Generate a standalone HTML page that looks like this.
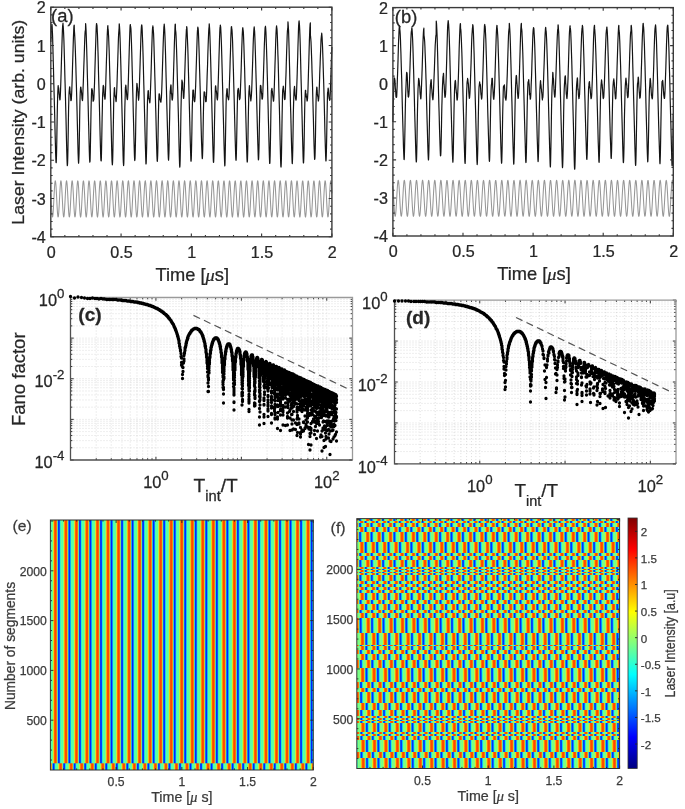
<!DOCTYPE html>
<html><head><meta charset="utf-8"><title>Figure</title>
<style>
html,body{margin:0;padding:0;background:#fff;width:685px;height:809px;overflow:hidden}
svg{display:block}
text{font-family:'Liberation Sans', Arial, sans-serif;fill:#262626;stroke:#262626;stroke-width:0.25px}
.tl{font-size:15.6px}
.al{font-size:17.5px}
.pl{font-size:17.5px}
.fl{font-size:17.3px}
.ts{font-size:12.2px;fill:#3a3a3a;stroke:#3a3a3a}
.as{font-size:13.8px;fill:#3a3a3a;stroke:#3a3a3a}
</style></head><body>
<svg width="685" height="809" viewBox="0 0 685 809"><defs><linearGradient id="gE" gradientUnits="userSpaceOnUse" x1="55.50" y1="0" x2="66.03" y2="0" spreadMethod="repeat"><stop offset="0.0000" stop-color="#ff4500"/><stop offset="0.0167" stop-color="#ff4700"/><stop offset="0.0333" stop-color="#ff4b00"/><stop offset="0.0500" stop-color="#ff5100"/><stop offset="0.0667" stop-color="#ff5b00"/><stop offset="0.0833" stop-color="#fe6a01"/><stop offset="0.1000" stop-color="#fb7f04"/><stop offset="0.1167" stop-color="#f2990d"/><stop offset="0.1333" stop-color="#e1b51e"/><stop offset="0.1500" stop-color="#c3ce3c"/><stop offset="0.1667" stop-color="#9add65"/><stop offset="0.1833" stop-color="#6cde93"/><stop offset="0.2000" stop-color="#41cebe"/><stop offset="0.2167" stop-color="#22b2dd"/><stop offset="0.2333" stop-color="#0f8ef0"/><stop offset="0.2500" stop-color="#0569fa"/><stop offset="0.2667" stop-color="#0249fd"/><stop offset="0.2833" stop-color="#0032ff"/><stop offset="0.3000" stop-color="#0024ff"/><stop offset="0.3167" stop-color="#001fff"/><stop offset="0.3333" stop-color="#0023ff"/><stop offset="0.3500" stop-color="#002eff"/><stop offset="0.3667" stop-color="#0041ff"/><stop offset="0.3833" stop-color="#015bfe"/><stop offset="0.4000" stop-color="#027bfd"/><stop offset="0.4167" stop-color="#059dfa"/><stop offset="0.4333" stop-color="#0cbef3"/><stop offset="0.4500" stop-color="#18d9e7"/><stop offset="0.4667" stop-color="#28ecd7"/><stop offset="0.4833" stop-color="#3af7c5"/><stop offset="0.5000" stop-color="#4bfcb4"/><stop offset="0.5167" stop-color="#58fea7"/><stop offset="0.5333" stop-color="#61ff9e"/><stop offset="0.5500" stop-color="#65ff9a"/><stop offset="0.5667" stop-color="#65ff9a"/><stop offset="0.5833" stop-color="#62ff9d"/><stop offset="0.6000" stop-color="#5dffa2"/><stop offset="0.6167" stop-color="#59ffa6"/><stop offset="0.6333" stop-color="#55ffaa"/><stop offset="0.6500" stop-color="#53ffac"/><stop offset="0.6667" stop-color="#53ffac"/><stop offset="0.6833" stop-color="#57ffa8"/><stop offset="0.7000" stop-color="#5effa1"/><stop offset="0.7167" stop-color="#69ff96"/><stop offset="0.7333" stop-color="#79ff86"/><stop offset="0.7500" stop-color="#8dfe72"/><stop offset="0.7667" stop-color="#a4fb5b"/><stop offset="0.7833" stop-color="#bef541"/><stop offset="0.8000" stop-color="#d5e92a"/><stop offset="0.8167" stop-color="#e7d618"/><stop offset="0.8333" stop-color="#f4be0b"/><stop offset="0.8500" stop-color="#fba404"/><stop offset="0.8667" stop-color="#fe8b01"/><stop offset="0.8833" stop-color="#ff7600"/><stop offset="0.9000" stop-color="#ff6600"/><stop offset="0.9167" stop-color="#ff5a00"/><stop offset="0.9333" stop-color="#ff5100"/><stop offset="0.9500" stop-color="#ff4b00"/><stop offset="0.9667" stop-color="#ff4700"/><stop offset="0.9833" stop-color="#ff4500"/><stop offset="1.0000" stop-color="#ff4500"/></linearGradient><linearGradient id="gE2" gradientUnits="userSpaceOnUse" x1="50.24" y1="0" x2="60.77" y2="0" spreadMethod="repeat"><stop offset="0.0000" stop-color="#ff4500"/><stop offset="0.0167" stop-color="#ff4700"/><stop offset="0.0333" stop-color="#ff4b00"/><stop offset="0.0500" stop-color="#ff5100"/><stop offset="0.0667" stop-color="#ff5b00"/><stop offset="0.0833" stop-color="#fe6a01"/><stop offset="0.1000" stop-color="#fb7f04"/><stop offset="0.1167" stop-color="#f2990d"/><stop offset="0.1333" stop-color="#e1b51e"/><stop offset="0.1500" stop-color="#c3ce3c"/><stop offset="0.1667" stop-color="#9add65"/><stop offset="0.1833" stop-color="#6cde93"/><stop offset="0.2000" stop-color="#41cebe"/><stop offset="0.2167" stop-color="#22b2dd"/><stop offset="0.2333" stop-color="#0f8ef0"/><stop offset="0.2500" stop-color="#0569fa"/><stop offset="0.2667" stop-color="#0249fd"/><stop offset="0.2833" stop-color="#0032ff"/><stop offset="0.3000" stop-color="#0024ff"/><stop offset="0.3167" stop-color="#001fff"/><stop offset="0.3333" stop-color="#0023ff"/><stop offset="0.3500" stop-color="#002eff"/><stop offset="0.3667" stop-color="#0041ff"/><stop offset="0.3833" stop-color="#015bfe"/><stop offset="0.4000" stop-color="#027bfd"/><stop offset="0.4167" stop-color="#059dfa"/><stop offset="0.4333" stop-color="#0cbef3"/><stop offset="0.4500" stop-color="#18d9e7"/><stop offset="0.4667" stop-color="#28ecd7"/><stop offset="0.4833" stop-color="#3af7c5"/><stop offset="0.5000" stop-color="#4bfcb4"/><stop offset="0.5167" stop-color="#58fea7"/><stop offset="0.5333" stop-color="#61ff9e"/><stop offset="0.5500" stop-color="#65ff9a"/><stop offset="0.5667" stop-color="#65ff9a"/><stop offset="0.5833" stop-color="#62ff9d"/><stop offset="0.6000" stop-color="#5dffa2"/><stop offset="0.6167" stop-color="#59ffa6"/><stop offset="0.6333" stop-color="#55ffaa"/><stop offset="0.6500" stop-color="#53ffac"/><stop offset="0.6667" stop-color="#53ffac"/><stop offset="0.6833" stop-color="#57ffa8"/><stop offset="0.7000" stop-color="#5effa1"/><stop offset="0.7167" stop-color="#69ff96"/><stop offset="0.7333" stop-color="#79ff86"/><stop offset="0.7500" stop-color="#8dfe72"/><stop offset="0.7667" stop-color="#a4fb5b"/><stop offset="0.7833" stop-color="#bef541"/><stop offset="0.8000" stop-color="#d5e92a"/><stop offset="0.8167" stop-color="#e7d618"/><stop offset="0.8333" stop-color="#f4be0b"/><stop offset="0.8500" stop-color="#fba404"/><stop offset="0.8667" stop-color="#fe8b01"/><stop offset="0.8833" stop-color="#ff7600"/><stop offset="0.9000" stop-color="#ff6600"/><stop offset="0.9167" stop-color="#ff5a00"/><stop offset="0.9333" stop-color="#ff5100"/><stop offset="0.9500" stop-color="#ff4b00"/><stop offset="0.9667" stop-color="#ff4700"/><stop offset="0.9833" stop-color="#ff4500"/><stop offset="1.0000" stop-color="#ff4500"/></linearGradient><linearGradient id="gX" gradientUnits="userSpaceOnUse" x1="364.55" y1="0" x2="375.97" y2="0" spreadMethod="repeat" gradientTransform="skewX(0.3552)"><stop offset="0.0000" stop-color="#ff4600"/><stop offset="0.0167" stop-color="#ff4900"/><stop offset="0.0333" stop-color="#ff4d00"/><stop offset="0.0500" stop-color="#ff5400"/><stop offset="0.0667" stop-color="#ff5e00"/><stop offset="0.0833" stop-color="#fe6d01"/><stop offset="0.1000" stop-color="#fc8203"/><stop offset="0.1167" stop-color="#f59d0a"/><stop offset="0.1333" stop-color="#e4bb1b"/><stop offset="0.1500" stop-color="#c6d539"/><stop offset="0.1667" stop-color="#9be564"/><stop offset="0.1833" stop-color="#6ae595"/><stop offset="0.2000" stop-color="#3ed7c1"/><stop offset="0.2167" stop-color="#1ebae1"/><stop offset="0.2333" stop-color="#0c97f3"/><stop offset="0.2500" stop-color="#0473fb"/><stop offset="0.2667" stop-color="#0154fe"/><stop offset="0.2833" stop-color="#003eff"/><stop offset="0.3000" stop-color="#0031ff"/><stop offset="0.3167" stop-color="#002dff"/><stop offset="0.3333" stop-color="#0031ff"/><stop offset="0.3500" stop-color="#003cff"/><stop offset="0.3667" stop-color="#004eff"/><stop offset="0.3833" stop-color="#0066ff"/><stop offset="0.4000" stop-color="#0184fe"/><stop offset="0.4167" stop-color="#04a5fb"/><stop offset="0.4333" stop-color="#0bc4f4"/><stop offset="0.4500" stop-color="#18dee7"/><stop offset="0.4667" stop-color="#2aefd5"/><stop offset="0.4833" stop-color="#40f9bf"/><stop offset="0.5000" stop-color="#56fda9"/><stop offset="0.5167" stop-color="#68ff97"/><stop offset="0.5333" stop-color="#76ff89"/><stop offset="0.5500" stop-color="#7fff80"/><stop offset="0.5667" stop-color="#83ff7c"/><stop offset="0.5833" stop-color="#83ff7c"/><stop offset="0.6000" stop-color="#81ff7e"/><stop offset="0.6167" stop-color="#7dff82"/><stop offset="0.6333" stop-color="#78ff87"/><stop offset="0.6500" stop-color="#74ff8b"/><stop offset="0.6667" stop-color="#71ff8e"/><stop offset="0.6833" stop-color="#71ff8e"/><stop offset="0.7000" stop-color="#75ff8a"/><stop offset="0.7167" stop-color="#7dff82"/><stop offset="0.7333" stop-color="#8aff75"/><stop offset="0.7500" stop-color="#9bfe64"/><stop offset="0.7667" stop-color="#b1fc4e"/><stop offset="0.7833" stop-color="#c8f637"/><stop offset="0.8000" stop-color="#deea21"/><stop offset="0.8167" stop-color="#eed611"/><stop offset="0.8333" stop-color="#f8bd07"/><stop offset="0.8500" stop-color="#fca203"/><stop offset="0.8667" stop-color="#fe8901"/><stop offset="0.8833" stop-color="#ff7500"/><stop offset="0.9000" stop-color="#ff6500"/><stop offset="0.9167" stop-color="#ff5900"/><stop offset="0.9333" stop-color="#ff5100"/><stop offset="0.9500" stop-color="#ff4b00"/><stop offset="0.9667" stop-color="#ff4800"/><stop offset="0.9833" stop-color="#ff4600"/><stop offset="1.0000" stop-color="#ff4600"/></linearGradient><linearGradient id="gY" gradientUnits="userSpaceOnUse" x1="358.65" y1="0" x2="370.07" y2="0" spreadMethod="repeat" gradientTransform="skewX(0.3552)"><stop offset="0.0000" stop-color="#ff4600"/><stop offset="0.0167" stop-color="#ff4900"/><stop offset="0.0333" stop-color="#ff4d00"/><stop offset="0.0500" stop-color="#ff5400"/><stop offset="0.0667" stop-color="#ff5e00"/><stop offset="0.0833" stop-color="#fe6d01"/><stop offset="0.1000" stop-color="#fc8203"/><stop offset="0.1167" stop-color="#f59d0a"/><stop offset="0.1333" stop-color="#e4bb1b"/><stop offset="0.1500" stop-color="#c6d539"/><stop offset="0.1667" stop-color="#9be564"/><stop offset="0.1833" stop-color="#6ae595"/><stop offset="0.2000" stop-color="#3ed7c1"/><stop offset="0.2167" stop-color="#1ebae1"/><stop offset="0.2333" stop-color="#0c97f3"/><stop offset="0.2500" stop-color="#0473fb"/><stop offset="0.2667" stop-color="#0154fe"/><stop offset="0.2833" stop-color="#003eff"/><stop offset="0.3000" stop-color="#0031ff"/><stop offset="0.3167" stop-color="#002dff"/><stop offset="0.3333" stop-color="#0031ff"/><stop offset="0.3500" stop-color="#003cff"/><stop offset="0.3667" stop-color="#004eff"/><stop offset="0.3833" stop-color="#0066ff"/><stop offset="0.4000" stop-color="#0184fe"/><stop offset="0.4167" stop-color="#04a5fb"/><stop offset="0.4333" stop-color="#0bc4f4"/><stop offset="0.4500" stop-color="#18dee7"/><stop offset="0.4667" stop-color="#2aefd5"/><stop offset="0.4833" stop-color="#40f9bf"/><stop offset="0.5000" stop-color="#56fda9"/><stop offset="0.5167" stop-color="#68ff97"/><stop offset="0.5333" stop-color="#76ff89"/><stop offset="0.5500" stop-color="#7fff80"/><stop offset="0.5667" stop-color="#83ff7c"/><stop offset="0.5833" stop-color="#83ff7c"/><stop offset="0.6000" stop-color="#81ff7e"/><stop offset="0.6167" stop-color="#7dff82"/><stop offset="0.6333" stop-color="#78ff87"/><stop offset="0.6500" stop-color="#74ff8b"/><stop offset="0.6667" stop-color="#71ff8e"/><stop offset="0.6833" stop-color="#71ff8e"/><stop offset="0.7000" stop-color="#75ff8a"/><stop offset="0.7167" stop-color="#7dff82"/><stop offset="0.7333" stop-color="#8aff75"/><stop offset="0.7500" stop-color="#9bfe64"/><stop offset="0.7667" stop-color="#b1fc4e"/><stop offset="0.7833" stop-color="#c8f637"/><stop offset="0.8000" stop-color="#deea21"/><stop offset="0.8167" stop-color="#eed611"/><stop offset="0.8333" stop-color="#f8bd07"/><stop offset="0.8500" stop-color="#fca203"/><stop offset="0.8667" stop-color="#fe8901"/><stop offset="0.8833" stop-color="#ff7500"/><stop offset="0.9000" stop-color="#ff6500"/><stop offset="0.9167" stop-color="#ff5900"/><stop offset="0.9333" stop-color="#ff5100"/><stop offset="0.9500" stop-color="#ff4b00"/><stop offset="0.9667" stop-color="#ff4800"/><stop offset="0.9833" stop-color="#ff4600"/><stop offset="1.0000" stop-color="#ff4600"/></linearGradient><linearGradient id="gC" x1="0" y1="1" x2="0" y2="0"><stop offset="0.0000" stop-color="#000080"/><stop offset="0.0156" stop-color="#00008f"/><stop offset="0.0312" stop-color="#00009f"/><stop offset="0.0469" stop-color="#0000af"/><stop offset="0.0625" stop-color="#0000bf"/><stop offset="0.0781" stop-color="#0000cf"/><stop offset="0.0938" stop-color="#0000df"/><stop offset="0.1094" stop-color="#0000ef"/><stop offset="0.1250" stop-color="#0000ff"/><stop offset="0.1406" stop-color="#0010ff"/><stop offset="0.1562" stop-color="#0020ff"/><stop offset="0.1719" stop-color="#0030ff"/><stop offset="0.1875" stop-color="#0040ff"/><stop offset="0.2031" stop-color="#0050ff"/><stop offset="0.2188" stop-color="#0060ff"/><stop offset="0.2344" stop-color="#0070ff"/><stop offset="0.2500" stop-color="#0080ff"/><stop offset="0.2656" stop-color="#008fff"/><stop offset="0.2812" stop-color="#009fff"/><stop offset="0.2969" stop-color="#00afff"/><stop offset="0.3125" stop-color="#00bfff"/><stop offset="0.3281" stop-color="#00cfff"/><stop offset="0.3438" stop-color="#00dfff"/><stop offset="0.3594" stop-color="#00efff"/><stop offset="0.3750" stop-color="#00ffff"/><stop offset="0.3906" stop-color="#10ffef"/><stop offset="0.4062" stop-color="#20ffdf"/><stop offset="0.4219" stop-color="#30ffcf"/><stop offset="0.4375" stop-color="#40ffbf"/><stop offset="0.4531" stop-color="#50ffaf"/><stop offset="0.4688" stop-color="#60ff9f"/><stop offset="0.4844" stop-color="#70ff8f"/><stop offset="0.5000" stop-color="#80ff80"/><stop offset="0.5156" stop-color="#8fff70"/><stop offset="0.5312" stop-color="#9fff60"/><stop offset="0.5469" stop-color="#afff50"/><stop offset="0.5625" stop-color="#bfff40"/><stop offset="0.5781" stop-color="#cfff30"/><stop offset="0.5938" stop-color="#dfff20"/><stop offset="0.6094" stop-color="#efff10"/><stop offset="0.6250" stop-color="#ffff00"/><stop offset="0.6406" stop-color="#ffef00"/><stop offset="0.6562" stop-color="#ffdf00"/><stop offset="0.6719" stop-color="#ffcf00"/><stop offset="0.6875" stop-color="#ffbf00"/><stop offset="0.7031" stop-color="#ffaf00"/><stop offset="0.7188" stop-color="#ff9f00"/><stop offset="0.7344" stop-color="#ff8f00"/><stop offset="0.7500" stop-color="#ff8000"/><stop offset="0.7656" stop-color="#ff7000"/><stop offset="0.7812" stop-color="#ff6000"/><stop offset="0.7969" stop-color="#ff5000"/><stop offset="0.8125" stop-color="#ff4000"/><stop offset="0.8281" stop-color="#ff3000"/><stop offset="0.8438" stop-color="#ff2000"/><stop offset="0.8594" stop-color="#ff1000"/><stop offset="0.8750" stop-color="#ff0000"/><stop offset="0.8906" stop-color="#ef0000"/><stop offset="0.9062" stop-color="#df0000"/><stop offset="0.9219" stop-color="#cf0000"/><stop offset="0.9375" stop-color="#bf0000"/><stop offset="0.9531" stop-color="#af0000"/><stop offset="0.9688" stop-color="#9f0000"/><stop offset="0.9844" stop-color="#8f0000"/><stop offset="1.0000" stop-color="#800000"/></linearGradient></defs><path d="M50.80 193.36 50.92 195.64 51.03 197.98 51.15 200.33 51.27 202.66 51.39 204.92 51.50 207.09 51.62 209.11 51.74 210.96 51.85 212.60 51.97 214.01 52.09 215.15 52.21 216.02 52.32 216.60 52.44 216.88 52.56 216.84 52.67 216.51 52.79 215.86 52.91 214.93 53.03 213.73 53.14 212.27 53.26 210.58 53.38 208.69 53.49 206.64 53.61 204.45 53.73 202.17 53.85 199.83 53.96 197.48 54.08 195.15 54.20 192.89 54.32 190.72 54.43 188.70 54.55 186.86 54.67 185.22 54.78 183.81 54.90 182.67 55.02 181.80 55.14 181.23 55.25 180.95 55.37 180.99 55.49 181.33 55.60 181.98 55.72 182.91 55.84 184.12 55.96 185.58 56.07 187.27 56.19 189.16 56.31 191.21 56.42 193.40 56.54 195.69 56.66 198.02 56.78 200.38 56.89 202.71 57.01 204.97 57.13 207.13 57.24 209.15 57.36 210.99 57.48 212.63 57.60 214.03 57.71 215.17 57.83 216.04 57.95 216.61 58.06 216.88 58.18 216.84 58.30 216.50 58.42 215.85 58.53 214.91 58.65 213.70 58.77 212.24 58.88 210.54 59.00 208.65 59.12 206.60 59.24 204.41 59.35 202.12 59.47 199.78 59.59 197.43 59.71 195.10 59.82 192.84 59.94 190.68 60.06 188.67 60.17 186.82 60.29 185.19 60.41 183.79 60.53 182.65 60.64 181.79 60.76 181.22 60.88 180.95 60.99 180.99 61.11 181.34 61.23 181.99 61.35 182.93 61.46 184.14 61.58 185.61 61.70 187.31 61.81 189.20 61.93 191.26 62.05 193.45 62.17 195.73 62.28 198.07 62.40 200.42 62.52 202.75 62.63 205.01 62.75 207.17 62.87 209.19 62.99 211.03 63.10 212.66 63.22 214.06 63.34 215.19 63.45 216.05 63.57 216.62 63.69 216.88 63.81 216.84 63.92 216.49 64.04 215.83 64.16 214.89 64.27 213.67 64.39 212.21 64.51 210.51 64.63 208.61 64.74 206.55 64.86 204.36 64.98 202.08 65.10 199.74 65.21 197.38 65.33 195.06 65.45 192.80 65.56 190.64 65.68 188.63 65.80 186.79 65.92 185.16 66.03 183.76 66.15 182.63 66.27 181.77 66.38 181.21 66.50 180.95 66.62 181.00 66.74 181.35 66.85 182.01 66.97 182.95 67.09 184.17 67.20 185.64 67.32 187.34 67.44 189.24 67.56 191.30 67.67 193.49 67.79 195.78 67.91 198.12 68.02 200.47 68.14 202.80 68.26 205.06 68.38 207.21 68.49 209.22 68.61 211.06 68.73 212.69 68.84 214.08 68.96 215.21 69.08 216.07 69.20 216.63 69.31 216.88 69.43 216.83 69.55 216.47 69.66 215.82 69.78 214.87 69.90 213.65 70.02 212.17 70.13 210.47 70.25 208.57 70.37 206.51 70.49 204.32 70.60 202.03 70.72 199.69 70.84 197.34 70.95 195.01 71.07 192.75 71.19 190.60 71.31 188.59 71.42 186.75 71.54 185.13 71.66 183.74 71.77 182.61 71.89 181.76 72.01 181.20 72.13 180.95 72.24 181.00 72.36 181.36 72.48 182.02 72.59 182.97 72.71 184.20 72.83 185.67 72.95 187.38 73.06 189.28 73.18 191.34 73.30 193.54 73.41 195.82 73.53 198.16 73.65 200.52 73.77 202.84 73.88 205.10 74.00 207.25 74.12 209.26 74.23 211.10 74.35 212.72 74.47 214.11 74.59 215.23 74.70 216.08 74.82 216.64 74.94 216.89 75.05 216.83 75.17 216.46 75.29 215.80 75.41 214.85 75.52 213.62 75.64 212.14 75.76 210.44 75.88 208.53 75.99 206.47 76.11 204.27 76.23 201.98 76.34 199.64 76.46 197.29 76.58 194.97 76.70 192.71 76.81 190.56 76.93 188.55 77.05 186.72 77.16 185.10 77.28 183.71 77.40 182.59 77.52 181.74 77.63 181.19 77.75 180.94 77.87 181.01 77.98 181.37 78.10 182.04 78.22 183.00 78.34 184.23 78.45 185.71 78.57 187.41 78.69 189.32 78.80 191.39 78.92 193.58 79.04 195.87 79.16 198.21 79.27 200.56 79.39 202.89 79.51 205.15 79.62 207.30 79.74 209.30 79.86 211.13 79.98 212.75 80.09 214.13 80.21 215.25 80.33 216.10 80.44 216.64 80.56 216.89 80.68 216.82 80.80 216.45 80.91 215.78 81.03 214.82 81.15 213.59 81.27 212.11 81.38 210.40 81.50 208.49 81.62 206.43 81.73 204.23 81.85 201.94 81.97 199.60 82.09 197.24 82.20 194.92 82.32 192.66 82.44 190.52 82.55 188.51 82.67 186.68 82.79 185.07 82.91 183.69 83.02 182.57 83.14 181.73 83.26 181.18 83.37 180.94 83.49 181.01 83.61 181.38 83.73 182.06 83.84 183.02 83.96 184.25 84.08 185.74 84.19 187.45 84.31 189.36 84.43 191.43 84.55 193.63 84.66 195.92 84.78 198.26 84.90 200.61 85.01 202.94 85.13 205.19 85.25 207.34 85.37 209.34 85.48 211.16 85.60 212.78 85.72 214.16 85.83 215.27 85.95 216.11 86.07 216.65 86.19 216.89 86.30 216.82 86.42 216.44 86.54 215.77 86.66 214.80 86.77 213.57 86.89 212.08 87.01 210.36 87.12 208.45 87.24 206.38 87.36 204.18 87.48 201.89 87.59 199.55 87.71 197.20 87.83 194.87 87.94 192.62 88.06 190.47 88.18 188.47 88.30 186.65 88.41 185.04 88.53 183.66 88.65 182.55 88.76 181.72 88.88 181.18 89.00 180.94 89.12 181.01 89.23 181.39 89.35 182.07 89.47 183.04 89.58 184.28 89.70 185.77 89.82 187.49 89.94 189.40 90.05 191.47 90.17 193.67 90.29 195.96 90.40 198.31 90.52 200.66 90.64 202.98 90.76 205.23 90.87 207.38 90.99 209.38 91.11 211.20 91.22 212.81 91.34 214.18 91.46 215.29 91.58 216.12 91.69 216.66 91.81 216.89 91.93 216.82 92.05 216.43 92.16 215.75 92.28 214.78 92.40 213.54 92.51 212.05 92.63 210.33 92.75 208.42 92.87 206.34 92.98 204.14 93.10 201.84 93.22 199.50 93.33 197.15 93.45 194.83 93.57 192.58 93.69 190.43 93.80 188.43 93.92 186.62 94.04 185.01 94.15 183.64 94.27 182.53 94.39 181.70 94.51 181.17 94.62 180.94 94.74 181.02 94.86 181.40 94.97 182.09 95.09 183.06 95.21 184.31 95.33 185.80 95.44 187.52 95.56 189.44 95.68 191.51 95.79 193.72 95.91 196.01 96.03 198.35 96.15 200.71 96.26 203.03 96.38 205.28 96.50 207.42 96.61 209.42 96.73 211.23 96.85 212.84 96.97 214.21 97.08 215.31 97.20 216.14 97.32 216.67 97.44 216.89 97.55 216.81 97.67 216.42 97.79 215.73 97.90 214.76 98.02 213.51 98.14 212.01 98.26 210.29 98.37 208.37 98.49 206.30 98.61 204.09 98.72 201.80 98.84 199.46 98.96 197.10 99.08 194.78 99.19 192.53 99.31 190.39 99.43 188.40 99.54 186.58 99.66 184.98 99.78 183.61 99.90 182.51 100.01 181.69 100.13 181.16 100.25 180.94 100.36 181.02 100.48 181.41 100.60 182.11 100.72 183.09 100.83 184.34 100.95 185.83 101.07 187.56 101.18 189.48 101.30 191.56 101.42 193.76 101.54 196.06 101.65 198.40 101.77 200.75 101.89 203.07 102.00 205.32 102.12 207.46 102.24 209.46 102.36 211.27 102.47 212.87 102.59 214.23 102.71 215.33 102.83 216.15 102.94 216.67 103.06 216.89 103.18 216.81 103.29 216.41 103.41 215.72 103.53 214.74 103.65 213.48 103.76 211.98 103.88 210.25 104.00 208.33 104.11 206.25 104.23 204.05 104.35 201.75 104.47 199.41 104.58 197.06 104.70 194.74 104.82 192.49 104.93 190.35 105.05 188.36 105.17 186.55 105.29 184.95 105.40 183.59 105.52 182.49 105.64 181.67 105.75 181.15 105.87 180.94 105.99 181.03 106.11 181.43 106.22 182.12 106.34 183.11 106.46 184.36 106.57 185.87 106.69 187.60 106.81 189.52 106.93 191.60 107.04 193.81 107.16 196.10 107.28 198.45 107.39 200.80 107.51 203.12 107.63 205.37 107.75 207.50 107.86 209.49 107.98 211.30 108.10 212.90 108.22 214.26 108.33 215.35 108.45 216.16 108.57 216.68 108.68 216.90 108.80 216.80 108.92 216.40 109.04 215.70 109.15 214.71 109.27 213.46 109.39 211.95 109.50 210.22 109.62 208.29 109.74 206.21 109.86 204.00 109.97 201.71 110.09 199.36 110.21 197.01 110.32 194.69 110.44 192.44 110.56 190.31 110.68 188.32 110.79 186.51 110.91 184.92 111.03 183.56 111.14 182.47 111.26 181.66 111.38 181.15 111.50 180.94 111.61 181.03 111.73 181.44 111.85 182.14 111.96 183.13 112.08 184.39 112.20 185.90 112.32 187.63 112.43 189.56 112.55 191.64 112.67 193.85 112.78 196.15 112.90 198.49 113.02 200.85 113.14 203.16 113.25 205.41 113.37 207.54 113.49 209.53 113.61 211.34 113.72 212.93 113.84 214.28 113.96 215.37 114.07 216.18 114.19 216.69 114.31 216.90 114.43 216.80 114.54 216.39 114.66 215.68 114.78 214.69 114.89 213.43 115.01 211.92 115.13 210.18 115.25 208.25 115.36 206.17 115.48 203.96 115.60 201.66 115.71 199.31 115.83 196.96 115.95 194.64 116.07 192.40 116.18 190.27 116.30 188.28 116.42 186.48 116.53 184.89 116.65 183.54 116.77 182.45 116.89 181.65 117.00 181.14 117.12 180.93 117.24 181.04 117.35 181.45 117.47 182.16 117.59 183.15 117.71 184.42 117.82 185.93 117.94 187.67 118.06 189.60 118.17 191.69 118.29 193.90 118.41 196.20 118.53 198.54 118.64 200.89 118.76 203.21 118.88 205.45 119.00 207.59 119.11 209.57 119.23 211.37 119.35 212.96 119.46 214.31 119.58 215.39 119.70 216.19 119.82 216.70 119.93 216.90 120.05 216.79 120.17 216.38 120.28 215.67 120.40 214.67 120.52 213.40 120.64 211.88 120.75 210.14 120.87 208.21 120.99 206.12 121.10 203.91 121.22 201.61 121.34 199.27 121.46 196.92 121.57 194.60 121.69 192.36 121.81 190.23 121.92 188.24 122.04 186.44 122.16 184.86 122.28 183.51 122.39 182.43 122.51 181.63 122.63 181.13 122.74 180.93 122.86 181.04 122.98 181.46 123.10 182.17 123.21 183.18 123.33 184.45 123.45 185.96 123.56 187.71 123.68 189.64 123.80 191.73 123.92 193.94 124.03 196.24 124.15 198.59 124.27 200.94 124.39 203.26 124.50 205.50 124.62 207.63 124.74 209.61 124.85 211.40 124.97 212.99 125.09 214.33 125.21 215.41 125.32 216.20 125.44 216.70 125.56 216.90 125.67 216.79 125.79 216.37 125.91 215.65 126.03 214.65 126.14 213.37 126.26 211.85 126.38 210.11 126.49 208.17 126.61 206.08 126.73 203.87 126.85 201.57 126.96 199.22 127.08 196.87 127.20 194.55 127.31 192.31 127.43 190.18 127.55 188.21 127.67 186.41 127.78 184.83 127.90 183.49 128.02 182.41 128.13 181.62 128.25 181.13 128.37 180.93 128.49 181.05 128.60 181.47 128.72 182.19 128.84 183.20 128.95 184.47 129.07 186.00 129.19 187.74 129.31 189.68 129.42 191.77 129.54 193.99 129.66 196.29 129.78 198.64 129.89 200.99 130.01 203.30 130.13 205.54 130.24 207.67 130.36 209.65 130.48 211.44 130.60 213.02 130.71 214.35 130.83 215.43 130.95 216.22 131.06 216.71 131.18 216.90 131.30 216.78 131.42 216.36 131.53 215.63 131.65 214.62 131.77 213.34 131.88 211.82 132.00 210.07 132.12 208.13 132.24 206.04 132.35 203.82 132.47 201.52 132.59 199.17 132.70 196.82 132.82 194.51 132.94 192.27 133.06 190.14 133.17 188.17 133.29 186.38 133.41 184.80 133.52 183.47 133.64 182.40 133.76 181.61 133.88 181.12 133.99 180.93 134.11 181.05 134.23 181.48 134.34 182.21 134.46 183.22 134.58 184.50 134.70 186.03 134.81 187.78 134.93 189.72 135.05 191.82 135.17 194.03 135.28 196.34 135.40 198.68 135.52 201.03 135.63 203.35 135.75 205.59 135.87 207.71 135.99 209.68 136.10 211.47 136.22 213.05 136.34 214.38 136.45 215.45 136.57 216.23 136.69 216.72 136.81 216.90 136.92 216.77 137.04 216.34 137.16 215.61 137.27 214.60 137.39 213.32 137.51 211.79 137.63 210.03 137.74 208.09 137.86 205.99 137.98 203.77 138.09 201.47 138.21 199.13 138.33 196.78 138.45 194.46 138.56 192.22 138.68 190.10 138.80 188.13 138.91 186.34 139.03 184.77 139.15 183.44 139.27 182.38 139.38 181.60 139.50 181.11 139.62 180.93 139.73 181.06 139.85 181.49 139.97 182.23 140.09 183.24 140.20 184.53 140.32 186.06 140.44 187.82 140.56 189.76 140.67 191.86 140.79 194.08 140.91 196.38 141.02 198.73 141.14 201.08 141.26 203.39 141.38 205.63 141.49 207.75 141.61 209.72 141.73 211.51 141.84 213.07 141.96 214.40 142.08 215.46 142.20 216.24 142.31 216.72 142.43 216.90 142.55 216.77 142.66 216.33 142.78 215.60 142.90 214.58 143.02 213.29 143.13 211.75 143.25 210.00 143.37 208.05 143.48 205.95 143.60 203.73 143.72 201.43 143.84 199.08 143.95 196.73 144.07 194.42 144.19 192.18 144.30 190.06 144.42 188.09 144.54 186.31 144.66 184.74 144.77 183.42 144.89 182.36 145.01 181.58 145.12 181.10 145.24 180.93 145.36 181.07 145.48 181.51 145.59 182.24 145.71 183.27 145.83 184.56 145.95 186.10 146.06 187.85 146.18 189.80 146.30 191.90 146.41 194.13 146.53 196.43 146.65 198.78 146.77 201.13 146.88 203.44 147.00 205.67 147.12 207.79 147.23 209.76 147.35 211.54 147.47 213.10 147.59 214.43 147.70 215.48 147.82 216.25 147.94 216.73 148.05 216.90 148.17 216.76 148.29 216.32 148.41 215.58 148.52 214.55 148.64 213.26 148.76 211.72 148.87 209.96 148.99 208.01 149.11 205.91 149.23 203.68 149.34 201.38 149.46 199.03 149.58 196.68 149.69 194.37 149.81 192.14 149.93 190.02 150.05 188.06 150.16 186.28 150.28 184.71 150.40 183.39 150.51 182.34 150.63 181.57 150.75 181.10 150.87 180.93 150.98 181.07 151.10 181.52 151.22 182.26 151.34 183.29 151.45 184.59 151.57 186.13 151.69 187.89 151.80 189.84 151.92 191.95 152.04 194.17 152.16 196.48 152.27 198.82 152.39 201.17 152.51 203.48 152.62 205.72 152.74 207.83 152.86 209.80 152.98 211.57 153.09 213.13 153.21 214.45 153.33 215.50 153.44 216.27 153.56 216.74 153.68 216.90 153.80 216.76 153.91 216.31 154.03 215.56 154.15 214.53 154.26 213.23 154.38 211.69 154.50 209.92 154.62 207.97 154.73 205.86 154.85 203.64 154.97 201.33 155.08 198.98 155.20 196.64 155.32 194.33 155.44 192.09 155.55 189.98 155.67 188.02 155.79 186.24 155.90 184.68 156.02 183.37 156.14 182.32 156.26 181.56 156.37 181.09 156.49 180.93 156.61 181.08 156.73 181.53 156.84 182.28 156.96 183.31 157.08 184.62 157.19 186.16 157.31 187.93 157.43 189.88 157.55 191.99 157.66 194.22 157.78 196.52 157.90 198.87 158.01 201.22 158.13 203.53 158.25 205.76 158.37 207.87 158.48 209.83 158.60 211.61 158.72 213.16 158.83 214.47 158.95 215.52 159.07 216.28 159.19 216.74 159.30 216.90 159.42 216.75 159.54 216.30 159.65 215.54 159.77 214.51 159.89 213.20 160.01 211.65 160.12 209.89 160.24 207.93 160.36 205.82 160.47 203.59 160.59 201.29 160.71 198.94 160.83 196.59 160.94 194.28 161.06 192.05 161.18 189.94 161.29 187.98 161.41 186.21 161.53 184.66 161.65 183.35 161.76 182.30 161.88 181.55 162.00 181.09 162.12 180.93 162.23 181.08 162.35 181.54 162.47 182.30 162.58 183.34 162.70 184.64 162.82 186.20 162.94 187.97 163.05 189.92 163.17 192.03 163.29 194.26 163.40 196.57 163.52 198.92 163.64 201.27 163.76 203.58 163.87 205.80 163.99 207.91 164.11 209.87 164.22 211.64 164.34 213.19 164.46 214.50 164.58 215.54 164.69 216.29 164.81 216.75 164.93 216.90 165.04 216.75 165.16 216.28 165.28 215.53 165.40 214.48 165.51 213.17 165.63 211.62 165.75 209.85 165.86 207.89 165.98 205.78 166.10 203.55 166.22 201.24 166.33 198.89 166.45 196.54 166.57 194.23 166.68 192.01 166.80 189.90 166.92 187.94 167.04 186.18 167.15 184.63 167.27 183.32 167.39 182.29 167.51 181.53 167.62 181.08 167.74 180.93 167.86 181.09 167.97 181.55 168.09 182.32 168.21 183.36 168.33 184.67 168.44 186.23 168.56 188.00 168.68 189.96 168.79 192.08 168.91 194.31 169.03 196.62 169.15 198.97 169.26 201.31 169.38 203.62 169.50 205.85 169.61 207.95 169.73 209.91 169.85 211.67 169.97 213.22 170.08 214.52 170.20 215.55 170.32 216.30 170.43 216.76 170.55 216.90 170.67 216.74 170.79 216.27 170.90 215.51 171.02 214.46 171.14 213.14 171.25 211.59 171.37 209.81 171.49 207.85 171.61 205.73 171.72 203.50 171.84 201.19 171.96 198.84 172.07 196.50 172.19 194.19 172.31 191.96 172.43 189.86 172.54 187.91 172.66 186.14 172.78 184.60 172.90 183.30 173.01 182.27 173.13 181.52 173.25 181.07 173.36 180.93 173.48 181.10 173.60 181.57 173.72 182.33 173.83 183.38 173.95 184.70 174.07 186.26 174.18 188.04 174.30 190.00 174.42 192.12 174.54 194.35 174.65 196.66 174.77 199.01 174.89 201.36 175.00 203.67 175.12 205.89 175.24 208.00 175.36 209.95 175.47 211.71 175.59 213.25 175.71 214.54 175.82 215.57 175.94 216.32 176.06 216.76 176.18 216.90 176.29 216.73 176.41 216.26 176.53 215.49 176.64 214.44 176.76 213.12 176.88 211.55 177.00 209.77 177.11 207.81 177.23 205.69 177.35 203.46 177.46 201.15 177.58 198.80 177.70 196.45 177.82 194.14 177.93 191.92 178.05 189.82 178.17 187.87 178.29 186.11 178.40 184.57 178.52 183.28 178.64 182.25 178.75 181.51 178.87 181.07 178.99 180.93 179.11 181.10 179.22 181.58 179.34 182.35 179.46 183.41 179.57 184.73 179.69 186.30 179.81 188.08 179.93 190.04 180.04 192.16 180.16 194.40 180.28 196.71 180.39 199.06 180.51 201.41 180.63 203.71 180.75 205.93 180.86 208.04 180.98 209.98 181.10 211.74 181.21 213.28 181.33 214.57 181.45 215.59 181.57 216.33 181.68 216.77 181.80 216.90 181.92 216.73 182.03 216.25 182.15 215.47 182.27 214.41 182.39 213.09 182.50 211.52 182.62 209.74 182.74 207.77 182.85 205.65 182.97 203.41 183.09 201.10 183.21 198.75 183.32 196.40 183.44 194.10 183.56 191.88 183.68 189.78 183.79 187.83 183.91 186.08 184.03 184.54 184.14 183.25 184.26 182.23 184.38 181.50 184.50 181.06 184.61 180.93 184.73 181.11 184.85 181.59 184.96 182.37 185.08 183.43 185.20 184.76 185.32 186.33 185.43 188.12 185.55 190.09 185.67 192.21 185.78 194.44 185.90 196.76 186.02 199.11 186.14 201.45 186.25 203.76 186.37 205.98 186.49 208.08 186.60 210.02 186.72 211.77 186.84 213.30 186.96 214.59 187.07 215.61 187.19 216.34 187.31 216.77 187.42 216.90 187.54 216.72 187.66 216.23 187.78 215.45 187.89 214.39 188.01 213.06 188.13 211.49 188.24 209.70 188.36 207.73 188.48 205.60 188.60 203.37 188.71 201.05 188.83 198.70 188.95 196.36 189.07 194.05 189.18 191.83 189.30 189.73 189.42 187.79 189.53 186.04 189.65 184.51 189.77 183.23 189.89 182.22 190.00 181.49 190.12 181.06 190.24 180.93 190.35 181.12 190.47 181.60 190.59 182.39 190.71 183.46 190.82 184.79 190.94 186.36 191.06 188.15 191.17 190.13 191.29 192.25 191.41 194.49 191.53 196.80 191.64 199.15 191.76 201.50 191.88 203.80 191.99 206.02 192.11 208.12 192.23 210.06 192.35 211.80 192.46 213.33 192.58 214.61 192.70 215.63 192.81 216.35 192.93 216.78 193.05 216.90 193.17 216.71 193.28 216.22 193.40 215.43 193.52 214.36 193.63 213.03 193.75 211.45 193.87 209.66 193.99 207.68 194.10 205.56 194.22 203.32 194.34 201.01 194.46 198.65 194.57 196.31 194.69 194.01 194.81 191.79 194.92 189.69 195.04 187.76 195.16 186.01 195.28 184.49 195.39 183.21 195.51 182.20 195.63 181.48 195.74 181.05 195.86 180.93 195.98 181.12 196.10 181.62 196.21 182.41 196.33 183.48 196.45 184.82 196.56 186.40 196.68 188.19 196.80 190.17 196.92 192.29 197.03 194.53 197.15 196.85 197.27 199.20 197.38 201.55 197.50 203.85 197.62 206.06 197.74 208.16 197.85 210.09 197.97 211.84 198.09 213.36 198.20 214.64 198.32 215.64 198.44 216.36 198.56 216.78 198.67 216.90 198.79 216.71 198.91 216.21 199.02 215.42 199.14 214.34 199.26 213.00 199.38 211.42 199.49 209.62 199.61 207.64 199.73 205.52 199.85 203.27 199.96 200.96 200.08 198.61 200.20 196.26 200.31 193.96 200.43 191.75 200.55 189.65 200.67 187.72 200.78 185.98 200.90 184.46 201.02 183.18 201.13 182.18 201.25 181.46 201.37 181.05 201.49 180.93 201.60 181.13 201.72 181.63 201.84 182.43 201.95 183.50 202.07 184.85 202.19 186.43 202.31 188.23 202.42 190.21 202.54 192.34 202.66 194.58 202.77 196.90 202.89 199.25 203.01 201.59 203.13 203.89 203.24 206.11 203.36 208.20 203.48 210.13 203.59 211.87 203.71 213.39 203.83 214.66 203.95 215.66 204.06 216.37 204.18 216.79 204.30 216.90 204.41 216.70 204.53 216.20 204.65 215.40 204.77 214.31 204.88 212.97 205.00 211.38 205.12 209.58 205.24 207.60 205.35 205.47 205.47 203.23 205.59 200.91 205.70 198.56 205.82 196.22 205.94 193.92 206.06 191.70 206.17 189.61 206.29 187.68 206.41 185.95 206.52 184.43 206.64 183.16 206.76 182.16 206.88 181.45 206.99 181.04 207.11 180.93 207.23 181.14 207.34 181.64 207.46 182.44 207.58 183.53 207.70 184.88 207.81 186.47 207.93 188.27 208.05 190.25 208.16 192.38 208.28 194.63 208.40 196.94 208.52 199.30 208.63 201.64 208.75 203.94 208.87 206.15 208.98 208.24 209.10 210.17 209.22 211.90 209.34 213.42 209.45 214.68 209.57 215.68 209.69 216.39 209.80 216.79 209.92 216.90 210.04 216.69 210.16 216.18 210.27 215.38 210.39 214.29 210.51 212.94 210.63 211.35 210.74 209.55 210.86 207.56 210.98 205.43 211.09 203.18 211.21 200.86 211.33 198.51 211.45 196.17 211.56 193.87 211.68 191.66 211.80 189.57 211.91 187.65 212.03 185.91 212.15 184.40 212.27 183.14 212.38 182.15 212.50 181.44 212.62 181.04 212.73 180.94 212.85 181.14 212.97 181.66 213.09 182.46 213.20 183.55 213.32 184.91 213.44 186.50 213.55 188.30 213.67 190.29 213.79 192.43 213.91 194.67 214.02 196.99 214.14 199.34 214.26 201.69 214.37 203.98 214.49 206.19 214.61 208.28 214.73 210.20 214.84 211.94 214.96 213.44 215.08 214.70 215.19 215.69 215.31 216.40 215.43 216.80 215.55 216.90 215.66 216.68 215.78 216.17 215.90 215.36 216.02 214.27 216.13 212.91 216.25 211.32 216.37 209.51 216.48 207.52 216.60 205.38 216.72 203.14 216.84 200.82 216.95 198.47 217.07 196.12 217.19 193.83 217.30 191.62 217.42 189.53 217.54 187.61 217.66 185.88 217.77 184.37 217.89 183.12 218.01 182.13 218.12 181.43 218.24 181.03 218.36 180.94 218.48 181.15 218.59 181.67 218.71 182.48 218.83 183.58 218.94 184.94 219.06 186.53 219.18 188.34 219.30 190.33 219.41 192.47 219.53 194.72 219.65 197.04 219.76 199.39 219.88 201.73 220.00 204.03 220.12 206.24 220.23 208.32 220.35 210.24 220.47 211.97 220.58 213.47 220.70 214.73 220.82 215.71 220.94 216.41 221.05 216.80 221.17 216.89 221.29 216.68 221.41 216.16 221.52 215.34 221.64 214.24 221.76 212.88 221.87 211.28 221.99 209.47 222.11 207.48 222.23 205.34 222.34 203.09 222.46 200.77 222.58 198.42 222.69 196.08 222.81 193.78 222.93 191.57 223.05 189.49 223.16 187.57 223.28 185.85 223.40 184.35 223.51 183.09 223.63 182.11 223.75 181.42 223.87 181.03 223.98 180.94 224.10 181.16 224.22 181.68 224.33 182.50 224.45 183.60 224.57 184.97 224.69 186.57 224.80 188.38 224.92 190.37 225.04 192.51 225.15 194.76 225.27 197.08 225.39 199.44 225.51 201.78 225.62 204.07 225.74 206.28 225.86 208.36 225.97 210.28 226.09 212.00 226.21 213.50 226.33 214.75 226.44 215.73 226.56 216.42 226.68 216.81 226.80 216.89 226.91 216.67 227.03 216.14 227.15 215.32 227.26 214.22 227.38 212.85 227.50 211.25 227.62 209.43 227.73 207.44 227.85 205.30 227.97 203.05 228.08 200.72 228.20 198.37 228.32 196.03 228.44 193.74 228.55 191.53 228.67 189.45 228.79 187.54 228.90 185.82 229.02 184.32 229.14 183.07 229.26 182.10 229.37 181.41 229.49 181.02 229.61 180.94 229.72 181.17 229.84 181.70 229.96 182.52 230.08 183.63 230.19 185.00 230.31 186.60 230.43 188.42 230.54 190.42 230.66 192.56 230.78 194.81 230.90 197.13 231.01 199.48 231.13 201.83 231.25 204.12 231.36 206.32 231.48 208.40 231.60 210.31 231.72 212.03 231.83 213.53 231.95 214.77 232.07 215.74 232.19 216.43 232.30 216.81 232.42 216.89 232.54 216.66 232.65 216.13 232.77 215.30 232.89 214.19 233.01 212.82 233.12 211.21 233.24 209.39 233.36 207.40 233.47 205.25 233.59 203.00 233.71 200.68 233.83 198.32 233.94 195.98 234.06 193.69 234.18 191.49 234.29 189.41 234.41 187.50 234.53 185.78 234.65 184.29 234.76 183.05 234.88 182.08 235.00 181.40 235.11 181.02 235.23 180.94 235.35 181.17 235.47 181.71 235.58 182.54 235.70 183.65 235.82 185.03 235.93 186.64 236.05 188.46 236.17 190.46 236.29 192.60 236.40 194.86 236.52 197.18 236.64 199.53 236.75 201.87 236.87 204.16 236.99 206.37 237.11 208.44 237.22 210.35 237.34 212.06 237.46 213.55 237.58 214.79 237.69 215.76 237.81 216.44 237.93 216.82 238.04 216.89 238.16 216.65 238.28 216.12 238.40 215.28 238.51 214.17 238.63 212.79 238.75 211.18 238.86 209.36 238.98 207.35 239.10 205.21 239.22 202.95 239.33 200.63 239.45 198.28 239.57 195.94 239.68 193.65 239.80 191.45 239.92 189.37 240.04 187.46 240.15 185.75 240.27 184.26 240.39 183.03 240.50 182.06 240.62 181.39 240.74 181.01 240.86 180.94 240.97 181.18 241.09 181.72 241.21 182.56 241.32 183.68 241.44 185.06 241.56 186.67 241.68 188.50 241.79 190.50 241.91 192.65 242.03 194.90 242.14 197.23 242.26 199.58 242.38 201.92 242.50 204.21 242.61 206.41 242.73 208.48 242.85 210.39 242.97 212.10 243.08 213.58 243.20 214.82 243.32 215.78 243.43 216.45 243.55 216.82 243.67 216.89 243.79 216.65 243.90 216.10 244.02 215.26 244.14 214.14 244.25 212.76 244.37 211.14 244.49 209.32 244.61 207.31 244.72 205.16 244.84 202.91 244.96 200.58 245.07 198.23 245.19 195.89 245.31 193.60 245.43 191.40 245.54 189.33 245.66 187.43 245.78 185.72 245.89 184.24 246.01 183.01 246.13 182.05 246.25 181.38 246.36 181.01 246.48 180.94 246.60 181.19 246.71 181.74 246.83 182.58 246.95 183.70 247.07 185.09 247.18 186.71 247.30 188.53 247.42 190.54 247.53 192.69 247.65 194.95 247.77 197.27 247.89 199.62 248.00 201.97 248.12 204.25 248.24 206.45 248.36 208.52 248.47 210.42 248.59 212.13 248.71 213.61 248.82 214.84 248.94 215.79 249.06 216.46 249.18 216.83 249.29 216.89 249.41 216.64 249.53 216.09 249.64 215.24 249.76 214.12 249.88 212.73 250.00 211.11 250.11 209.28 250.23 207.27 250.35 205.12 250.46 202.86 250.58 200.54 250.70 198.18 250.82 195.84 250.93 193.56 251.05 191.36 251.17 189.29 251.28 187.39 251.40 185.69 251.52 184.21 251.64 182.98 251.75 182.03 251.87 181.37 251.99 181.00 252.10 180.95 252.22 181.20 252.34 181.75 252.46 182.60 252.57 183.73 252.69 185.12 252.81 186.74 252.92 188.57 253.04 190.58 253.16 192.73 253.28 194.99 253.39 197.32 253.51 199.67 253.63 202.01 253.75 204.30 253.86 206.49 253.98 208.56 254.10 210.46 254.21 212.16 254.33 213.64 254.45 214.86 254.57 215.81 254.68 216.47 254.80 216.83 254.92 216.88 255.03 216.63 255.15 216.07 255.27 215.22 255.39 214.09 255.50 212.70 255.62 211.07 255.74 209.24 255.85 207.23 255.97 205.07 256.09 202.82 256.21 200.49 256.32 198.14 256.44 195.80 256.56 193.51 256.67 191.32 256.79 189.25 256.91 187.36 257.03 185.66 257.14 184.18 257.26 182.96 257.38 182.01 257.49 181.36 257.61 181.00 257.73 180.95 257.85 181.21 257.96 181.77 258.08 182.62 258.20 183.75 258.31 185.15 258.43 186.77 258.55 188.61 258.67 190.62 258.78 192.78 258.90 195.04 259.02 197.37 259.14 199.72 259.25 202.06 259.37 204.34 259.49 206.54 259.60 208.60 259.72 210.49 259.84 212.19 259.96 213.66 260.07 214.88 260.19 215.83 260.31 216.48 260.42 216.84 260.54 216.88 260.66 216.62 260.78 216.06 260.89 215.20 261.01 214.07 261.13 212.67 261.24 211.04 261.36 209.20 261.48 207.19 261.60 205.03 261.71 202.77 261.83 200.44 261.95 198.09 262.06 195.75 262.18 193.47 262.30 191.27 262.42 189.21 262.53 187.32 262.65 185.62 262.77 184.16 262.88 182.94 263.00 182.00 263.12 181.35 263.24 180.99 263.35 180.95 263.47 181.21 263.59 181.78 263.70 182.64 263.82 183.78 263.94 185.18 264.06 186.81 264.17 188.65 264.29 190.67 264.41 192.82 264.53 195.09 264.64 197.41 264.76 199.77 264.88 202.10 264.99 204.39 265.11 206.58 265.23 208.64 265.35 210.53 265.46 212.22 265.58 213.69 265.70 214.90 265.81 215.84 265.93 216.49 266.05 216.84 266.17 216.88 266.28 216.61 266.40 216.04 266.52 215.18 266.63 214.04 266.75 212.64 266.87 211.01 266.99 209.16 267.10 207.15 267.22 204.99 267.34 202.72 267.45 200.40 267.57 198.04 267.69 195.70 267.81 193.42 267.92 191.23 268.04 189.17 268.16 187.28 268.27 185.59 268.39 184.13 268.51 182.92 268.63 181.98 268.74 181.34 268.86 180.99 268.98 180.95 269.09 181.22 269.21 181.79 269.33 182.66 269.45 183.80 269.56 185.21 269.68 186.84 269.80 188.69 269.92 190.71 270.03 192.87 270.15 195.13 270.27 197.46 270.38 199.81 270.50 202.15 270.62 204.43 270.74 206.62 270.85 208.68 270.97 210.57 271.09 212.26 271.20 213.72 271.32 214.92 271.44 215.86 271.56 216.50 271.67 216.84 271.79 216.88 271.91 216.61 272.02 216.03 272.14 215.16 272.26 214.02 272.38 212.61 272.49 210.97 272.61 209.12 272.73 207.10 272.84 204.94 272.96 202.68 273.08 200.35 273.20 198.00 273.31 195.66 273.43 193.38 273.55 191.19 273.66 189.13 273.78 187.25 273.90 185.56 274.02 184.10 274.13 182.90 274.25 181.97 274.37 181.33 274.48 180.99 274.60 180.95 274.72 181.23 274.84 181.81 274.95 182.68 275.07 183.83 275.19 185.24 275.31 186.88 275.42 188.73 275.54 190.75 275.66 192.91 275.77 195.18 275.89 197.51 276.01 199.86 276.13 202.20 276.24 204.48 276.36 206.66 276.48 208.72 276.59 210.60 276.71 212.29 276.83 213.74 276.95 214.95 277.06 215.87 277.18 216.51 277.30 216.85 277.41 216.88 277.53 216.60 277.65 216.02 277.77 215.14 277.88 213.99 278.00 212.58 278.12 210.94 278.23 209.09 278.35 207.06 278.47 204.90 278.59 202.63 278.70 200.30 278.82 197.95 278.94 195.61 279.05 193.33 279.17 191.15 279.29 189.10 279.41 187.21 279.52 185.53 279.64 184.08 279.76 182.88 279.87 181.95 279.99 181.32 280.11 180.98 280.23 180.96 280.34 181.24 280.46 181.82 280.58 182.70 280.70 183.86 280.81 185.27 280.93 186.91 281.05 188.77 281.16 190.79 281.28 192.96 281.40 195.22 281.52 197.55 281.63 199.91 281.75 202.24 281.87 204.52 281.98 206.71 282.10 208.76 282.22 210.64 282.34 212.32 282.45 213.77 282.57 214.97 282.69 215.89 282.80 216.52 282.92 216.85 283.04 216.87 283.16 216.59 283.27 216.00 283.39 215.12 283.51 213.96 283.62 212.55 283.74 210.90 283.86 209.05 283.98 207.02 284.09 204.85 284.21 202.59 284.33 200.25 284.44 197.90 284.56 195.57 284.68 193.29 284.80 191.10 284.91 189.06 285.03 187.18 285.15 185.50 285.26 184.05 285.38 182.85 285.50 181.94 285.62 181.31 285.73 180.98 285.85 180.96 285.97 181.25 286.09 181.84 286.20 182.72 286.32 183.88 286.44 185.30 286.55 186.95 286.67 188.80 286.79 190.83 286.91 193.00 287.02 195.27 287.14 197.60 287.26 199.95 287.37 202.29 287.49 204.57 287.61 206.75 287.73 208.80 287.84 210.67 287.96 212.35 288.08 213.80 288.19 214.99 288.31 215.90 288.43 216.53 288.55 216.85 288.66 216.87 288.78 216.58 288.90 215.99 289.01 215.10 289.13 213.94 289.25 212.52 289.37 210.87 289.48 209.01 289.60 206.98 289.72 204.81 289.83 202.54 289.95 200.21 290.07 197.85 290.19 195.52 290.30 193.24 290.42 191.06 290.54 189.02 290.65 187.14 290.77 185.47 290.89 184.02 291.01 182.83 291.12 181.92 291.24 181.30 291.36 180.98 291.48 180.96 291.59 181.26 291.71 181.85 291.83 182.74 291.94 183.91 292.06 185.33 292.18 186.98 292.30 188.84 292.41 190.88 292.53 193.05 292.65 195.32 292.76 197.65 292.88 200.00 293.00 202.34 293.12 204.61 293.23 206.79 293.35 208.84 293.47 210.71 293.58 212.38 293.70 213.82 293.82 215.01 293.94 215.92 294.05 216.54 294.17 216.86 294.29 216.87 294.40 216.57 294.52 215.97 294.64 215.08 294.76 213.91 294.87 212.49 294.99 210.83 295.11 208.97 295.22 206.93 295.34 204.76 295.46 202.49 295.58 200.16 295.69 197.81 295.81 195.47 295.93 193.20 296.04 191.02 296.16 188.98 296.28 187.10 296.40 185.43 296.51 184.00 296.63 182.81 296.75 181.90 296.87 181.29 296.98 180.97 297.10 180.97 297.22 181.27 297.33 181.87 297.45 182.76 297.57 183.93 297.69 185.36 297.80 187.02 297.92 188.88 298.04 190.92 298.15 193.09 298.27 195.36 298.39 197.69 298.51 200.05 298.62 202.38 298.74 204.66 298.86 206.83 298.97 208.87 299.09 210.74 299.21 212.41 299.33 213.85 299.44 215.03 299.56 215.94 299.68 216.55 299.79 216.86 299.91 216.86 300.03 216.56 300.15 215.96 300.26 215.06 300.38 213.89 300.50 212.46 300.61 210.79 300.73 208.93 300.85 206.89 300.97 204.72 301.08 202.45 301.20 200.11 301.32 197.76 301.43 195.43 301.55 193.15 301.67 190.98 301.79 188.94 301.90 187.07 302.02 185.40 302.14 183.97 302.26 182.79 302.37 181.89 302.49 181.28 302.61 180.97 302.72 180.97 302.84 181.27 302.96 181.88 303.08 182.78 303.19 183.96 303.31 185.39 303.43 187.06 303.54 188.92 303.66 190.96 303.78 193.13 303.90 195.41 304.01 197.74 304.13 200.10 304.25 202.43 304.36 204.70 304.48 206.88 304.60 208.91 304.72 210.78 304.83 212.44 304.95 213.88 305.07 215.05 305.18 215.95 305.30 216.56 305.42 216.86 305.54 216.86 305.65 216.55 305.77 215.94 305.89 215.04 306.00 213.86 306.12 212.43 306.24 210.76 306.36 208.89 306.47 206.85 306.59 204.67 306.71 202.40 306.82 200.07 306.94 197.71 307.06 195.38 307.18 193.11 307.29 190.93 307.41 188.90 307.53 187.03 307.65 185.37 307.76 183.94 307.88 182.77 308.00 181.87 308.11 181.27 308.23 180.97 308.35 180.97 308.47 181.28 308.58 181.90 308.70 182.80 308.82 183.99 308.93 185.42 309.05 187.09 309.17 188.96 309.29 191.00 309.40 193.18 309.52 195.45 309.64 197.79 309.75 200.14 309.87 202.47 309.99 204.75 310.11 206.92 310.22 208.95 310.34 210.82 310.46 212.47 310.57 213.90 310.69 215.07 310.81 215.97 310.93 216.57 311.04 216.87 311.16 216.86 311.28 216.54 311.39 215.93 311.51 215.02 311.63 213.83 311.75 212.39 311.86 210.72 311.98 208.85 312.10 206.81 312.21 204.63 312.33 202.35 312.45 200.02 312.57 197.67 312.68 195.33 312.80 193.06 312.92 190.89 313.04 188.86 313.15 187.00 313.27 185.34 313.39 183.92 313.50 182.75 313.62 181.86 313.74 181.26 313.86 180.96 313.97 180.97 314.09 181.29 314.21 181.91 314.32 182.82 314.44 184.01 314.56 185.45 314.68 187.13 314.79 189.00 314.91 191.04 315.03 193.22 315.14 195.50 315.26 197.84 315.38 200.19 315.50 202.52 315.61 204.79 315.73 206.96 315.85 208.99 315.96 210.85 316.08 212.51 316.20 213.93 316.32 215.09 316.43 215.98 316.55 216.58 316.67 216.87 316.78 216.86 316.90 216.53 317.02 215.91 317.14 215.00 317.25 213.81 317.37 212.36 317.49 210.69 317.60 208.81 317.72 206.77 317.84 204.59 317.96 202.31 318.07 199.97 318.19 197.62 318.31 195.29 318.43 193.02 318.54 190.85 318.66 188.82 318.78 186.96 318.89 185.31 319.01 183.89 319.13 182.73 319.25 181.84 319.36 181.25 319.48 180.96 319.60 180.98 319.71 181.30 319.83 181.93 319.95 182.85 320.07 184.04 320.18 185.48 320.30 187.16 320.42 189.04 320.53 191.09 320.65 193.27 320.77 195.55 320.89 197.88 321.00 200.24 321.12 202.57 321.24 204.84 321.35 207.00 321.47 209.03 321.59 210.89 321.71 212.54 321.82 213.95 321.94 215.11 322.06 216.00 322.17 216.59 322.29 216.87 322.41 216.85 322.53 216.52 322.64 215.90 322.76 214.98 322.88 213.78 322.99 212.33 323.11 210.65 323.23 208.77 323.35 206.72 323.46 204.54 323.58 202.26 323.70 199.93 323.82 197.57 323.93 195.24 324.05 192.97 324.17 190.81 324.28 188.78 324.40 186.93 324.52 185.28 324.64 183.87 324.75 182.71 324.87 181.83 324.99 181.24 325.10 180.96 325.22 180.98 325.34 181.31 325.46 181.94 325.57 182.87 325.69 184.06 325.81 185.52 325.92 187.20 326.04 189.08 326.16 191.13 326.28 193.31 326.39 195.59 326.51 197.93 326.63 200.28 326.74 202.61 326.86 204.88 326.98 207.04 327.10 209.07 327.21 210.92 327.33 212.57 327.45 213.98 327.56 215.13 327.68 216.01 327.80 216.59 327.92 216.87 328.03 216.85 328.15 216.51 328.27 215.88 328.38 214.95 328.50 213.75 328.62 212.30 328.74 210.62 328.85 208.73 328.97 206.68 329.09 204.50 329.21 202.22 329.32 199.88 329.44 197.53 329.56 195.20 329.67 192.93 329.79 190.77 329.91 188.74 330.03 186.89 330.14 185.25 330.26 183.84 330.38 182.69 330.49 181.81 330.61 181.23 330.73 180.96 330.85 180.99 330.96 181.32 331.08 181.96 331.20 182.89 331.31 184.09 331.43 185.55 331.55 187.23 331.67 189.12 331.78 191.17 331.90 193.36" fill="none" stroke="#969696" stroke-width="1.05"/>
<path d="M50.80 42.00 50.92 38.56 51.03 35.10 51.15 32.13 51.27 29.51 51.39 28.02 51.50 26.34 51.62 25.76 51.74 25.40 51.85 24.19 51.97 24.52 52.09 25.44 52.21 27.49 52.32 30.53 52.44 32.57 52.56 35.49 52.67 39.02 52.79 43.90 52.91 48.14 53.03 52.47 53.14 56.54 53.26 61.18 53.38 64.87 53.49 69.20 53.61 74.47 53.73 79.43 53.85 84.82 53.96 88.08 54.08 92.48 54.20 96.28 54.32 101.45 54.43 105.48 54.55 109.61 54.67 114.24 54.78 119.37 54.90 124.94 55.02 129.37 55.14 134.59 55.25 138.44 55.37 143.26 55.49 147.30 55.60 151.87 55.72 155.56 55.84 158.76 55.96 161.48 56.07 162.52 56.19 162.68 56.31 160.96 56.42 157.94 56.54 153.31 56.66 147.71 56.78 141.53 56.89 134.18 57.01 127.28 57.13 120.10 57.24 114.09 57.36 107.99 57.48 103.28 57.60 98.03 57.71 94.70 57.83 91.42 57.95 89.32 58.06 86.70 58.18 85.56 58.30 87.14 58.42 87.38 58.53 87.47 58.65 87.90 58.77 88.74 58.88 90.75 59.00 91.85 59.12 93.70 59.24 94.69 59.35 95.23 59.47 97.47 59.59 97.59 59.71 98.92 59.82 99.46 59.94 100.01 60.06 99.38 60.17 97.50 60.29 95.94 60.41 93.43 60.53 90.61 60.64 87.59 60.76 84.01 60.88 80.55 60.99 76.75 61.11 72.99 61.23 68.67 61.35 64.37 61.46 60.53 61.58 56.35 61.70 52.73 61.81 48.77 61.93 45.05 62.05 41.18 62.17 37.30 62.28 34.01 62.40 30.30 62.52 28.00 62.63 26.11 62.75 24.84 62.87 24.52 62.99 23.19 63.10 25.57 63.22 25.95 63.34 28.04 63.45 29.71 63.57 32.34 63.69 35.11 63.81 37.91 63.92 40.88 64.04 44.82 64.16 48.83 64.27 53.06 64.39 57.08 64.51 61.52 64.63 65.87 64.74 70.87 64.86 75.46 64.98 79.98 65.10 83.73 65.21 88.04 65.33 91.98 65.45 96.73 65.56 101.23 65.68 106.29 65.80 110.78 65.92 115.04 66.03 119.71 66.15 125.01 66.27 130.60 66.38 135.66 66.50 140.68 66.62 145.49 66.74 150.19 66.85 154.04 66.97 158.25 67.09 161.55 67.20 164.25 67.32 165.63 67.44 164.93 67.56 163.64 67.67 160.48 67.79 156.59 67.91 150.58 68.02 144.22 68.14 136.86 68.26 130.24 68.38 121.39 68.49 114.40 68.61 107.45 68.73 103.37 68.84 99.07 68.96 95.22 69.08 92.55 69.20 90.97 69.31 89.74 69.43 88.82 69.55 87.38 69.66 86.75 69.78 87.07 69.90 88.48 70.02 91.66 70.13 92.35 70.25 93.93 70.37 93.82 70.49 94.43 70.60 97.00 70.72 98.14 70.84 100.36 70.95 99.64 71.07 100.65 71.19 100.29 71.31 99.74 71.42 97.71 71.54 95.56 71.66 93.40 71.77 90.89 71.89 87.46 72.01 83.84 72.13 80.59 72.24 76.87 72.36 72.89 72.48 68.18 72.59 64.55 72.71 60.41 72.83 57.00 72.95 52.75 73.06 49.25 73.18 44.94 73.30 41.17 73.41 37.80 73.53 34.80 73.65 32.18 73.77 29.09 73.88 26.87 74.00 25.89 74.12 25.36 74.23 25.19 74.35 30.15 74.47 31.65 74.59 33.32 74.70 35.27 74.82 37.27 74.94 39.94 75.05 42.97 75.17 45.31 75.29 48.47 75.41 51.99 75.52 55.97 75.64 59.14 75.76 63.24 75.88 66.97 75.99 71.73 76.11 75.81 76.23 80.18 76.34 83.61 76.46 87.80 76.58 92.44 76.70 97.05 76.81 101.51 76.93 105.86 77.05 110.75 77.16 115.71 77.28 120.92 77.40 125.56 77.52 130.24 77.63 134.76 77.75 139.31 77.87 144.41 77.98 148.75 78.10 153.36 78.22 156.12 78.34 159.70 78.45 161.65 78.57 163.15 78.69 162.07 78.80 159.94 78.92 157.47 79.04 154.16 79.16 148.84 79.27 142.61 79.39 134.75 79.51 128.62 79.62 120.33 79.74 112.89 79.86 106.46 79.98 101.26 80.09 97.32 80.21 93.42 80.33 91.26 80.44 89.55 80.56 87.80 80.68 87.05 80.80 87.16 80.91 87.30 81.03 88.86 81.15 89.37 81.27 91.00 81.38 90.55 81.50 92.44 81.62 92.78 81.73 94.94 81.85 95.94 81.97 98.35 82.09 99.02 82.20 99.59 82.32 100.12 82.44 100.65 82.55 100.12 82.67 98.56 82.79 95.81 82.91 92.69 83.02 89.32 83.14 86.37 83.26 83.56 83.37 80.54 83.49 77.00 83.61 72.73 83.73 68.92 83.84 65.67 83.96 62.68 84.08 59.48 84.19 56.05 84.31 52.60 84.43 48.98 84.55 44.90 84.66 41.72 84.78 38.46 84.90 35.86 85.01 33.61 85.13 31.76 85.25 30.86 85.37 30.36 85.48 30.64 85.60 23.68 85.72 24.61 85.83 26.24 85.95 28.17 86.07 30.39 86.19 33.43 86.30 36.67 86.42 40.79 86.54 44.25 86.66 48.10 86.77 51.83 86.89 56.21 87.01 60.73 87.12 65.55 87.24 70.31 87.36 74.94 87.48 79.04 87.59 83.47 87.71 87.26 87.83 92.03 87.94 96.32 88.06 101.22 88.18 105.77 88.30 110.91 88.41 116.30 88.53 120.89 88.65 125.02 88.76 129.31 88.88 134.00 89.00 139.06 89.12 143.45 89.23 148.48 89.35 152.37 89.47 156.27 89.58 159.13 89.70 160.66 89.82 162.21 89.94 161.72 90.05 161.22 90.17 157.02 90.29 152.54 90.40 146.23 90.52 140.19 90.64 132.80 90.76 126.78 90.87 120.48 90.99 113.09 91.11 107.12 91.22 102.19 91.34 99.18 91.46 94.59 91.58 91.41 91.69 89.08 91.81 89.48 91.93 88.68 92.05 89.07 92.16 90.18 92.28 90.65 92.40 90.35 92.51 90.86 92.63 93.23 92.75 95.04 92.87 96.58 92.98 98.84 93.10 101.17 93.22 101.19 93.33 100.97 93.45 100.49 93.57 100.30 93.69 100.29 93.80 99.47 93.92 97.44 94.04 94.58 94.15 91.92 94.27 89.59 94.39 86.45 94.51 83.66 94.62 79.70 94.74 76.15 94.86 71.52 94.97 67.54 95.09 63.72 95.21 59.88 95.33 55.50 95.44 51.41 95.56 47.60 95.68 44.31 95.79 40.68 95.91 36.67 96.03 32.72 96.15 29.04 96.26 26.71 96.38 25.12 96.50 23.93 96.61 23.50 96.73 24.67 96.85 24.87 96.97 25.34 97.08 27.24 97.20 29.48 97.32 32.19 97.44 34.25 97.55 37.34 97.67 41.31 97.79 45.45 97.90 48.88 98.02 52.23 98.14 56.37 98.26 61.33 98.37 66.59 98.49 71.89 98.61 76.77 98.72 80.70 98.84 84.55 98.96 88.37 99.08 92.88 99.19 97.15 99.31 101.95 99.43 106.60 99.54 111.20 99.66 116.01 99.78 121.30 99.90 126.58 100.01 130.97 100.13 135.72 100.25 140.05 100.36 144.59 100.48 148.29 100.60 152.66 100.72 156.36 100.83 159.10 100.95 160.28 101.07 160.94 101.18 160.87 101.30 159.82 101.42 156.49 101.54 150.58 101.65 144.53 101.77 138.41 101.89 131.60 102.00 124.76 102.12 118.10 102.24 113.29 102.36 107.59 102.47 100.95 102.59 96.62 102.71 92.76 102.83 92.42 102.94 89.41 103.06 87.51 103.18 85.99 103.29 85.41 103.41 85.90 103.53 86.06 103.65 86.25 103.76 87.40 103.88 89.31 104.00 92.49 104.11 94.93 104.23 95.64 104.35 96.62 104.47 95.83 104.58 96.34 104.70 97.27 104.82 99.10 104.93 99.14 105.05 99.08 105.17 97.74 105.29 95.97 105.40 93.14 105.52 90.23 105.64 87.45 105.75 83.56 105.87 79.73 105.99 75.73 106.11 71.86 106.22 67.93 106.34 63.70 106.46 60.06 106.57 56.48 106.69 53.37 106.81 49.73 106.93 45.67 107.04 41.17 107.16 37.18 107.28 33.98 107.39 31.73 107.51 29.49 107.63 27.50 107.75 26.04 107.86 25.63 107.98 28.95 108.10 28.90 108.22 30.07 108.33 31.40 108.45 34.20 108.57 35.73 108.68 38.51 108.80 41.46 108.92 44.75 109.04 47.47 109.15 50.53 109.27 54.11 109.39 58.73 109.50 63.57 109.62 67.97 109.74 72.30 109.86 76.31 109.97 80.46 110.09 84.53 110.21 88.66 110.32 93.09 110.44 97.93 110.56 102.11 110.68 107.24 110.79 111.46 110.91 116.72 111.03 120.77 111.14 125.75 111.26 129.90 111.38 135.56 111.50 140.68 111.61 145.67 111.73 150.92 111.85 155.53 111.96 159.50 112.08 161.73 112.20 163.32 112.32 164.81 112.43 164.23 112.55 162.80 112.67 159.73 112.78 155.97 112.90 150.10 113.02 143.09 113.14 135.43 113.25 129.70 113.37 123.36 113.49 116.63 113.61 108.44 113.72 102.53 113.84 98.62 113.96 97.12 114.07 93.11 114.19 91.76 114.31 88.08 114.43 88.23 114.54 87.48 114.66 90.04 114.78 92.24 114.89 94.57 115.01 95.03 115.13 96.20 115.25 95.91 115.36 96.39 115.48 96.18 115.60 97.64 115.71 98.37 115.83 100.26 115.95 100.84 116.07 101.56 116.18 101.19 116.30 99.55 116.42 97.46 116.53 94.59 116.65 92.33 116.77 89.57 116.89 86.92 117.00 83.86 117.12 80.36 117.24 76.53 117.35 72.85 117.47 69.07 117.59 65.89 117.71 61.80 117.82 58.37 117.94 54.24 118.06 50.83 118.17 46.78 118.29 43.02 118.41 39.09 118.53 36.32 118.64 34.18 118.76 32.36 118.88 30.97 119.00 29.23 119.11 28.12 119.23 23.75 119.35 24.56 119.46 26.07 119.58 27.63 119.70 29.88 119.82 32.15 119.93 34.97 120.05 37.87 120.17 41.54 120.28 45.32 120.40 49.40 120.52 53.71 120.64 57.85 120.75 61.96 120.87 65.69 120.99 70.74 121.10 75.88 121.22 80.64 121.34 84.57 121.46 88.68 121.57 93.87 121.69 98.67 121.81 103.52 121.92 107.76 122.04 113.07 122.16 117.35 122.28 122.72 122.39 127.04 122.51 131.46 122.63 135.86 122.74 140.47 122.86 145.98 122.98 150.86 123.10 156.04 123.21 159.53 123.33 162.56 123.45 163.76 123.56 165.53 123.68 165.00 123.80 163.44 123.92 158.76 124.03 152.95 124.15 147.25 124.27 141.67 124.39 136.21 124.50 127.79 124.62 119.91 124.74 112.37 124.85 106.94 124.97 103.12 125.09 99.43 125.21 95.29 125.32 90.58 125.44 87.21 125.56 87.27 125.67 86.47 125.79 85.07 125.91 85.59 126.03 86.78 126.14 89.60 126.26 89.46 126.38 90.73 126.49 91.85 126.61 94.09 126.73 95.42 126.85 96.94 126.96 97.68 127.08 98.73 127.20 98.96 127.31 99.58 127.43 99.61 127.55 98.75 127.67 97.22 127.78 95.17 127.90 92.70 128.02 89.62 128.13 86.30 128.25 83.09 128.37 79.87 128.49 75.95 128.60 71.68 128.72 67.13 128.84 63.69 128.95 59.94 129.07 56.32 129.19 51.90 129.31 48.01 129.42 44.29 129.54 40.15 129.66 36.76 129.78 32.94 129.89 30.27 130.01 27.39 130.13 25.38 130.24 24.76 130.36 24.51 130.48 26.23 130.60 26.42 130.71 27.25 130.83 27.83 130.95 29.28 131.06 32.03 131.18 35.01 131.30 38.53 131.42 41.49 131.53 44.83 131.65 48.92 131.77 52.29 131.88 57.05 132.00 61.43 132.12 66.85 132.24 71.07 132.35 75.25 132.47 80.11 132.59 84.36 132.70 88.93 132.82 92.71 132.94 97.20 133.06 102.11 133.17 107.43 133.29 112.75 133.41 116.91 133.52 121.26 133.64 125.58 133.76 130.61 133.88 135.14 133.99 139.33 134.11 143.89 134.23 148.30 134.34 152.66 134.46 155.86 134.58 158.80 134.70 160.28 134.81 160.55 134.93 159.47 135.05 158.35 135.17 154.52 135.28 150.12 135.40 144.41 135.52 139.27 135.63 132.86 135.75 124.38 135.87 117.04 135.99 110.01 136.10 106.42 136.22 100.89 136.34 97.18 136.45 92.89 136.57 90.06 136.69 87.71 136.81 84.73 136.92 83.40 137.04 83.76 137.16 84.71 137.27 87.53 137.39 87.03 137.51 87.34 137.63 88.53 137.74 88.65 137.86 91.17 137.98 92.70 138.09 95.44 138.21 96.28 138.33 97.68 138.45 98.64 138.56 100.11 138.68 99.13 138.80 98.46 138.91 96.80 139.03 94.87 139.15 92.82 139.27 89.90 139.38 86.44 139.50 82.68 139.62 78.51 139.73 75.25 139.85 71.55 139.97 68.09 140.09 64.13 140.20 60.02 140.32 56.18 140.44 52.48 140.56 48.93 140.67 44.88 140.79 40.92 140.91 36.84 141.02 34.26 141.14 31.30 141.26 29.15 141.38 27.18 141.49 26.18 141.61 25.31 141.73 24.94 141.84 25.27 141.96 26.28 142.08 27.70 142.20 29.92 142.31 33.26 142.43 36.58 142.55 39.61 142.66 42.57 142.78 45.85 142.90 49.67 143.02 53.63 143.13 57.53 143.25 62.44 143.37 66.59 143.48 71.75 143.60 76.14 143.72 80.70 143.84 85.20 143.95 89.12 144.07 94.11 144.19 98.40 144.30 103.44 144.42 107.73 144.54 112.48 144.66 117.25 144.77 121.73 144.89 126.82 145.01 131.61 145.12 136.35 145.24 140.39 145.36 144.48 145.48 149.08 145.59 152.84 145.71 157.22 145.83 160.66 145.95 163.91 146.06 163.99 146.18 162.90 146.30 159.83 146.41 156.18 146.53 151.57 146.65 146.62 146.77 141.01 146.88 132.78 147.00 124.65 147.12 116.72 147.23 111.54 147.35 106.40 147.47 102.14 147.59 98.27 147.70 96.78 147.82 94.59 147.94 93.44 148.05 91.01 148.17 90.93 148.29 90.55 148.41 91.73 148.52 92.38 148.64 96.40 148.76 98.39 148.87 98.60 148.99 98.42 149.11 98.60 149.23 99.91 149.34 100.24 149.46 100.16 149.58 101.59 149.69 102.17 149.81 102.80 149.93 102.24 150.05 100.40 150.16 98.32 150.28 95.42 150.40 93.06 150.51 89.14 150.63 86.00 150.75 82.25 150.87 79.25 150.98 75.52 151.10 71.84 151.22 68.01 151.34 63.67 151.45 59.26 151.57 55.00 151.69 51.51 151.80 48.09 151.92 44.03 152.04 40.35 152.16 36.59 152.27 33.84 152.39 30.52 152.51 28.72 152.62 27.28 152.74 26.65 152.86 25.75 152.98 27.25 153.09 27.69 153.21 29.53 153.33 30.23 153.44 32.02 153.56 33.34 153.68 36.58 153.80 39.56 153.91 43.43 154.03 47.11 154.15 51.59 154.26 55.66 154.38 59.43 154.50 63.18 154.62 67.91 154.73 72.50 154.85 76.85 154.97 80.54 155.08 84.62 155.20 89.77 155.32 93.99 155.44 99.10 155.55 103.09 155.67 107.51 155.79 111.04 155.90 115.56 156.02 120.38 156.14 125.85 156.26 130.85 156.37 135.39 156.49 139.72 156.61 143.99 156.73 149.00 156.84 152.90 156.96 156.19 157.08 158.85 157.19 161.01 157.31 161.38 157.43 160.26 157.55 157.96 157.66 155.62 157.78 151.38 157.90 145.79 158.01 138.27 158.13 131.47 158.25 123.46 158.37 117.91 158.48 111.47 158.60 106.49 158.72 101.52 158.83 98.24 158.95 96.24 159.07 94.06 159.19 93.79 159.30 93.76 159.42 94.70 159.54 94.63 159.65 95.04 159.77 96.74 159.89 97.99 160.01 99.66 160.12 99.53 160.24 100.13 160.36 99.64 160.47 101.14 160.59 100.53 160.71 102.04 160.83 101.74 160.94 102.09 161.06 100.58 161.18 99.54 161.29 98.66 161.41 97.14 161.53 95.20 161.65 92.59 161.76 89.79 161.88 86.40 162.00 82.40 162.12 79.11 162.23 75.30 162.35 71.59 162.47 67.45 162.58 63.65 162.70 60.11 162.82 55.99 162.94 52.06 163.05 47.90 163.17 44.61 163.29 41.13 163.40 38.28 163.52 35.07 163.64 32.10 163.76 29.44 163.87 27.44 163.99 26.43 164.11 25.49 164.22 24.05 164.34 25.23 164.46 26.62 164.58 28.21 164.69 30.06 164.81 32.48 164.93 35.22 165.04 38.01 165.16 41.85 165.28 45.67 165.40 49.75 165.51 53.30 165.63 57.91 165.75 62.43 165.86 67.35 165.98 72.17 166.10 77.17 166.22 81.14 166.33 85.65 166.45 89.40 166.57 94.77 166.68 98.93 166.80 104.21 166.92 108.75 167.04 112.83 167.15 117.23 167.27 121.39 167.39 126.15 167.51 129.68 167.62 134.50 167.74 138.56 167.86 143.11 167.97 147.04 168.09 151.74 168.21 154.90 168.33 157.98 168.44 159.36 168.56 160.22 168.68 158.48 168.79 156.43 168.91 153.39 169.03 149.47 169.15 143.04 169.26 135.54 169.38 129.59 169.50 122.82 169.61 118.96 169.73 111.56 169.85 107.03 169.97 99.23 170.08 95.00 170.20 91.40 170.32 90.48 170.43 89.18 170.55 87.37 170.67 86.60 170.79 85.62 170.90 84.95 171.02 85.01 171.14 87.61 171.25 91.36 171.37 93.71 171.49 93.23 171.61 93.64 171.72 94.93 171.84 96.74 171.96 98.45 172.07 99.61 172.19 100.11 172.31 99.95 172.43 99.50 172.54 98.74 172.66 97.31 172.78 95.25 172.90 92.88 173.01 89.52 173.13 86.04 173.25 82.81 173.36 79.39 173.48 75.38 173.60 70.51 173.72 66.77 173.83 62.82 173.95 59.40 174.07 54.75 174.18 50.71 174.30 46.27 174.42 42.59 174.54 39.28 174.65 36.48 174.77 33.35 174.89 30.25 175.00 26.99 175.12 24.81 175.24 24.13 175.36 24.22 175.47 29.59 175.59 30.30 175.71 31.22 175.82 32.13 175.94 33.87 176.06 35.90 176.18 39.05 176.29 42.09 176.41 45.67 176.53 48.83 176.64 52.25 176.76 56.36 176.88 60.38 177.00 64.48 177.11 68.67 177.23 73.49 177.35 78.04 177.46 81.99 177.58 85.91 177.70 89.77 177.82 94.04 177.93 98.44 178.05 103.08 178.17 107.45 178.29 111.83 178.40 116.15 178.52 121.22 178.64 126.22 178.75 131.90 178.87 137.74 178.99 143.40 179.11 148.21 179.22 152.61 179.34 156.86 179.46 160.80 179.57 164.43 179.69 166.11 179.81 167.11 179.93 165.94 180.04 163.82 180.16 159.87 180.28 153.46 180.39 147.82 180.51 140.55 180.63 133.61 180.75 124.67 180.86 117.36 180.98 109.95 181.10 104.58 181.21 99.66 181.33 95.70 181.45 92.06 181.57 89.62 181.68 86.97 181.80 83.56 181.92 79.98 182.03 80.43 182.15 80.86 182.27 82.73 182.39 81.80 182.50 82.58 182.62 82.83 182.74 87.43 182.85 89.31 182.97 90.78 183.09 90.92 183.21 92.94 183.32 95.44 183.44 97.46 183.56 98.32 183.68 98.33 183.79 97.55 183.91 96.52 184.03 94.09 184.14 92.01 184.26 88.98 184.38 86.47 184.50 82.43 184.61 78.57 184.73 74.48 184.85 70.93 184.96 68.09 185.08 64.09 185.20 60.40 185.32 56.25 185.43 53.18 185.55 49.83 185.67 46.18 185.78 42.75 185.90 39.60 186.02 37.61 186.14 35.12 186.25 32.70 186.37 30.12 186.49 29.10 186.60 28.63 186.72 26.57 186.84 27.26 186.96 28.05 187.07 30.53 187.19 32.78 187.31 35.91 187.42 38.85 187.54 41.89 187.66 44.64 187.78 47.17 187.89 50.71 188.01 54.60 188.13 59.08 188.24 63.52 188.36 68.28 188.48 72.71 188.60 76.66 188.71 81.54 188.83 85.57 188.95 90.35 189.07 94.08 189.18 99.34 189.30 103.84 189.42 108.63 189.53 112.47 189.65 117.34 189.77 121.53 189.89 126.36 190.00 130.83 190.12 135.58 190.24 140.20 190.35 144.01 190.47 147.80 190.59 151.46 190.71 155.46 190.82 159.15 190.94 161.01 191.06 161.25 191.17 160.48 191.29 158.65 191.41 154.89 191.53 148.72 191.64 143.88 191.76 137.41 191.88 131.88 191.99 123.13 192.11 116.22 192.23 109.70 192.35 105.14 192.46 101.85 192.58 99.36 192.70 95.10 192.81 92.27 192.93 90.05 193.05 90.57 193.17 91.52 193.28 91.42 193.40 91.01 193.52 90.04 193.63 92.75 193.75 93.87 193.87 96.44 193.99 97.65 194.10 100.25 194.22 100.98 194.34 100.39 194.46 100.81 194.57 101.49 194.69 101.80 194.81 100.49 194.92 99.69 195.04 98.36 195.16 97.27 195.28 93.90 195.39 91.95 195.51 88.59 195.63 86.52 195.74 82.67 195.86 79.47 195.98 74.42 196.10 70.70 196.21 67.40 196.33 64.10 196.45 60.22 196.56 55.83 196.68 52.41 196.80 48.38 196.92 44.75 197.03 41.20 197.15 37.86 197.27 34.54 197.38 32.08 197.50 30.21 197.62 29.13 197.74 27.75 197.85 27.06 197.97 27.75 198.09 28.37 198.20 28.94 198.32 30.59 198.44 32.51 198.56 35.78 198.67 38.92 198.79 42.32 198.91 45.67 199.02 48.73 199.14 52.85 199.26 56.42 199.38 61.48 199.49 65.59 199.61 69.93 199.73 73.50 199.85 77.95 199.96 82.07 200.08 86.02 200.20 89.70 200.31 94.37 200.43 99.31 200.55 104.36 200.67 108.48 200.78 112.38 200.90 116.73 201.02 122.00 201.13 126.92 201.25 131.01 201.37 135.69 201.49 139.93 201.60 143.49 201.72 146.16 201.84 149.57 201.95 153.29 202.07 155.68 202.19 157.78 202.31 158.67 202.42 158.00 202.54 155.67 202.66 151.78 202.77 148.31 202.89 142.25 203.01 135.87 203.13 128.35 203.24 121.97 203.36 115.00 203.48 109.53 203.59 104.80 203.71 102.00 203.83 98.07 203.95 95.46 204.06 92.83 204.18 91.88 204.30 91.81 204.41 93.26 204.53 92.47 204.65 92.32 204.77 92.36 204.88 94.52 205.00 95.65 205.12 95.92 205.24 96.48 205.35 97.72 205.47 99.47 205.59 101.01 205.70 101.77 205.82 101.01 205.94 101.12 206.06 101.29 206.17 101.51 206.29 100.24 206.41 97.62 206.52 95.30 206.64 92.13 206.76 89.04 206.88 85.07 206.99 81.15 207.11 76.89 207.23 73.25 207.34 70.57 207.46 67.79 207.58 64.32 207.70 59.51 207.81 55.37 207.93 51.32 208.05 48.35 208.16 44.84 208.28 41.61 208.40 38.51 208.52 35.51 208.63 32.81 208.75 30.56 208.87 28.86 208.98 27.67 209.10 27.16 209.22 23.86 209.34 25.13 209.45 26.52 209.57 28.15 209.69 30.32 209.80 32.78 209.92 36.01 210.04 39.64 210.16 43.42 210.27 46.93 210.39 50.89 210.51 55.04 210.63 59.01 210.74 62.76 210.86 67.28 210.98 72.12 211.09 77.19 211.21 81.03 211.33 85.87 211.45 90.08 211.56 94.61 211.68 99.17 211.80 103.33 211.91 108.58 212.03 112.88 212.15 118.06 212.27 122.58 212.38 127.40 212.50 132.13 212.62 137.17 212.73 141.62 212.85 145.88 212.97 149.46 213.09 153.34 213.20 157.59 213.32 160.40 213.44 162.20 213.55 162.34 213.67 161.33 213.79 158.69 213.91 154.81 214.02 150.85 214.14 145.73 214.26 137.45 214.37 129.50 214.49 122.71 214.61 117.34 214.73 111.51 214.84 105.26 214.96 100.16 215.08 97.10 215.19 93.40 215.31 90.05 215.43 86.61 215.55 86.04 215.66 85.82 215.78 86.74 215.90 87.97 216.02 90.87 216.13 91.01 216.25 90.84 216.37 91.09 216.48 91.92 216.60 93.02 216.72 94.06 216.84 96.20 216.95 97.95 217.07 98.56 217.19 99.36 217.30 99.63 217.42 99.97 217.54 98.69 217.66 97.32 217.77 95.40 217.89 91.83 218.01 88.17 218.12 84.70 218.24 82.00 218.36 78.36 218.48 74.39 218.59 70.23 218.71 66.60 218.83 62.54 218.94 58.67 219.06 54.57 219.18 51.21 219.30 47.27 219.41 43.28 219.53 38.79 219.65 35.71 219.76 32.57 219.88 29.89 220.00 27.85 220.12 26.92 220.23 25.78 220.35 25.09 220.47 26.16 220.58 26.32 220.70 27.37 220.82 29.53 220.94 32.27 221.05 34.38 221.17 37.38 221.29 40.19 221.41 43.57 221.52 46.76 221.64 51.24 221.76 55.37 221.87 59.55 221.99 64.07 222.11 68.07 222.23 72.80 222.34 76.70 222.46 81.90 222.58 86.10 222.69 90.29 222.81 94.84 222.93 99.97 223.05 105.01 223.16 109.76 223.28 114.15 223.40 118.79 223.51 123.23 223.63 127.48 223.75 132.66 223.87 137.42 223.98 142.79 224.10 146.72 224.22 150.51 224.33 154.44 224.45 158.02 224.57 161.94 224.69 164.42 224.80 165.96 224.92 165.27 225.04 162.42 225.15 158.04 225.27 151.67 225.39 144.70 225.51 137.46 225.62 130.99 225.74 124.45 225.86 117.65 225.97 110.83 226.09 104.58 226.21 99.64 226.33 95.99 226.44 94.52 226.56 93.52 226.68 92.84 226.80 89.67 226.91 89.18 227.03 88.49 227.15 89.50 227.26 89.93 227.38 91.98 227.50 94.56 227.62 96.67 227.73 97.11 227.85 97.03 227.97 96.92 228.08 97.54 228.20 98.56 228.32 98.54 228.44 99.59 228.55 99.82 228.67 99.80 228.79 98.00 228.90 97.10 229.02 95.17 229.14 92.86 229.26 89.32 229.37 85.59 229.49 81.98 229.61 78.16 229.72 75.18 229.84 71.82 229.96 68.10 230.08 63.53 230.19 59.55 230.31 55.96 230.43 52.67 230.54 48.71 230.66 43.92 230.78 39.24 230.90 35.94 231.01 33.15 231.13 30.84 231.25 28.11 231.36 26.81 231.48 26.64 231.60 26.77 231.72 28.60 231.83 28.80 231.95 29.58 232.07 31.21 232.19 33.36 232.30 35.96 232.42 37.82 232.54 40.53 232.65 43.79 232.77 48.06 232.89 52.46 233.01 56.37 233.12 60.50 233.24 64.63 233.36 68.80 233.47 72.86 233.59 77.56 233.71 82.44 233.83 86.65 233.94 90.72 234.06 94.72 234.18 99.00 234.29 103.64 234.41 108.68 234.53 113.67 234.65 118.43 234.76 122.78 234.88 127.42 235.00 131.37 235.11 136.14 235.23 140.69 235.35 144.52 235.47 148.55 235.58 152.14 235.70 156.23 235.82 158.56 235.93 160.24 236.05 160.30 236.17 159.35 236.29 156.70 236.40 152.85 236.52 147.46 236.64 141.33 236.75 135.50 236.87 128.91 236.99 122.39 237.11 115.40 237.22 110.43 237.34 104.57 237.46 100.07 237.58 94.23 237.69 91.34 237.81 89.88 237.93 90.74 238.04 89.78 238.16 89.60 238.28 88.42 238.40 90.39 238.51 88.96 238.63 90.61 238.75 90.35 238.86 92.19 238.98 93.80 239.10 96.20 239.22 97.09 239.33 97.75 239.45 98.87 239.57 99.67 239.68 98.97 239.80 98.74 239.92 98.26 240.04 98.15 240.15 95.92 240.27 94.14 240.39 90.92 240.50 88.09 240.62 84.77 240.74 81.66 240.86 78.44 240.97 75.06 241.09 71.69 241.21 67.72 241.32 63.84 241.44 59.51 241.56 55.48 241.68 51.22 241.79 47.82 241.91 44.40 242.03 41.15 242.14 37.40 242.26 34.72 242.38 32.25 242.50 30.60 242.61 28.84 242.73 27.99 242.85 27.73 242.97 29.23 243.08 29.86 243.20 30.54 243.32 31.82 243.43 33.25 243.55 36.48 243.67 39.61 243.79 42.92 243.90 45.53 244.02 49.83 244.14 53.51 244.25 57.92 244.37 61.06 244.49 65.08 244.61 68.11 244.72 72.79 244.84 77.75 244.96 82.39 245.07 86.34 245.19 90.42 245.31 94.78 245.43 99.32 245.54 104.12 245.66 109.20 245.78 114.14 245.89 118.42 246.01 122.94 246.13 127.72 246.25 132.42 246.36 136.89 246.48 141.18 246.60 145.51 246.71 149.91 246.83 153.76 246.95 157.67 247.07 160.12 247.18 162.03 247.30 161.57 247.42 161.01 247.53 157.63 247.65 153.72 247.77 148.70 247.89 143.14 248.00 137.10 248.12 128.60 248.24 121.44 248.36 114.65 248.47 109.25 248.59 104.06 248.71 98.25 248.82 94.40 248.94 91.10 249.06 90.52 249.18 88.85 249.29 86.98 249.41 85.48 249.53 86.47 249.64 88.78 249.76 91.10 249.88 92.05 250.00 94.21 250.11 94.55 250.23 96.06 250.35 96.89 250.46 97.52 250.58 99.05 250.70 99.40 250.82 100.93 250.93 99.82 251.05 99.07 251.17 97.85 251.28 96.77 251.40 95.51 251.52 93.31 251.64 91.30 251.75 88.68 251.87 85.49 251.99 82.14 252.10 78.54 252.22 74.80 252.34 71.02 252.46 67.66 252.57 64.20 252.69 60.65 252.81 56.53 252.92 53.13 253.04 48.95 253.16 44.83 253.28 41.54 253.39 38.62 253.51 36.18 253.63 33.68 253.75 31.81 253.86 30.07 253.98 28.57 254.10 27.76 254.21 26.94 254.33 28.14 254.45 29.76 254.57 30.95 254.68 32.81 254.80 35.51 254.92 38.60 255.03 41.97 255.15 45.17 255.27 49.58 255.39 52.80 255.50 57.15 255.62 60.92 255.74 65.49 255.85 70.04 255.97 73.78 256.09 78.38 256.21 82.09 256.32 86.35 256.44 90.25 256.56 95.04 256.67 99.84 256.79 104.75 256.91 109.56 257.03 113.84 257.14 118.38 257.26 122.96 257.38 127.36 257.49 131.50 257.61 135.91 257.73 140.38 257.85 144.51 257.96 147.69 258.08 151.79 258.20 155.81 258.31 158.57 258.43 159.85 258.55 159.54 258.67 158.31 258.78 155.34 258.90 151.81 259.02 147.02 259.14 140.15 259.25 133.52 259.37 126.27 259.49 120.81 259.60 113.94 259.72 108.67 259.84 103.06 259.96 98.60 260.07 93.68 260.19 89.58 260.31 87.02 260.42 85.36 260.54 86.65 260.66 86.37 260.78 85.92 260.89 85.70 261.01 87.21 261.13 89.42 261.24 90.72 261.36 91.69 261.48 93.43 261.60 93.28 261.71 95.05 261.83 96.35 261.95 98.80 262.06 98.68 262.18 99.26 262.30 98.72 262.42 98.79 262.53 97.67 262.65 96.87 262.77 94.23 262.88 91.30 263.00 87.64 263.12 84.75 263.24 81.60 263.35 78.55 263.47 74.54 263.59 70.56 263.70 66.45 263.82 63.07 263.94 59.24 264.06 55.30 264.17 50.82 264.29 46.93 264.41 43.52 264.53 40.97 264.64 38.10 264.76 35.28 264.88 32.36 264.99 30.08 265.11 28.08 265.23 27.07 265.35 26.91 265.46 26.23 265.58 27.37 265.70 28.58 265.81 30.23 265.93 32.01 266.05 34.92 266.17 38.44 266.28 42.26 266.40 44.84 266.52 48.72 266.63 52.23 266.75 56.34 266.87 59.78 266.99 63.65 267.10 68.72 267.22 73.19 267.34 77.04 267.45 81.29 267.57 85.80 267.69 91.26 267.81 95.72 267.92 100.23 268.04 104.25 268.16 109.11 268.27 114.30 268.39 119.42 268.51 123.85 268.63 127.78 268.74 132.37 268.86 137.37 268.98 142.29 269.09 146.66 269.21 150.66 269.33 154.95 269.45 158.55 269.56 161.42 269.68 163.52 269.80 163.46 269.92 162.47 270.03 159.05 270.15 155.67 270.27 150.04 270.38 143.88 270.50 137.67 270.62 130.14 270.74 122.84 270.85 115.13 270.97 108.46 271.09 102.29 271.20 96.85 271.32 92.57 271.44 90.04 271.56 89.87 271.67 89.73 271.79 89.49 271.91 88.25 272.02 89.36 272.14 90.91 272.26 91.35 272.38 91.20 272.49 92.56 272.61 93.93 272.73 95.87 272.84 96.41 272.96 97.31 273.08 98.16 273.20 99.07 273.31 100.01 273.43 101.18 273.55 101.09 273.66 100.65 273.78 99.19 273.90 97.06 274.02 94.44 274.13 91.39 274.25 88.38 274.37 84.93 274.48 80.92 274.60 77.47 274.72 73.82 274.84 70.00 274.95 65.88 275.07 62.29 275.19 58.90 275.31 55.08 275.42 51.31 275.54 46.72 275.66 43.18 275.77 39.32 275.89 36.65 276.01 33.33 276.13 30.99 276.24 29.34 276.36 27.52 276.48 26.52 276.59 25.77 276.71 27.42 276.83 27.77 276.95 28.81 277.06 30.21 277.18 32.47 277.30 35.18 277.41 38.34 277.53 42.01 277.65 46.12 277.77 49.98 277.88 53.98 278.00 56.65 278.12 60.28 278.23 63.84 278.35 69.08 278.47 73.22 278.59 78.41 278.70 82.93 278.82 88.19 278.94 92.41 279.05 96.47 279.17 100.70 279.29 104.40 279.41 108.78 279.52 113.18 279.64 118.46 279.76 123.74 279.87 129.34 279.99 135.00 280.11 140.28 280.23 145.19 280.34 149.36 280.46 154.31 280.58 159.00 280.70 162.98 280.81 165.64 280.93 166.70 281.05 167.08 281.16 165.46 281.28 163.10 281.40 158.58 281.52 152.99 281.63 146.11 281.75 139.20 281.87 131.24 281.98 123.33 282.10 116.73 282.22 110.34 282.34 104.47 282.45 97.99 282.57 93.45 282.69 90.45 282.80 89.63 282.92 89.23 283.04 87.92 283.16 87.38 283.27 86.22 283.39 86.57 283.51 87.80 283.62 89.41 283.74 91.73 283.86 90.61 283.98 91.70 284.09 93.37 284.21 95.70 284.33 97.85 284.44 98.64 284.56 99.54 284.68 99.59 284.80 99.50 284.91 99.45 285.03 98.99 285.15 97.37 285.26 94.98 285.38 91.81 285.50 87.92 285.62 83.96 285.73 80.35 285.85 77.87 285.97 74.94 286.09 71.00 286.20 66.40 286.32 62.23 286.44 58.43 286.55 54.83 286.67 50.64 286.79 47.58 286.91 44.07 287.02 40.90 287.14 36.87 287.26 33.91 287.37 31.85 287.49 30.28 287.61 29.39 287.73 28.13 287.84 27.61 287.96 21.86 288.08 23.06 288.19 24.85 288.31 26.42 288.43 28.42 288.55 30.31 288.66 33.81 288.78 37.83 288.90 41.93 289.01 45.76 289.13 49.73 289.25 55.02 289.37 59.77 289.48 64.33 289.60 68.35 289.72 74.08 289.83 78.61 289.95 84.27 290.07 88.20 290.19 92.50 290.30 96.68 290.42 101.48 290.54 106.43 290.65 109.95 290.77 113.51 290.89 118.24 291.01 123.18 291.12 128.26 291.24 132.74 291.36 137.62 291.48 142.59 291.59 146.83 291.71 150.80 291.83 153.55 291.94 156.82 292.06 160.52 292.18 163.34 292.30 163.65 292.41 161.23 292.53 158.63 292.65 154.73 292.76 149.72 292.88 142.76 293.00 136.02 293.12 128.30 293.23 120.38 293.35 113.06 293.47 107.92 293.58 103.86 293.70 100.19 293.82 95.91 293.94 92.83 294.05 90.59 294.17 89.93 294.29 88.32 294.40 87.34 294.52 86.23 294.64 87.82 294.76 89.15 294.87 91.83 294.99 93.73 295.11 95.62 295.22 95.60 295.34 96.09 295.46 97.51 295.58 98.72 295.69 99.24 295.81 99.31 295.93 100.05 296.04 100.17 296.16 99.80 296.28 98.43 296.40 96.60 296.51 93.82 296.63 90.32 296.75 86.69 296.87 83.39 296.98 80.38 297.10 77.03 297.22 73.26 297.33 68.65 297.45 65.20 297.57 60.80 297.69 57.52 297.80 52.46 297.92 48.00 298.04 43.65 298.15 40.47 298.27 36.79 298.39 32.60 298.51 28.59 298.62 25.87 298.74 24.36 298.86 22.57 298.97 21.51 299.09 20.77 299.21 22.34 299.33 23.32 299.44 24.55 299.56 26.74 299.68 29.04 299.79 31.91 299.91 34.76 300.03 38.25 300.15 41.96 300.26 45.79 300.38 50.57 300.50 54.98 300.61 60.06 300.73 64.53 300.85 69.92 300.97 74.73 301.08 79.20 301.20 83.36 301.32 87.27 301.43 91.66 301.55 96.00 301.67 100.80 301.79 105.51 301.90 110.24 302.02 114.78 302.14 119.57 302.26 124.45 302.37 129.32 302.49 134.21 302.61 138.79 302.72 142.60 302.84 147.26 302.96 151.47 303.08 156.61 303.19 159.22 303.31 162.07 303.43 162.90 303.54 162.98 303.66 160.87 303.78 158.51 303.90 154.54 304.01 149.71 304.13 142.44 304.25 135.76 304.36 128.08 304.48 121.08 304.60 114.38 304.72 107.87 304.83 103.59 304.95 99.37 305.07 97.25 305.18 93.75 305.30 91.96 305.42 90.35 305.54 90.26 305.65 90.51 305.77 92.38 305.89 92.97 306.00 93.45 306.12 93.74 306.24 95.35 306.36 97.10 306.47 96.39 306.59 96.76 306.71 97.03 306.82 98.99 306.94 100.00 307.06 101.05 307.18 100.44 307.29 100.73 307.41 99.58 307.53 98.78 307.65 96.34 307.76 94.48 307.88 91.99 308.00 88.43 308.11 84.80 308.23 80.47 308.35 76.70 308.47 72.32 308.58 68.28 308.70 64.72 308.82 60.87 308.93 56.72 309.05 52.60 309.17 47.88 309.29 44.30 309.40 40.13 309.52 37.34 309.64 33.66 309.75 30.78 309.87 27.86 309.99 26.17 310.11 24.05 310.22 23.59 310.34 22.84 310.46 36.20 310.57 36.26 310.69 37.81 310.81 39.06 310.93 40.75 311.04 42.57 311.16 45.28 311.28 48.37 311.39 51.20 311.51 54.73 311.63 57.85 311.75 61.39 311.86 65.13 311.98 69.73 312.10 73.54 312.21 76.81 312.33 79.30 312.45 82.92 312.57 87.34 312.68 92.56 312.80 97.06 312.92 101.57 313.04 106.00 313.15 110.55 313.27 114.62 313.39 118.84 313.50 123.75 313.62 128.58 313.74 133.48 313.86 138.08 313.97 142.31 314.09 146.24 314.21 149.25 314.32 152.88 314.44 156.00 314.56 158.56 314.68 159.42 314.79 159.08 314.91 158.04 315.03 156.03 315.14 152.34 315.26 147.40 315.38 141.87 315.50 134.84 315.61 126.90 315.73 119.57 315.85 112.79 315.96 106.86 316.08 100.41 316.20 96.61 316.32 93.88 316.43 92.01 316.55 89.90 316.67 88.24 316.78 87.03 316.90 87.45 317.02 88.00 317.14 90.70 317.25 91.53 317.37 93.39 317.49 94.34 317.60 95.48 317.72 96.36 317.84 96.62 317.96 96.99 318.07 98.52 318.19 99.01 318.31 101.03 318.43 100.54 318.54 100.53 318.66 99.29 318.78 98.16 318.89 96.72 319.01 93.76 319.13 91.84 319.25 88.73 319.36 86.24 319.48 82.15 319.60 78.39 319.71 74.29 319.83 70.92 319.95 67.97 320.07 65.28 320.18 61.82 320.30 58.43 320.42 55.25 320.53 52.90 320.65 50.28 320.77 46.84 320.89 43.40 321.00 40.28 321.12 38.75 321.24 37.56 321.35 36.44 321.47 35.46 321.59 34.93 321.71 33.21 321.82 34.15 321.94 35.57 322.06 36.87 322.17 38.86 322.29 41.68 322.41 43.71 322.53 46.46 322.64 49.57 322.76 53.11 322.88 56.68 322.99 59.69 323.11 63.86 323.23 67.95 323.35 72.27 323.46 75.97 323.58 79.37 323.70 82.88 323.82 87.16 323.93 91.46 324.05 95.99 324.17 100.37 324.28 104.93 324.40 109.50 324.52 114.44 324.64 119.57 324.75 124.73 324.87 129.90 324.99 134.03 325.10 138.24 325.22 142.38 325.34 146.57 325.46 150.31 325.57 153.84 325.69 157.19 325.81 159.91 325.92 161.02 326.04 160.54 326.16 158.37 326.28 155.59 326.39 151.83 326.51 146.47 326.63 140.23 326.74 134.07 326.86 126.72 326.98 119.84 327.10 113.68 327.21 108.63 327.33 101.93 327.45 96.44 327.56 92.47 327.68 92.82 327.80 91.93 327.92 90.82 328.03 89.22 328.15 87.99 328.27 89.21 328.38 89.49 328.50 90.31 328.62 92.30 328.74 94.14 328.85 96.40 328.97 96.82 329.09 98.51 329.21 98.57 329.32 99.28 329.44 99.13 329.56 99.93 329.67 100.39 329.79 99.64 329.91 99.12 330.03 97.36 330.14 96.08 330.26 93.69 330.38 90.91 330.49 87.75 330.61 84.49 330.73 81.44 330.85 77.56 330.96 73.79 331.08 70.08 331.20 66.87 331.31 63.34 331.43 59.65 331.55 56.24 331.67 52.99 331.78 49.98 331.90 46.90" fill="none" stroke="#141414" stroke-width="1.2" stroke-linejoin="round"/>
<path d="M50.80 236.80v-3.2M50.80 7.20v3.2M64.85 236.80v-1.8M64.85 7.20v1.8M78.91 236.80v-1.8M78.91 7.20v1.8M92.97 236.80v-1.8M92.97 7.20v1.8M107.02 236.80v-1.8M107.02 7.20v1.8M121.07 236.80v-3.2M121.07 7.20v3.2M135.13 236.80v-1.8M135.13 7.20v1.8M149.19 236.80v-1.8M149.19 7.20v1.8M163.24 236.80v-1.8M163.24 7.20v1.8M177.29 236.80v-1.8M177.29 7.20v1.8M191.35 236.80v-3.2M191.35 7.20v3.2M205.40 236.80v-1.8M205.40 7.20v1.8M219.46 236.80v-1.8M219.46 7.20v1.8M233.51 236.80v-1.8M233.51 7.20v1.8M247.57 236.80v-1.8M247.57 7.20v1.8M261.62 236.80v-3.2M261.62 7.20v3.2M275.68 236.80v-1.8M275.68 7.20v1.8M289.74 236.80v-1.8M289.74 7.20v1.8M303.79 236.80v-1.8M303.79 7.20v1.8M317.84 236.80v-1.8M317.84 7.20v1.8M331.90 236.80v-3.2M331.90 7.20v3.2M50.80 236.80h3.2M331.90 236.80h-3.2M50.80 229.15h1.8M331.90 229.15h-1.8M50.80 221.49h1.8M331.90 221.49h-1.8M50.80 213.84h1.8M331.90 213.84h-1.8M50.80 206.19h1.8M331.90 206.19h-1.8M50.80 198.53h3.2M331.90 198.53h-3.2M50.80 190.88h1.8M331.90 190.88h-1.8M50.80 183.23h1.8M331.90 183.23h-1.8M50.80 175.57h1.8M331.90 175.57h-1.8M50.80 167.92h1.8M331.90 167.92h-1.8M50.80 160.27h3.2M331.90 160.27h-3.2M50.80 152.61h1.8M331.90 152.61h-1.8M50.80 144.96h1.8M331.90 144.96h-1.8M50.80 137.31h1.8M331.90 137.31h-1.8M50.80 129.65h1.8M331.90 129.65h-1.8M50.80 122.00h3.2M331.90 122.00h-3.2M50.80 114.35h1.8M331.90 114.35h-1.8M50.80 106.69h1.8M331.90 106.69h-1.8M50.80 99.04h1.8M331.90 99.04h-1.8M50.80 91.39h1.8M331.90 91.39h-1.8M50.80 83.73h3.2M331.90 83.73h-3.2M50.80 76.08h1.8M331.90 76.08h-1.8M50.80 68.43h1.8M331.90 68.43h-1.8M50.80 60.77h1.8M331.90 60.77h-1.8M50.80 53.12h1.8M331.90 53.12h-1.8M50.80 45.47h3.2M331.90 45.47h-3.2M50.80 37.81h1.8M331.90 37.81h-1.8M50.80 30.16h1.8M331.90 30.16h-1.8M50.80 22.51h1.8M331.90 22.51h-1.8M50.80 14.85h1.8M331.90 14.85h-1.8M50.80 7.20h3.2M331.90 7.20h-3.2" stroke="#333" stroke-width="1.1" fill="none"/>
<rect x="50.80" y="7.20" width="281.10" height="229.60" fill="none" stroke="#3a3a3a" stroke-width="1.4"/>
<text transform="translate(45.80 242.90) scale(1.035 1)" text-anchor="end" class="tl">-4</text>
<text transform="translate(45.80 204.63) scale(1.035 1)" text-anchor="end" class="tl">-3</text>
<text transform="translate(45.80 166.37) scale(1.035 1)" text-anchor="end" class="tl">-2</text>
<text transform="translate(45.80 128.10) scale(1.035 1)" text-anchor="end" class="tl">-1</text>
<text transform="translate(45.80 89.83) scale(1.035 1)" text-anchor="end" class="tl">0</text>
<text transform="translate(45.80 51.57) scale(1.035 1)" text-anchor="end" class="tl">1</text>
<text transform="translate(45.80 13.30) scale(1.035 1)" text-anchor="end" class="tl">2</text>
<text transform="translate(51.20 257.70) scale(1.035 1)" text-anchor="middle" class="tl">0</text>
<text transform="translate(121.47 257.70) scale(1.035 1)" text-anchor="middle" class="tl">0.5</text>
<text transform="translate(191.75 257.70) scale(1.035 1)" text-anchor="middle" class="tl">1</text>
<text transform="translate(262.02 257.70) scale(1.035 1)" text-anchor="middle" class="tl">1.5</text>
<text transform="translate(332.30 257.70) scale(1.035 1)" text-anchor="middle" class="tl">2</text>
<text transform="translate(192.25 280.70) scale(1.045 1)" text-anchor="middle" class="al">Time [<tspan font-style="italic" font-family="'Liberation Serif', serif">μ</tspan>s]</text>
<text transform="translate(51.10 22.10) scale(1.05 1)" class="pl">(a)</text>
<text transform="translate(24.30 122.25) rotate(-90) scale(1.043 1)" text-anchor="middle" class="al" style="font-size:17px">Laser Intensity (arb. units)</text>
<path d="M392.90 185.70 393.02 187.31 393.13 189.09 393.25 191.00 393.37 193.02 393.48 195.11 393.60 197.25 393.72 199.41 393.84 201.55 393.95 203.64 394.07 205.66 394.19 207.57 394.30 209.34 394.42 210.95 394.54 212.39 394.65 213.61 394.77 214.62 394.89 215.38 395.00 215.91 395.12 216.17 395.24 216.18 395.35 215.92 395.47 215.41 395.59 214.66 395.71 213.66 395.82 212.44 395.94 211.02 396.06 209.41 396.17 207.65 396.29 205.74 396.41 203.73 396.52 201.64 396.64 199.50 396.76 197.35 396.87 195.21 396.99 193.11 397.11 191.09 397.22 189.17 397.34 187.39 397.46 185.76 397.58 184.32 397.69 183.08 397.81 182.06 397.93 181.28 398.04 180.75 398.16 180.47 398.28 180.45 398.39 180.68 398.51 181.18 398.63 181.92 398.74 182.90 398.86 184.11 398.98 185.52 399.09 187.11 399.21 188.87 399.33 190.77 399.45 192.78 399.56 194.86 399.68 197.00 399.80 199.15 399.91 201.30 400.03 203.40 400.15 205.42 400.26 207.35 400.38 209.14 400.50 210.77 400.61 212.23 400.73 213.48 400.85 214.51 400.96 215.31 401.08 215.86 401.20 216.15 401.32 216.19 401.43 215.97 401.55 215.49 401.67 214.76 401.78 213.79 401.90 212.60 402.02 211.20 402.13 209.61 402.25 207.86 402.37 205.97 402.48 203.97 402.60 201.89 402.72 199.76 402.83 197.60 402.95 195.46 403.07 193.35 403.19 191.32 403.30 189.39 403.42 187.59 403.54 185.95 403.65 184.48 403.77 183.22 403.89 182.17 404.00 181.36 404.12 180.80 404.24 180.49 404.35 180.43 404.47 180.64 404.59 181.11 404.71 181.82 404.82 182.77 404.94 183.95 405.06 185.34 405.17 186.92 405.29 188.66 405.41 190.54 405.52 192.53 405.64 194.61 405.76 196.74 405.87 198.90 405.99 201.05 406.11 203.15 406.22 205.19 406.34 207.12 406.46 208.93 406.58 210.59 406.69 212.06 406.81 213.34 406.93 214.40 407.04 215.23 407.16 215.80 407.28 216.13 407.39 216.20 407.51 216.01 407.63 215.56 407.74 214.86 407.86 213.92 407.98 212.75 408.09 211.37 408.21 209.81 408.33 208.08 408.45 206.20 408.56 204.21 408.68 202.14 408.80 200.01 408.91 197.86 409.03 195.71 409.15 193.60 409.26 191.56 409.38 189.61 409.50 187.80 409.61 186.13 409.73 184.65 409.85 183.36 409.96 182.28 410.08 181.44 410.20 180.85 410.32 180.51 410.43 180.43 410.55 180.60 410.67 181.04 410.78 181.72 410.90 182.65 411.02 183.80 411.13 185.17 411.25 186.72 411.37 188.44 411.48 190.31 411.60 192.29 411.72 194.36 411.83 196.49 411.95 198.64 412.07 200.79 412.19 202.91 412.30 204.95 412.42 206.90 412.54 208.73 412.65 210.40 412.77 211.90 412.89 213.20 413.00 214.29 413.12 215.14 413.24 215.75 413.35 216.11 413.47 216.20 413.59 216.04 413.71 215.62 413.82 214.95 413.94 214.04 414.06 212.90 414.17 211.55 414.29 210.00 414.41 208.29 414.52 206.43 414.64 204.46 414.76 202.39 414.87 200.26 414.99 198.11 415.11 195.96 415.22 193.85 415.34 191.79 415.46 189.84 415.58 188.00 415.69 186.32 415.81 184.81 415.93 183.50 416.04 182.40 416.16 181.53 416.28 180.91 416.39 180.54 416.51 180.42 416.63 180.57 416.74 180.97 416.86 181.63 416.98 182.53 417.09 183.65 417.21 184.99 417.33 186.53 417.45 188.23 417.56 190.08 417.68 192.05 417.80 194.11 417.91 196.24 418.03 198.39 418.15 200.54 418.26 202.66 418.38 204.71 418.50 206.68 418.61 208.52 418.73 210.21 418.85 211.73 418.96 213.06 419.08 214.17 419.20 215.05 419.32 215.69 419.43 216.08 419.55 216.21 419.67 216.07 419.78 215.69 419.90 215.04 420.02 214.16 420.13 213.05 420.25 211.72 420.37 210.20 420.48 208.50 420.60 206.66 420.72 204.69 420.83 202.64 420.95 200.52 421.07 198.37 421.19 196.21 421.30 194.09 421.42 192.03 421.54 190.06 421.65 188.21 421.77 186.51 421.89 184.98 422.00 183.64 422.12 182.52 422.24 181.62 422.35 180.97 422.47 180.57 422.59 180.42 422.70 180.54 422.82 180.91 422.94 181.54 423.06 182.41 423.17 183.51 423.29 184.83 423.41 186.34 423.52 188.02 423.64 189.86 423.76 191.81 423.87 193.87 423.99 195.98 424.11 198.13 424.22 200.29 424.34 202.41 424.46 204.48 424.58 206.45 424.69 208.31 424.81 210.02 424.93 211.56 425.04 212.91 425.16 214.05 425.28 214.96 425.39 215.63 425.51 216.04 425.63 216.20 425.74 216.10 425.86 215.74 425.98 215.13 426.09 214.28 426.21 213.19 426.33 211.89 426.45 210.39 426.56 208.71 426.68 206.88 426.80 204.93 426.91 202.88 427.03 200.77 427.15 198.62 427.26 196.47 427.38 194.34 427.50 192.27 427.61 190.29 427.73 188.43 427.85 186.70 427.96 185.15 428.08 183.79 428.20 182.64 428.32 181.72 428.43 181.03 428.55 180.60 428.67 180.43 428.78 180.51 428.90 180.86 429.02 181.45 429.13 182.29 429.25 183.37 429.37 184.66 429.48 186.15 429.60 187.81 429.72 189.63 429.83 191.58 429.95 193.62 430.07 195.73 430.19 197.88 430.30 200.03 430.42 202.16 430.54 204.24 430.65 206.22 430.77 208.10 430.89 209.83 431.00 211.39 431.12 212.76 431.24 213.93 431.35 214.86 431.47 215.56 431.59 216.01 431.70 216.20 431.82 216.13 431.94 215.80 432.06 215.22 432.17 214.39 432.29 213.33 432.41 212.05 432.52 210.57 432.64 208.92 432.76 207.11 432.87 205.17 432.99 203.13 433.11 201.02 433.22 198.88 433.34 196.72 433.46 194.59 433.57 192.51 433.69 190.52 433.81 188.64 433.93 186.90 434.04 185.33 434.16 183.94 434.28 182.76 434.39 181.81 434.51 181.10 434.63 180.64 434.74 180.43 434.86 180.49 434.98 180.80 435.09 181.37 435.21 182.18 435.33 183.23 435.45 184.50 435.56 185.96 435.68 187.61 435.80 189.41 435.91 191.34 436.03 193.37 436.15 195.48 436.26 197.62 436.38 199.78 436.50 201.91 436.61 203.99 436.73 205.99 436.85 207.88 436.96 209.63 437.08 211.21 437.20 212.61 437.32 213.80 437.43 214.77 437.55 215.49 437.67 215.97 437.78 216.19 437.90 216.15 438.02 215.85 438.13 215.30 438.25 214.50 438.37 213.47 438.48 212.21 438.60 210.76 438.72 209.12 438.83 207.33 438.95 205.40 439.07 203.38 439.19 201.28 439.30 199.13 439.42 196.98 439.54 194.84 439.65 192.76 439.77 190.75 439.89 188.86 440.00 187.10 440.12 185.50 440.24 184.09 440.35 182.89 440.47 181.91 440.59 181.17 440.70 180.68 440.82 180.44 440.94 180.47 441.06 180.75 441.17 181.29 441.29 182.07 441.41 183.09 441.52 184.34 441.64 185.78 441.76 187.41 441.87 189.19 441.99 191.11 442.11 193.13 442.22 195.23 442.34 197.37 442.46 199.52 442.57 201.66 442.69 203.75 442.81 205.76 442.93 207.66 443.04 209.43 443.16 211.04 443.28 212.46 443.39 213.67 443.51 214.66 443.63 215.42 443.74 215.93 443.86 216.18 443.98 216.17 444.09 215.90 444.21 215.38 444.33 214.61 444.44 213.60 444.56 212.37 444.68 210.94 444.80 209.32 444.91 207.55 445.03 205.64 445.15 203.62 445.26 201.53 445.38 199.39 445.50 197.23 445.61 195.09 445.73 193.00 445.85 190.98 445.96 189.07 446.08 187.30 446.20 185.68 446.32 184.25 446.43 183.02 446.55 182.02 446.67 181.25 446.78 180.73 446.90 180.46 447.02 180.45 447.13 180.70 447.25 181.21 447.37 181.97 447.48 182.96 447.60 184.18 447.72 185.60 447.83 187.21 447.95 188.97 448.07 190.88 448.19 192.89 448.30 194.98 448.42 197.11 448.54 199.27 448.65 201.41 448.77 203.51 448.89 205.53 449.00 207.45 449.12 209.23 449.24 210.86 449.35 212.30 449.47 213.54 449.59 214.56 449.70 215.34 449.82 215.88 449.94 216.16 450.06 216.18 450.17 215.95 450.29 215.45 450.41 214.71 450.52 213.73 450.64 212.53 450.76 211.12 450.87 209.52 450.99 207.76 451.11 205.87 451.22 203.86 451.34 201.78 451.46 199.64 451.57 197.49 451.69 195.34 451.81 193.24 451.93 191.22 452.04 189.29 452.16 187.50 452.28 185.86 452.39 184.41 452.51 183.16 452.63 182.12 452.74 181.32 452.86 180.77 452.98 180.48 453.09 180.44 453.21 180.66 453.33 181.14 453.44 181.87 453.56 182.83 453.68 184.02 453.80 185.42 453.91 187.01 454.03 188.76 454.15 190.64 454.26 192.64 454.38 194.73 454.50 196.86 454.61 199.01 454.73 201.16 454.85 203.26 454.96 205.30 455.08 207.23 455.20 209.03 455.32 210.67 455.43 212.14 455.55 213.40 455.67 214.45 455.78 215.26 455.90 215.83 456.02 216.14 456.13 216.19 456.25 215.99 456.37 215.52 456.48 214.81 456.60 213.86 456.72 212.68 456.83 211.30 456.95 209.72 457.07 207.98 457.19 206.10 457.30 204.11 457.42 202.03 457.54 199.90 457.65 197.74 457.77 195.59 457.89 193.49 458.00 191.45 458.12 189.51 458.24 187.70 458.35 186.05 458.47 184.57 458.59 183.29 458.70 182.23 458.82 181.41 458.94 180.83 459.06 180.50 459.17 180.43 459.29 180.62 459.41 181.07 459.52 181.77 459.64 182.71 459.76 183.87 459.87 185.25 459.99 186.81 460.11 188.54 460.22 190.41 460.34 192.40 460.46 194.48 460.57 196.61 460.69 198.76 460.81 200.91 460.93 203.02 461.04 205.06 461.16 207.00 461.28 208.82 461.39 210.49 461.51 211.98 461.63 213.27 461.74 214.34 461.86 215.18 461.98 215.78 462.09 216.12 462.21 216.20 462.33 216.03 462.44 215.59 462.56 214.91 462.68 213.98 462.80 212.83 462.91 211.47 463.03 209.92 463.15 208.19 463.26 206.33 463.38 204.35 463.50 202.28 463.61 200.15 463.73 198.00 463.85 195.85 463.96 193.73 464.08 191.69 464.20 189.74 464.31 187.91 464.43 186.24 464.55 184.74 464.67 183.43 464.78 182.35 464.90 181.49 465.02 180.88 465.13 180.52 465.25 180.42 465.37 180.58 465.48 181.00 465.60 181.67 465.72 182.58 465.83 183.72 465.95 185.07 466.07 186.62 466.19 188.33 466.30 190.19 466.42 192.16 466.54 194.23 466.65 196.35 466.77 198.50 466.89 200.65 467.00 202.77 467.12 204.82 467.24 206.78 467.35 208.61 467.47 210.30 467.59 211.81 467.70 213.12 467.82 214.22 467.94 215.09 468.06 215.72 468.17 216.09 468.29 216.20 468.41 216.06 468.52 215.66 468.64 215.00 468.76 214.11 468.87 212.98 468.99 211.64 469.11 210.11 469.22 208.41 469.34 206.56 469.46 204.59 469.57 202.52 469.69 200.40 469.81 198.25 469.93 196.10 470.04 193.98 470.16 191.92 470.28 189.96 470.39 188.12 470.51 186.42 470.63 184.90 470.74 183.58 470.86 182.46 470.98 181.58 471.09 180.94 471.21 180.55 471.33 180.42 471.44 180.55 471.56 180.94 471.68 181.58 471.80 182.46 471.91 183.58 472.03 184.90 472.15 186.42 472.26 188.12 472.38 189.96 472.50 191.92 472.61 193.98 472.73 196.10 472.85 198.25 472.96 200.40 473.08 202.52 473.20 204.58 473.31 206.55 473.43 208.40 473.55 210.11 473.67 211.64 473.78 212.98 473.90 214.11 474.02 215.00 474.13 215.66 474.25 216.06 474.37 216.20 474.48 216.09 474.60 215.72 474.72 215.09 474.83 214.22 474.95 213.12 475.07 211.81 475.18 210.30 475.30 208.61 475.42 206.78 475.54 204.82 475.65 202.77 475.77 200.66 475.89 198.51 476.00 196.35 476.12 194.23 476.24 192.16 476.35 190.19 476.47 188.33 476.59 186.62 476.70 185.07 476.82 183.72 476.94 182.58 477.06 181.67 477.17 181.00 477.29 180.59 477.41 180.42 477.52 180.52 477.64 180.88 477.76 181.49 477.87 182.35 477.99 183.43 478.11 184.73 478.22 186.23 478.34 187.91 478.46 189.74 478.57 191.69 478.69 193.73 478.81 195.85 478.93 197.99 479.04 200.15 479.16 202.28 479.28 204.34 479.39 206.33 479.51 208.19 479.63 209.91 479.74 211.47 479.86 212.83 479.98 213.98 480.09 214.91 480.21 215.59 480.33 216.03 480.44 216.20 480.56 216.12 480.68 215.78 480.80 215.18 480.91 214.34 481.03 213.27 481.15 211.98 481.26 210.49 481.38 208.82 481.50 207.00 481.61 205.06 481.73 203.02 481.85 200.91 481.96 198.76 482.08 196.61 482.20 194.48 482.31 192.40 482.43 190.42 482.55 188.54 482.67 186.81 482.78 185.25 482.90 183.87 483.02 182.71 483.13 181.77 483.25 181.07 483.37 180.62 483.48 180.43 483.60 180.50 483.72 180.83 483.83 181.41 483.95 182.23 484.07 183.29 484.18 184.57 484.30 186.05 484.42 187.70 484.54 189.51 484.65 191.45 484.77 193.49 484.89 195.59 485.00 197.74 485.12 199.89 485.24 202.03 485.35 204.10 485.47 206.10 485.59 207.98 485.70 209.72 485.82 211.29 485.94 212.68 486.05 213.86 486.17 214.81 486.29 215.52 486.41 215.99 486.52 216.19 486.64 216.14 486.76 215.83 486.87 215.26 486.99 214.45 487.11 213.40 487.22 212.14 487.34 210.67 487.46 209.03 487.57 207.23 487.69 205.30 487.81 203.26 487.93 201.16 488.04 199.02 488.16 196.86 488.28 194.73 488.39 192.64 488.51 190.65 488.63 188.76 488.74 187.01 488.86 185.42 488.98 184.02 489.09 182.83 489.21 181.87 489.33 181.14 489.44 180.66 489.56 180.44 489.68 180.48 489.80 180.77 489.91 181.32 490.03 182.12 490.15 183.16 490.26 184.41 490.38 185.86 490.50 187.50 490.61 189.29 490.73 191.21 490.85 193.24 490.96 195.34 491.08 197.48 491.20 199.64 491.31 201.78 491.43 203.86 491.55 205.87 491.67 207.76 491.78 209.52 491.90 211.12 492.02 212.53 492.13 213.73 492.25 214.71 492.37 215.45 492.48 215.95 492.60 216.18 492.72 216.16 492.83 215.88 492.95 215.34 493.07 214.56 493.18 213.54 493.30 212.30 493.42 210.86 493.54 209.23 493.65 207.45 493.77 205.53 493.89 203.51 494.00 201.41 494.12 199.27 494.24 197.12 494.35 194.98 494.47 192.89 494.59 190.88 494.70 188.97 494.82 187.21 494.94 185.60 495.05 184.18 495.17 182.96 495.29 181.97 495.41 181.21 495.52 180.70 495.64 180.45 495.76 180.46 495.87 180.72 495.99 181.25 496.11 182.02 496.22 183.02 496.34 184.25 496.46 185.68 496.57 187.30 496.69 189.07 496.81 190.98 496.93 193.00 497.04 195.09 497.16 197.23 497.28 199.39 497.39 201.53 497.51 203.62 497.63 205.64 497.74 207.55 497.86 209.32 497.98 210.94 498.09 212.37 498.21 213.60 498.33 214.61 498.44 215.38 498.56 215.90 498.68 216.17 498.80 216.18 498.91 215.93 499.03 215.42 499.15 214.66 499.26 213.67 499.38 212.46 499.50 211.04 499.61 209.43 499.73 207.67 499.85 205.76 499.96 203.75 500.08 201.66 500.20 199.53 500.31 197.37 500.43 195.23 500.55 193.13 500.67 191.11 500.78 189.19 500.90 187.41 501.02 185.78 501.13 184.34 501.25 183.09 501.37 182.07 501.48 181.29 501.60 180.75 501.72 180.47 501.83 180.44 501.95 180.68 502.07 181.17 502.18 181.91 502.30 182.89 502.42 184.09 502.54 185.50 502.65 187.10 502.77 188.85 502.89 190.75 503.00 192.75 503.12 194.84 503.24 196.98 503.35 199.13 503.47 201.27 503.59 203.37 503.70 205.40 503.82 207.33 503.94 209.12 504.05 210.76 504.17 212.21 504.29 213.47 504.41 214.50 504.52 215.30 504.64 215.85 504.76 216.15 504.87 216.19 504.99 215.97 505.11 215.49 505.22 214.77 505.34 213.80 505.46 212.61 505.57 211.22 505.69 209.63 505.81 207.88 505.92 205.99 506.04 204.00 506.16 201.91 506.28 199.78 506.39 197.62 506.51 195.48 506.63 193.38 506.74 191.34 506.86 189.41 506.98 187.61 507.09 185.96 507.21 184.50 507.33 183.23 507.44 182.18 507.56 181.37 507.68 180.80 507.80 180.49 507.91 180.43 508.03 180.64 508.15 181.10 508.26 181.81 508.38 182.76 508.50 183.94 508.61 185.32 508.73 186.90 508.85 188.64 508.96 190.52 509.08 192.51 509.20 194.59 509.31 196.72 509.43 198.88 509.55 201.02 509.67 203.13 509.78 205.17 509.90 207.10 510.02 208.91 510.13 210.57 510.25 212.05 510.37 213.33 510.48 214.39 510.60 215.22 510.72 215.80 510.83 216.13 510.95 216.20 511.07 216.01 511.18 215.56 511.30 214.87 511.42 213.93 511.54 212.76 511.65 211.39 511.77 209.83 511.89 208.10 512.00 206.22 512.12 204.24 512.24 202.16 512.35 200.03 512.47 197.88 512.59 195.73 512.70 193.62 512.82 191.58 512.94 189.63 513.05 187.82 513.17 186.15 513.29 184.66 513.41 183.37 513.52 182.29 513.64 181.45 513.76 180.86 513.87 180.51 513.99 180.43 514.11 180.60 514.22 181.03 514.34 181.71 514.46 182.64 514.57 183.79 514.69 185.15 514.81 186.70 514.92 188.42 515.04 190.29 515.16 192.27 515.28 194.34 515.39 196.47 515.51 198.62 515.63 200.77 515.74 202.88 515.86 204.93 515.98 206.88 516.09 208.71 516.21 210.38 516.33 211.88 516.44 213.19 516.56 214.28 516.68 215.13 516.79 215.74 516.91 216.10 517.03 216.20 517.15 216.04 517.26 215.63 517.38 214.96 517.50 214.05 517.61 212.91 517.73 211.56 517.85 210.02 517.96 208.31 518.08 206.45 518.20 204.48 518.31 202.41 518.43 200.29 518.55 198.13 518.67 195.98 518.78 193.87 518.90 191.82 519.02 189.86 519.13 188.02 519.25 186.34 519.37 184.83 519.48 183.51 519.60 182.41 519.72 181.54 519.83 180.91 519.95 180.54 520.07 180.42 520.18 180.57 520.30 180.97 520.42 181.62 520.54 182.52 520.65 183.64 520.77 184.98 520.89 186.51 521.00 188.21 521.12 190.06 521.24 192.03 521.35 194.09 521.47 196.21 521.59 198.37 521.70 200.52 521.82 202.64 521.94 204.69 522.05 206.66 522.17 208.50 522.29 210.19 522.41 211.72 522.52 213.05 522.64 214.16 522.76 215.04 522.87 215.68 522.99 216.07 523.11 216.21 523.22 216.08 523.34 215.69 523.46 215.05 523.57 214.17 523.69 213.06 523.81 211.73 523.92 210.21 524.04 208.52 524.16 206.68 524.28 204.72 524.39 202.66 524.51 200.54 524.63 198.39 524.74 196.24 524.86 194.12 524.98 192.05 525.09 190.08 525.21 188.23 525.33 186.53 525.44 185.00 525.56 183.66 525.68 182.53 525.79 181.63 525.91 180.97 526.03 180.57 526.15 180.42 526.26 180.54 526.38 180.91 526.50 181.53 526.61 182.40 526.73 183.50 526.85 184.81 526.96 186.32 527.08 188.00 527.20 189.84 527.31 191.79 527.43 193.84 527.55 195.96 527.66 198.11 527.78 200.26 527.90 202.39 528.02 204.45 528.13 206.43 528.25 208.29 528.37 210.00 528.48 211.55 528.60 212.90 528.72 214.04 528.83 214.95 528.95 215.62 529.07 216.04 529.18 216.20 529.30 216.11 529.42 215.75 529.54 215.14 529.65 214.29 529.77 213.20 529.89 211.90 530.00 210.40 530.12 208.73 530.24 206.90 530.35 204.95 530.47 202.91 530.59 200.79 530.70 198.65 530.82 196.49 530.94 194.36 531.05 192.29 531.17 190.31 531.29 188.45 531.41 186.72 531.52 185.17 531.64 183.80 531.76 182.65 531.87 181.72 531.99 181.04 532.11 180.60 532.22 180.43 532.34 180.51 532.46 180.85 532.57 181.44 532.69 182.28 532.81 183.36 532.92 184.64 533.04 186.13 533.16 187.80 533.28 189.61 533.39 191.56 533.51 193.60 533.63 195.71 533.74 197.86 533.86 200.01 533.98 202.14 534.09 204.21 534.21 206.20 534.33 208.08 534.44 209.81 534.56 211.37 534.68 212.75 534.79 213.92 534.91 214.86 535.03 215.56 535.15 216.01 535.26 216.20 535.38 216.13 535.50 215.81 535.61 215.23 535.73 214.40 535.85 213.34 535.96 212.07 536.08 210.59 536.20 208.93 536.31 207.13 536.43 205.19 536.55 203.15 536.66 201.05 536.78 198.90 536.90 196.75 537.02 194.61 537.13 192.53 537.25 190.54 537.37 188.66 537.48 186.92 537.60 185.34 537.72 183.95 537.83 182.77 537.95 181.82 538.07 181.11 538.18 180.64 538.30 180.43 538.42 180.49 538.54 180.80 538.65 181.36 538.77 182.17 538.89 183.22 539.00 184.48 539.12 185.95 539.24 187.59 539.35 189.39 539.47 191.32 539.59 193.35 539.70 195.46 539.82 197.60 539.94 199.76 540.05 201.89 540.17 203.97 540.29 205.97 540.41 207.86 540.52 209.61 540.64 211.20 540.76 212.60 540.87 213.79 540.99 214.76 541.11 215.49 541.22 215.97 541.34 216.19 541.46 216.15 541.57 215.86 541.69 215.31 541.81 214.51 541.92 213.48 542.04 212.23 542.16 210.77 542.28 209.14 542.39 207.35 542.51 205.42 542.63 203.40 542.74 201.30 542.86 199.15 542.98 197.00 543.09 194.86 543.21 192.78 543.33 190.77 543.44 188.87 543.56 187.12 543.68 185.52 543.79 184.11 543.91 182.90 544.03 181.92 544.15 181.18 544.26 180.68 544.38 180.45 544.50 180.47 544.61 180.75 544.73 181.28 544.85 182.06 544.96 183.08 545.08 184.32 545.20 185.76 545.31 187.39 545.43 189.17 545.55 191.09 545.66 193.11 545.78 195.20 545.90 197.35 546.02 199.50 546.13 201.64 546.25 203.73 546.37 205.74 546.48 207.64 546.60 209.41 546.72 211.02 546.83 212.44 546.95 213.66 547.07 214.65 547.18 215.41 547.30 215.92 547.42 216.18 547.53 216.17 547.65 215.91 547.77 215.39 547.89 214.62 548.00 213.61 548.12 212.39 548.24 210.96 548.35 209.34 548.47 207.57 548.59 205.66 548.70 203.64 548.82 201.55 548.94 199.41 549.05 197.25 549.17 195.11 549.29 193.02 549.41 191.00 549.52 189.09 549.64 187.32 549.76 185.70 549.87 184.26 549.99 183.03 550.11 182.03 550.22 181.25 550.34 180.73 550.46 180.46 550.57 180.45 550.69 180.70 550.81 181.21 550.92 181.96 551.04 182.95 551.16 184.16 551.28 185.58 551.39 187.19 551.51 188.95 551.63 190.85 551.74 192.86 551.86 194.95 551.98 197.09 552.09 199.25 552.21 201.39 552.33 203.49 552.44 205.51 552.56 207.43 552.68 209.21 552.79 210.84 552.91 212.28 553.03 213.53 553.15 214.55 553.26 215.34 553.38 215.87 553.50 216.16 553.61 216.18 553.73 215.95 553.85 215.46 553.96 214.72 554.08 213.74 554.20 212.54 554.31 211.13 554.43 209.54 554.55 207.78 554.66 205.89 554.78 203.89 554.90 201.80 555.02 199.66 555.13 197.51 555.25 195.37 555.37 193.26 555.48 191.24 555.60 189.31 555.72 187.52 555.83 185.88 555.95 184.42 556.07 183.17 556.18 182.13 556.30 181.33 556.42 180.78 556.53 180.48 556.65 180.44 556.77 180.66 556.89 181.13 557.00 181.86 557.12 182.82 557.24 184.01 557.35 185.40 557.47 186.99 557.59 188.74 557.70 190.62 557.82 192.62 557.94 194.70 558.05 196.84 558.17 198.99 558.29 201.14 558.40 203.24 558.52 205.27 558.64 207.21 558.76 209.01 558.87 210.66 558.99 212.12 559.11 213.39 559.22 214.44 559.34 215.26 559.46 215.82 559.57 216.14 559.69 216.19 559.81 215.99 559.92 215.53 560.04 214.82 560.16 213.87 560.28 212.70 560.39 211.31 560.51 209.74 560.63 208.00 560.74 206.12 560.86 204.13 560.98 202.05 561.09 199.92 561.21 197.76 561.33 195.62 561.44 193.51 561.56 191.47 561.68 189.53 561.79 187.72 561.91 186.07 562.03 184.59 562.15 183.31 562.26 182.24 562.38 181.41 562.50 180.83 562.61 180.50 562.73 180.43 562.85 180.62 562.96 181.06 563.08 181.76 563.20 182.69 563.31 183.86 563.43 185.23 563.55 186.79 563.66 188.52 563.78 190.39 563.90 192.38 564.02 194.45 564.13 196.58 564.25 198.74 564.37 200.88 564.48 203.00 564.60 205.04 564.72 206.98 564.83 208.80 564.95 210.47 565.07 211.96 565.18 213.25 565.30 214.33 565.42 215.17 565.53 215.77 565.65 216.12 565.77 216.20 565.89 216.03 566.00 215.60 566.12 214.92 566.24 214.00 566.35 212.85 566.47 211.49 566.59 209.93 566.70 208.21 566.82 206.35 566.94 204.37 567.05 202.30 567.17 200.17 567.29 198.02 567.40 195.87 567.52 193.76 567.64 191.71 567.76 189.76 567.87 187.93 567.99 186.25 568.11 184.75 568.22 183.45 568.34 182.36 568.46 181.50 568.57 180.89 568.69 180.53 568.81 180.42 568.92 180.58 569.04 181.00 569.16 181.66 569.27 182.57 569.39 183.71 569.51 185.06 569.63 186.60 569.74 188.31 569.86 190.17 569.98 192.14 570.09 194.20 570.21 196.33 570.33 198.48 570.44 200.63 570.56 202.75 570.68 204.80 570.79 206.76 570.91 208.59 571.03 210.28 571.15 211.79 571.26 213.11 571.38 214.21 571.50 215.08 571.61 215.71 571.73 216.09 571.85 216.21 571.96 216.06 572.08 215.66 572.20 215.01 572.31 214.12 572.43 212.99 572.55 211.66 572.66 210.13 572.78 208.42 572.90 206.58 573.02 204.61 573.13 202.55 573.25 200.43 573.37 198.27 573.48 196.12 573.60 194.00 573.72 191.95 573.83 189.98 573.95 188.14 574.07 186.44 574.18 184.92 574.30 183.59 574.42 182.47 574.53 181.59 574.65 180.95 574.77 180.56 574.89 180.42 575.00 180.55 575.12 180.93 575.24 181.57 575.35 182.45 575.47 183.56 575.59 184.89 575.70 186.41 575.82 188.10 575.94 189.94 576.05 191.90 576.17 193.96 576.29 196.08 576.40 198.23 576.52 200.38 576.64 202.50 576.76 204.56 576.87 206.53 576.99 208.39 577.11 210.09 577.22 211.62 577.34 212.97 577.46 214.09 577.57 214.99 577.69 215.65 577.81 216.06 577.92 216.20 578.04 216.09 578.16 215.72 578.27 215.10 578.39 214.23 578.51 213.14 578.63 211.82 578.74 210.32 578.86 208.63 578.98 206.80 579.09 204.85 579.21 202.79 579.33 200.68 579.44 198.53 579.56 196.38 579.68 194.25 579.79 192.18 579.91 190.21 580.03 188.35 580.15 186.63 580.26 185.09 580.38 183.74 580.50 182.59 580.61 181.68 580.73 181.01 580.85 180.59 580.96 180.42 581.08 180.52 581.20 180.88 581.31 181.48 581.43 182.34 581.55 183.42 581.66 184.72 581.78 186.22 581.90 187.89 582.02 189.71 582.13 191.66 582.25 193.71 582.37 195.82 582.48 197.97 582.60 200.13 582.72 202.25 582.83 204.32 582.95 206.31 583.07 208.17 583.18 209.90 583.30 211.45 583.42 212.82 583.53 213.97 583.65 214.90 583.77 215.59 583.89 216.02 584.00 216.20 584.12 216.12 584.24 215.78 584.35 215.19 584.47 214.35 584.59 213.28 584.70 211.99 584.82 210.50 584.94 208.84 585.05 207.02 585.17 205.08 585.29 203.04 585.40 200.93 585.52 198.78 585.64 196.63 585.76 194.50 585.87 192.43 585.99 190.44 586.11 188.56 586.22 186.83 586.34 185.26 586.46 183.88 586.57 182.72 586.69 181.78 586.81 181.08 586.92 180.62 587.04 180.43 587.16 180.50 587.27 180.82 587.39 181.40 587.51 182.22 587.63 183.28 587.74 184.56 587.86 186.03 587.98 187.68 588.09 189.49 588.21 191.43 588.33 193.46 588.44 195.57 588.56 197.72 588.68 199.87 588.79 202.00 588.91 204.08 589.03 206.08 589.14 207.96 589.26 209.70 589.38 211.28 589.50 212.67 589.61 213.85 589.73 214.80 589.85 215.52 589.96 215.98 590.08 216.19 590.20 216.14 590.31 215.83 590.43 215.27 590.55 214.46 590.66 213.42 590.78 212.15 590.90 210.69 591.02 209.05 591.13 207.25 591.25 205.32 591.37 203.29 591.48 201.18 591.60 199.04 591.72 196.88 591.83 194.75 591.95 192.67 592.07 190.67 592.18 188.78 592.30 187.03 592.42 185.44 592.53 184.04 592.65 182.84 592.77 181.88 592.89 181.15 593.00 180.66 593.12 180.44 593.24 180.47 593.35 180.77 593.47 181.32 593.59 182.11 593.70 183.14 593.82 184.39 593.94 185.85 594.05 187.48 594.17 189.27 594.29 191.19 594.40 193.22 594.52 195.32 594.64 197.46 594.76 199.62 594.87 201.75 594.99 203.84 595.11 205.85 595.22 207.74 595.34 209.50 595.46 211.10 595.57 212.51 595.69 213.72 595.81 214.70 595.92 215.45 596.04 215.94 596.16 216.18 596.27 216.16 596.39 215.88 596.51 215.35 596.63 214.57 596.74 213.55 596.86 212.31 596.98 210.87 597.09 209.25 597.21 207.47 597.33 205.55 597.44 203.53 597.56 201.44 597.68 199.29 597.79 197.14 597.91 195.00 598.03 192.91 598.14 190.90 598.26 188.99 598.38 187.22 598.50 185.62 598.61 184.19 598.73 182.97 598.85 181.98 598.96 181.22 599.08 180.71 599.20 180.45 599.31 180.46 599.43 180.72 599.55 181.24 599.66 182.01 599.78 183.01 599.90 184.23 600.01 185.66 600.13 187.28 600.25 189.05 600.37 190.96 600.48 192.97 600.60 195.07 600.72 197.21 600.83 199.36 600.95 201.50 601.07 203.60 601.18 205.61 601.30 207.53 601.42 209.30 601.53 210.92 601.65 212.36 601.77 213.59 601.89 214.60 602.00 215.37 602.12 215.90 602.24 216.17 602.35 216.18 602.47 215.93 602.59 215.43 602.70 214.67 602.82 213.68 602.94 212.47 603.05 211.05 603.17 209.45 603.29 207.69 603.40 205.78 603.52 203.77 603.64 201.69 603.76 199.55 603.87 197.39 603.99 195.25 604.11 193.15 604.22 191.13 604.34 189.21 604.46 187.43 604.57 185.80 604.69 184.35 604.81 183.11 604.92 182.08 605.04 181.30 605.16 180.76 605.27 180.47 605.39 180.44 605.51 180.68 605.63 181.16 605.74 181.90 605.86 182.88 605.98 184.08 606.09 185.49 606.21 187.08 606.33 188.83 606.44 190.73 606.56 192.73 606.68 194.82 606.79 196.95 606.91 199.11 607.03 201.25 607.14 203.35 607.26 205.38 607.38 207.31 607.50 209.10 607.61 210.74 607.73 212.20 607.85 213.45 607.96 214.49 608.08 215.29 608.20 215.85 608.31 216.15 608.43 216.19 608.55 215.97 608.66 215.50 608.78 214.78 608.90 213.81 609.01 212.63 609.13 211.23 609.25 209.65 609.37 207.90 609.48 206.02 609.60 204.02 609.72 201.94 609.83 199.80 609.95 197.65 610.07 195.50 610.18 193.40 610.30 191.36 610.42 189.43 610.53 187.63 610.65 185.98 610.77 184.51 610.88 183.24 611.00 182.19 611.12 181.38 611.24 180.81 611.35 180.49 611.47 180.43 611.59 180.64 611.70 181.09 611.82 181.80 611.94 182.75 612.05 183.93 612.17 185.31 612.29 186.88 612.40 188.62 612.52 190.50 612.64 192.49 612.76 194.57 612.87 196.70 612.99 198.85 613.11 201.00 613.22 203.11 613.34 205.15 613.46 207.08 613.57 208.90 613.69 210.55 613.81 212.04 613.92 213.32 614.04 214.38 614.16 215.21 614.27 215.80 614.39 216.13 614.51 216.20 614.63 216.01 614.74 215.57 614.86 214.87 614.98 213.94 615.09 212.78 615.21 211.41 615.33 209.84 615.44 208.12 615.56 206.24 615.68 204.26 615.79 202.19 615.91 200.06 616.03 197.90 616.14 195.75 616.26 193.64 616.38 191.60 616.50 189.65 616.61 187.83 616.73 186.17 616.85 184.68 616.96 183.38 617.08 182.30 617.20 181.46 617.31 180.86 617.43 180.51 617.55 180.43 617.66 180.60 617.78 181.03 617.90 181.71 618.01 182.63 618.13 183.78 618.25 185.14 618.37 186.69 618.48 188.41 618.60 190.27 618.72 192.25 618.83 194.32 618.95 196.44 619.07 198.60 619.18 200.75 619.30 202.86 619.42 204.91 619.53 206.86 619.65 208.69 619.77 210.37 619.88 211.87 620.00 213.18 620.12 214.27 620.24 215.12 620.35 215.74 620.47 216.10 620.59 216.20 620.70 216.05 620.82 215.63 620.94 214.97 621.05 214.06 621.17 212.93 621.29 211.58 621.40 210.04 621.52 208.33 621.64 206.47 621.76 204.50 621.87 202.43 621.99 200.31 622.11 198.16 622.22 196.01 622.34 193.89 622.46 191.84 622.57 189.88 622.69 188.04 622.81 186.36 622.92 184.84 623.04 183.52 623.16 182.42 623.27 181.55 623.39 180.92 623.51 180.54 623.63 180.42 623.74 180.56 623.86 180.96 623.98 181.61 624.09 182.51 624.21 183.63 624.33 184.96 624.44 186.49 624.56 188.19 624.68 190.04 624.79 192.01 624.91 194.07 625.03 196.19 625.14 198.34 625.26 200.49 625.38 202.61 625.50 204.67 625.61 206.64 625.73 208.48 625.85 210.18 625.96 211.70 626.08 213.03 626.20 214.15 626.31 215.04 626.43 215.68 626.55 216.07 626.66 216.21 626.78 216.08 626.90 215.70 627.01 215.06 627.13 214.18 627.25 213.07 627.37 211.75 627.48 210.23 627.60 208.54 627.72 206.70 627.83 204.74 627.95 202.68 628.07 200.56 628.18 198.41 628.30 196.26 628.42 194.14 628.53 192.08 628.65 190.10 628.77 188.25 628.88 186.55 629.00 185.01 629.12 183.67 629.24 182.54 629.35 181.64 629.47 180.98 629.59 180.57 629.70 180.42 629.82 180.53 629.94 180.90 630.05 181.52 630.17 182.39 630.29 183.48 630.40 184.80 630.52 186.30 630.64 187.98 630.75 189.82 630.87 191.77 630.99 193.82 631.11 195.94 631.22 198.09 631.34 200.24 631.46 202.37 631.57 204.43 631.69 206.41 631.81 208.27 631.92 209.99 632.04 211.53 632.16 212.89 632.27 214.03 632.39 214.94 632.51 215.62 632.63 216.04 632.74 216.20 632.86 216.11 632.98 215.75 633.09 215.15 633.21 214.30 633.33 213.21 633.44 211.92 633.56 210.42 633.68 208.75 633.79 206.92 633.91 204.97 634.03 202.93 634.14 200.82 634.26 198.67 634.38 196.51 634.50 194.39 634.61 192.32 634.73 190.33 634.85 188.46 634.96 186.74 635.08 185.18 635.20 183.82 635.31 182.66 635.43 181.73 635.55 181.04 635.66 180.61 635.78 180.43 635.90 180.51 636.01 180.85 636.13 181.44 636.25 182.27 636.37 183.34 636.48 184.63 636.60 186.12 636.72 187.78 636.83 189.59 636.95 191.54 637.07 193.58 637.18 195.69 637.30 197.83 637.42 199.99 637.53 202.12 637.65 204.19 637.77 206.18 637.88 208.06 638.00 209.79 638.12 211.36 638.24 212.74 638.35 213.90 638.47 214.85 638.59 215.55 638.70 216.00 638.82 216.20 638.94 216.13 639.05 215.81 639.17 215.23 639.29 214.41 639.40 213.35 639.52 212.08 639.64 210.61 639.75 208.95 639.87 207.15 639.99 205.21 640.11 203.18 640.22 201.07 640.34 198.92 640.46 196.77 640.57 194.64 640.69 192.56 640.81 190.56 640.92 188.68 641.04 186.94 641.16 185.36 641.27 183.97 641.39 182.79 641.51 181.83 641.62 181.11 641.74 180.65 641.86 180.44 641.98 180.48 642.09 180.79 642.21 181.35 642.33 182.16 642.44 183.20 642.56 184.47 642.68 185.93 642.79 187.57 642.91 189.37 643.03 191.30 643.14 193.33 643.26 195.43 643.38 197.58 643.50 199.73 643.61 201.87 643.73 203.95 643.85 205.95 643.96 207.84 644.08 209.59 644.20 211.18 644.31 212.58 644.43 213.78 644.55 214.75 644.66 215.48 644.78 215.96 644.90 216.19 645.01 216.15 645.13 215.86 645.25 215.31 645.37 214.52 645.48 213.49 645.60 212.24 645.72 210.79 645.83 209.16 645.95 207.37 646.07 205.45 646.18 203.42 646.30 201.32 646.42 199.18 646.53 197.02 646.65 194.89 646.77 192.80 646.88 190.79 647.00 188.89 647.12 187.13 647.24 185.53 647.35 184.12 647.47 182.91 647.59 181.93 647.70 181.19 647.82 180.69 647.94 180.45 648.05 180.46 648.17 180.74 648.29 181.27 648.40 182.05 648.52 183.07 648.64 184.31 648.75 185.75 648.87 187.37 648.99 189.15 649.11 191.07 649.22 193.09 649.34 195.18 649.46 197.32 649.57 199.48 649.69 201.62 649.81 203.71 649.92 205.72 650.04 207.63 650.16 209.39 650.27 211.00 650.39 212.43 650.51 213.65 650.62 214.65 650.74 215.41 650.86 215.92 650.98 216.17 651.09 216.17 651.21 215.91 651.33 215.39 651.44 214.63 651.56 213.62 651.68 212.40 651.79 210.97 651.91 209.36 652.03 207.59 652.14 205.68 652.26 203.66 652.38 201.57 652.49 199.43 652.61 197.28 652.73 195.14 652.85 193.04 652.96 191.02 653.08 189.11 653.20 187.33 653.31 185.71 653.43 184.28 653.55 183.05 653.66 182.04 653.78 181.26 653.90 180.73 654.01 180.46 654.13 180.45 654.25 180.70 654.37 181.20 654.48 181.95 654.60 182.94 654.72 184.15 654.83 185.57 654.95 187.17 655.07 188.93 655.18 190.83 655.30 192.84 655.42 194.93 655.53 197.07 655.65 199.22 655.77 201.37 655.88 203.46 656.00 205.49 656.12 207.41 656.24 209.19 656.35 210.82 656.47 212.27 656.59 213.52 656.70 214.54 656.82 215.33 656.94 215.87 657.05 216.16 657.17 216.19 657.29 215.95 657.40 215.47 657.52 214.73 657.64 213.76 657.75 212.56 657.87 211.15 657.99 209.56 658.11 207.80 658.22 205.91 658.34 203.91 658.46 201.82 658.57 199.69 658.69 197.53 658.81 195.39 658.92 193.29 659.04 191.26 659.16 189.33 659.27 187.54 659.39 185.90 659.51 184.44 659.62 183.18 659.74 182.14 659.86 181.34 659.98 180.78 660.09 180.48 660.21 180.44 660.33 180.65 660.44 181.13 660.56 181.85 660.68 182.81 660.79 183.99 660.91 185.39 661.03 186.97 661.14 188.72 661.26 190.60 661.38 192.60 661.49 194.68 661.61 196.81 661.73 198.97 661.85 201.11 661.96 203.22 662.08 205.25 662.20 207.19 662.31 208.99 662.43 210.64 662.55 212.11 662.66 213.38 662.78 214.43 662.90 215.25 663.01 215.82 663.13 216.14 663.25 216.20 663.37 215.99 663.48 215.54 663.60 214.83 663.72 213.88 663.83 212.71 663.95 211.33 664.07 209.76 664.18 208.02 664.30 206.14 664.42 204.15 664.53 202.07 664.65 199.94 664.77 197.79 664.88 195.64 665.00 193.53 665.12 191.49 665.24 189.55 665.35 187.74 665.47 186.08 665.59 184.60 665.70 183.32 665.82 182.25 665.94 181.42 666.05 180.84 666.17 180.50 666.29 180.43 666.40 180.61 666.52 181.06 666.64 181.75 666.75 182.68 666.87 183.84 666.99 185.21 667.11 186.77 667.22 188.50 667.34 190.37 667.46 192.36 667.57 194.43 667.69 196.56 667.81 198.71 667.92 200.86 668.04 202.97 668.16 205.02 668.27 206.96 668.39 208.78 668.51 210.45 668.62 211.95 668.74 213.24 668.86 214.32 668.98 215.16 669.09 215.76 669.21 216.11 669.33 216.20 669.44 216.03 669.56 215.60 669.68 214.93 669.79 214.01 669.91 212.86 670.03 211.50 670.14 209.95 670.26 208.23 670.38 206.37 670.49 204.39 670.61 202.32 670.73 200.20 670.85 198.04 670.96 195.89 671.08 193.78 671.20 191.73 671.31 189.78 671.43 187.95 671.55 186.27 671.66 184.77 671.78 183.46 671.90 182.37 672.01 181.51 672.13 180.89 672.25 180.53 672.36 180.42 672.48 180.58 672.60 180.99 672.72 181.65 672.83 182.56 672.95 183.69 673.07 185.04 673.18 186.58 673.30 188.29" fill="none" stroke="#969696" stroke-width="1.05"/>
<path d="M392.90 122.07 393.02 114.83 393.13 108.47 393.25 103.70 393.37 99.45 393.48 95.28 393.60 92.22 393.72 88.40 393.84 86.06 393.95 82.92 394.07 81.17 394.19 79.19 394.30 77.76 394.42 78.50 394.54 78.50 394.65 78.58 394.77 79.14 394.89 79.61 395.00 80.90 395.12 83.43 395.24 85.96 395.35 89.11 395.47 88.83 395.59 90.31 395.71 92.05 395.82 94.79 395.94 96.51 396.06 97.22 396.17 97.06 396.29 97.32 396.41 97.38 396.52 97.20 396.64 96.98 396.76 95.06 396.87 92.77 396.99 89.63 397.11 87.10 397.22 84.15 397.34 80.28 397.46 76.65 397.58 73.70 397.69 70.26 397.81 67.19 397.93 62.90 398.04 59.62 398.16 54.80 398.28 51.25 398.39 46.80 398.51 43.28 398.63 40.07 398.74 37.92 398.86 35.33 398.98 32.04 399.09 29.43 399.21 27.74 399.33 27.03 399.45 26.10 399.56 25.71 399.68 28.17 399.80 29.31 399.91 30.11 400.03 31.24 400.15 33.16 400.26 35.00 400.38 37.70 400.50 40.26 400.61 44.62 400.73 47.96 400.85 51.18 400.96 54.51 401.08 59.15 401.20 63.00 401.32 67.12 401.43 70.93 401.55 74.66 401.67 78.14 401.78 82.04 401.90 87.55 402.02 92.51 402.13 98.02 402.25 102.36 402.37 107.29 402.48 111.45 402.60 116.39 402.72 120.36 402.83 124.23 402.95 127.90 403.07 131.90 403.19 136.18 403.30 140.49 403.42 145.07 403.54 148.56 403.65 151.48 403.77 154.28 403.89 156.69 404.00 159.13 404.12 159.72 404.24 159.13 404.35 156.65 404.47 152.03 404.59 146.61 404.71 140.80 404.82 135.76 404.94 129.65 405.06 123.31 405.17 116.11 405.29 110.41 405.41 104.02 405.52 99.70 405.64 94.87 405.76 91.71 405.87 88.87 405.99 86.48 406.11 83.75 406.22 80.90 406.34 78.39 406.46 75.18 406.58 72.99 406.69 72.27 406.81 72.47 406.93 73.85 407.04 73.16 407.16 74.53 407.28 76.75 407.39 79.34 407.51 81.43 407.63 84.77 407.74 88.12 407.86 91.14 407.98 92.79 408.09 94.81 408.21 96.59 408.33 96.79 408.45 97.12 408.56 96.21 408.68 96.38 408.80 95.28 408.91 94.66 409.03 92.45 409.15 90.74 409.26 88.60 409.38 85.93 409.50 82.27 409.61 78.03 409.73 74.32 409.85 70.99 409.96 68.20 410.08 64.30 410.20 60.33 410.32 56.45 410.43 53.14 410.55 50.11 410.67 45.90 410.78 42.38 410.90 39.00 411.02 36.58 411.13 34.21 411.25 32.32 411.37 31.23 411.48 30.54 411.60 30.13 411.72 29.22 411.83 27.85 411.95 28.36 412.07 29.41 412.19 31.33 412.30 32.86 412.42 34.96 412.54 37.86 412.65 39.96 412.77 43.24 412.89 46.16 413.00 49.83 413.12 53.49 413.24 57.95 413.35 62.34 413.47 66.11 413.59 69.81 413.71 73.86 413.82 78.74 413.94 83.03 414.06 87.35 414.17 91.53 414.29 95.52 414.41 100.33 414.52 105.18 414.64 110.76 414.76 114.83 414.87 118.97 414.99 122.57 415.11 127.12 415.22 130.89 415.34 135.04 415.46 139.44 415.58 143.94 415.69 147.99 415.81 152.17 415.93 155.55 416.04 158.75 416.16 160.35 416.28 161.95 416.39 161.67 416.51 160.29 416.63 156.69 416.74 152.40 416.86 146.32 416.98 140.25 417.09 133.08 417.21 125.55 417.33 118.94 417.45 111.88 417.56 107.34 417.68 102.37 417.80 98.40 417.91 93.44 418.03 88.73 418.15 87.10 418.26 85.08 418.38 83.68 418.50 80.38 418.61 79.33 418.73 78.25 418.85 79.56 418.96 79.67 419.08 80.96 419.20 80.48 419.32 82.37 419.43 84.18 419.55 85.98 419.67 85.72 419.78 86.81 419.90 88.95 420.02 92.11 420.13 93.36 420.25 94.73 420.37 95.05 420.48 96.42 420.60 97.68 420.72 98.73 420.83 98.85 420.95 98.03 421.07 95.93 421.19 93.36 421.30 90.95 421.42 88.06 421.54 85.27 421.65 82.10 421.77 79.36 421.89 76.16 422.00 72.69 422.12 69.88 422.24 66.22 422.35 62.18 422.47 58.58 422.59 54.59 422.70 50.71 422.82 46.40 422.94 43.07 423.06 40.15 423.17 37.41 423.29 35.08 423.41 32.50 423.52 30.98 423.64 29.49 423.76 28.93 423.87 28.21 423.99 35.32 424.11 36.16 424.22 36.95 424.34 37.93 424.46 38.86 424.58 40.65 424.69 41.80 424.81 44.42 424.93 46.71 425.04 50.54 425.16 53.52 425.28 56.38 425.39 59.81 425.51 62.78 425.63 66.42 425.74 70.27 425.86 74.10 425.98 78.42 426.09 81.07 426.21 85.70 426.33 90.30 426.45 96.24 426.56 101.03 426.68 105.43 426.80 109.64 426.91 114.08 427.03 118.51 427.15 122.62 427.26 126.06 427.38 130.55 427.50 134.74 427.61 139.46 427.73 143.27 427.85 147.27 427.96 150.92 428.08 153.74 428.20 156.53 428.32 158.76 428.43 159.99 428.55 159.50 428.67 157.51 428.78 154.38 428.90 150.49 429.02 144.90 429.13 138.90 429.25 132.27 429.37 126.44 429.48 119.23 429.60 112.45 429.72 104.10 429.83 99.80 429.95 94.76 430.07 92.93 430.19 89.29 430.30 86.80 430.42 85.06 430.54 83.83 430.65 83.32 430.77 81.96 430.89 80.96 431.00 80.08 431.12 79.61 431.24 80.34 431.35 82.28 431.47 84.96 431.59 87.03 431.70 88.74 431.82 88.99 431.94 90.39 432.06 92.48 432.17 94.01 432.29 95.63 432.41 96.57 432.52 97.98 432.64 98.18 432.76 99.34 432.87 99.77 432.99 99.53 433.11 97.96 433.22 96.47 433.34 94.77 433.46 91.87 433.57 89.06 433.69 85.74 433.81 82.92 433.93 80.16 434.04 77.39 434.16 74.80 434.28 71.79 434.39 69.12 434.51 65.48 434.63 62.11 434.74 58.58 434.86 55.87 434.98 51.96 435.09 48.48 435.21 45.32 435.33 43.51 435.45 41.96 435.56 39.92 435.68 38.05 435.80 36.79 435.91 35.64 436.03 34.97 436.15 34.70 436.26 21.04 436.38 22.26 436.50 23.26 436.61 24.92 436.73 27.50 436.85 29.70 436.96 32.53 437.08 34.95 437.20 38.63 437.32 42.66 437.43 47.06 437.55 51.53 437.67 55.73 437.78 60.53 437.90 65.69 438.02 70.74 438.13 75.83 438.25 80.74 438.37 86.18 438.48 90.41 438.60 95.07 438.72 99.13 438.83 103.67 438.95 107.72 439.07 111.39 439.19 115.66 439.30 120.45 439.42 125.14 439.54 129.41 439.65 132.74 439.77 136.71 439.89 140.31 440.00 144.00 440.12 147.25 440.24 150.75 440.35 153.65 440.47 155.64 440.59 155.79 440.70 155.46 440.82 153.91 440.94 151.21 441.06 146.90 441.17 141.23 441.29 135.67 441.41 129.89 441.52 123.71 441.64 116.88 441.76 110.85 441.87 105.54 441.99 101.92 442.11 97.26 442.22 93.94 442.34 89.76 442.46 87.00 442.57 84.14 442.69 81.98 442.81 79.36 442.93 77.35 443.04 76.22 443.16 76.51 443.28 75.14 443.39 73.50 443.51 73.34 443.63 74.98 443.74 78.93 443.86 81.55 443.98 84.14 444.09 84.06 444.21 85.98 444.33 88.60 444.44 90.68 444.56 93.12 444.68 94.13 444.80 96.09 444.91 96.48 445.03 97.34 445.15 96.73 445.26 96.64 445.38 95.74 445.50 95.00 445.61 92.69 445.73 90.45 445.85 87.04 445.96 83.72 446.08 80.34 446.20 77.37 446.32 73.50 446.43 68.90 446.55 65.07 446.67 61.04 446.78 56.81 446.90 51.91 447.02 47.43 447.13 43.83 447.25 39.33 447.37 35.60 447.48 31.05 447.60 27.73 447.72 25.27 447.83 24.05 447.95 22.96 448.07 21.71 448.19 20.68 448.30 20.96 448.42 22.86 448.54 23.57 448.65 24.86 448.77 27.14 448.89 29.39 449.00 31.34 449.12 34.12 449.24 37.20 449.35 40.48 449.47 44.23 449.59 47.60 449.70 51.52 449.82 55.74 449.94 60.60 450.06 65.48 450.17 69.74 450.29 74.25 450.41 79.02 450.52 84.06 450.64 88.47 450.76 92.84 450.87 97.57 450.99 102.34 451.11 107.03 451.22 111.51 451.34 115.79 451.46 120.05 451.57 124.23 451.69 128.76 451.81 133.40 451.93 137.03 452.04 140.66 452.16 144.77 452.28 149.50 452.39 153.01 452.51 155.75 452.63 158.40 452.74 160.58 452.86 162.17 452.98 161.14 453.09 158.73 453.21 155.03 453.33 150.44 453.44 144.66 453.56 136.94 453.68 130.02 453.80 123.27 453.91 116.16 454.03 109.52 454.15 104.45 454.26 100.28 454.38 96.08 454.50 91.09 454.61 88.18 454.73 86.26 454.85 83.90 454.96 83.03 455.08 81.17 455.20 81.74 455.32 80.47 455.43 80.77 455.55 81.34 455.67 82.96 455.78 85.53 455.90 87.67 456.02 89.32 456.13 89.90 456.25 91.19 456.37 92.98 456.48 93.41 456.60 93.92 456.72 96.02 456.83 97.68 456.95 99.45 457.07 100.05 457.19 100.03 457.30 99.78 457.42 98.33 457.54 97.50 457.65 95.22 457.77 92.53 457.89 89.70 458.00 86.99 458.12 84.38 458.24 81.10 458.35 78.02 458.47 74.32 458.59 70.81 458.70 66.57 458.82 62.33 458.94 57.92 459.06 53.49 459.17 48.74 459.29 45.36 459.41 41.75 459.52 39.02 459.64 35.12 459.76 32.53 459.87 29.75 459.99 27.53 460.11 25.57 460.22 24.35 460.34 23.58 460.46 23.70 460.57 28.42 460.69 28.88 460.81 29.44 460.93 31.07 461.04 32.96 461.16 35.48 461.28 37.78 461.39 40.87 461.51 43.35 461.63 46.90 461.74 49.52 461.86 52.83 461.98 56.73 462.09 61.42 462.21 66.07 462.33 70.04 462.44 73.56 462.56 77.62 462.68 82.53 462.80 87.25 462.91 92.05 463.03 96.51 463.15 101.44 463.26 105.67 463.38 109.98 463.50 114.08 463.61 118.33 463.73 122.68 463.85 128.08 463.96 133.34 464.08 137.74 464.20 141.28 464.31 144.25 464.43 148.40 464.55 152.45 464.67 156.69 464.78 159.65 464.90 162.06 465.02 163.26 465.13 163.42 465.25 161.49 465.37 157.63 465.48 152.99 465.60 146.50 465.72 140.29 465.83 132.37 465.95 125.18 466.07 118.08 466.19 112.71 466.30 107.43 466.42 102.57 466.54 96.18 466.65 92.31 466.77 89.11 466.89 87.22 467.00 83.46 467.12 82.13 467.24 81.33 467.35 80.63 467.47 80.27 467.59 78.47 467.70 79.24 467.82 79.20 467.94 80.66 468.06 82.31 468.17 82.42 468.29 83.59 468.41 83.70 468.52 85.94 468.64 88.23 468.76 91.48 468.87 93.28 468.99 94.41 469.11 96.41 469.22 97.16 469.34 98.47 469.46 97.95 469.57 97.81 469.69 96.48 469.81 94.97 469.93 93.23 470.04 90.99 470.16 88.33 470.28 85.30 470.39 82.24 470.51 78.79 470.63 75.36 470.74 71.94 470.86 69.06 470.98 65.49 471.09 62.37 471.21 57.93 471.33 54.33 471.44 49.57 471.56 45.20 471.68 41.57 471.80 38.36 471.91 36.30 472.03 33.88 472.15 32.47 472.26 30.73 472.38 28.84 472.50 27.58 472.61 27.73 472.73 24.69 472.85 25.34 472.96 25.41 473.08 26.40 473.20 28.03 473.31 30.28 473.43 32.99 473.55 36.02 473.67 39.65 473.78 43.61 473.90 47.17 474.02 50.93 474.13 54.23 474.25 59.02 474.37 63.81 474.48 68.33 474.60 72.45 474.72 76.42 474.83 81.64 474.95 86.25 475.07 91.39 475.18 95.57 475.30 100.31 475.42 104.48 475.54 108.78 475.65 112.94 475.77 118.15 475.89 122.67 476.00 127.18 476.12 131.37 476.24 136.31 476.35 140.80 476.47 144.61 476.59 148.74 476.70 153.45 476.82 157.62 476.94 161.07 477.06 162.51 477.17 164.54 477.29 163.56 477.41 161.96 477.52 158.03 477.64 153.75 477.76 148.77 477.87 142.03 477.99 136.11 478.11 128.87 478.22 122.58 478.34 116.02 478.46 109.72 478.57 103.81 478.69 97.78 478.81 92.88 478.93 89.33 479.04 87.07 479.16 85.78 479.28 85.30 479.39 84.06 479.51 83.42 479.63 81.77 479.74 82.72 479.86 84.64 479.98 85.57 480.09 85.52 480.21 84.15 480.33 84.60 480.44 85.35 480.56 87.82 480.68 89.49 480.80 92.21 480.91 93.51 481.03 94.96 481.15 94.65 481.26 95.92 481.38 97.69 481.50 98.66 481.61 99.10 481.73 98.28 481.85 97.95 481.96 96.51 482.08 94.09 482.20 91.43 482.31 88.63 482.43 86.08 482.55 83.26 482.67 79.49 482.78 76.11 482.90 72.57 483.02 69.20 483.13 65.35 483.25 61.06 483.37 57.08 483.48 52.87 483.60 48.75 483.72 43.79 483.83 39.74 483.95 37.29 484.07 35.03 484.18 32.68 484.30 29.36 484.42 26.83 484.54 25.00 484.65 24.73 484.77 24.50 484.89 26.25 485.00 25.77 485.12 26.26 485.24 27.87 485.35 29.32 485.47 32.29 485.59 34.35 485.70 37.31 485.82 39.16 485.94 42.72 486.05 46.92 486.17 51.19 486.29 55.15 486.41 58.29 486.52 62.98 486.64 67.41 486.76 71.95 486.87 76.20 486.99 80.15 487.11 85.50 487.22 89.53 487.34 94.54 487.46 98.38 487.57 103.71 487.69 108.50 487.81 113.30 487.93 117.37 488.04 120.80 488.16 124.92 488.28 129.00 488.39 133.44 488.51 136.65 488.63 141.09 488.74 144.78 488.86 149.58 488.98 152.90 489.09 156.82 489.21 159.01 489.33 161.03 489.44 161.34 489.56 160.29 489.68 157.32 489.80 152.40 489.91 146.80 490.03 140.69 490.15 134.17 490.26 128.12 490.38 120.93 490.50 114.63 490.61 106.99 490.73 101.26 490.85 96.89 490.96 94.42 491.08 90.36 491.20 88.07 491.31 85.57 491.43 84.82 491.55 83.94 491.67 82.83 491.78 80.98 491.90 78.41 492.02 78.57 492.13 79.12 492.25 79.65 492.37 78.39 492.48 81.04 492.60 83.46 492.72 86.79 492.83 88.19 492.95 89.72 493.07 91.62 493.18 93.62 493.30 96.00 493.42 97.43 493.54 98.69 493.65 99.10 493.77 99.38 493.89 98.55 494.00 97.25 494.12 96.19 494.24 94.48 494.35 92.25 494.47 89.34 494.59 87.06 494.70 84.91 494.82 81.40 494.94 77.24 495.05 72.99 495.17 69.93 495.29 66.03 495.41 61.91 495.52 57.68 495.64 54.20 495.76 51.20 495.87 47.07 495.99 43.78 496.11 39.52 496.22 36.39 496.34 33.13 496.46 30.51 496.57 28.89 496.69 27.20 496.81 26.31 496.93 25.43 497.04 25.49 497.16 28.44 497.28 29.06 497.39 30.08 497.51 31.99 497.63 33.95 497.74 35.41 497.86 37.86 497.98 40.80 498.09 44.92 498.21 48.67 498.33 52.73 498.44 56.07 498.56 59.59 498.68 63.35 498.80 68.00 498.91 72.32 499.03 76.42 499.15 80.67 499.26 84.84 499.38 89.14 499.50 93.27 499.61 97.66 499.73 102.43 499.85 106.53 499.96 111.58 500.08 115.70 500.20 120.37 500.31 124.55 500.43 128.96 500.55 133.86 500.67 138.50 500.78 142.87 500.90 146.83 501.02 150.24 501.13 154.13 501.25 157.42 501.37 160.57 501.48 162.53 501.60 163.28 501.72 162.42 501.83 160.04 501.95 155.35 502.07 150.85 502.18 144.81 502.30 138.69 502.42 130.74 502.54 122.85 502.65 116.05 502.77 110.30 502.89 105.26 503.00 101.28 503.12 95.84 503.24 91.43 503.35 88.19 503.47 86.45 503.59 86.21 503.70 86.00 503.82 86.20 503.94 86.89 504.05 86.41 504.17 86.37 504.29 85.30 504.41 84.83 504.52 86.55 504.64 88.36 504.76 90.54 504.87 91.33 504.99 94.99 505.11 96.98 505.22 97.80 505.34 97.65 505.46 97.91 505.57 98.59 505.69 99.46 505.81 99.93 505.92 100.16 506.04 99.11 506.16 98.81 506.28 97.48 506.39 95.85 506.51 92.86 506.63 90.24 506.74 87.38 506.86 84.53 506.98 81.77 507.09 78.62 507.21 75.85 507.33 72.29 507.44 68.30 507.56 64.16 507.68 60.38 507.80 57.04 507.91 53.45 508.03 49.50 508.15 46.19 508.26 42.05 508.38 39.24 508.50 35.43 508.61 33.38 508.73 31.55 508.85 30.44 508.96 29.55 509.08 28.52 509.20 28.16 509.31 23.29 509.43 24.24 509.55 25.70 509.67 27.48 509.78 29.32 509.90 31.46 510.02 33.66 510.13 36.55 510.25 40.07 510.37 43.51 510.48 48.03 510.60 52.08 510.72 56.65 510.83 60.14 510.95 64.31 511.07 68.56 511.18 73.48 511.30 78.09 511.42 83.38 511.54 87.89 511.65 93.35 511.77 97.05 511.89 101.12 512.00 105.19 512.12 110.48 512.24 116.09 512.35 120.83 512.47 124.96 512.59 128.74 512.70 133.04 512.82 137.50 512.94 141.87 513.05 145.41 513.17 149.10 513.29 152.95 513.41 156.86 513.52 160.35 513.64 163.29 513.76 164.24 513.87 163.57 513.99 160.26 514.11 157.38 514.22 152.26 514.34 147.11 514.46 139.78 514.57 132.67 514.69 125.95 514.81 119.67 514.92 113.04 515.04 106.65 515.16 101.00 515.28 96.61 515.39 92.21 515.51 87.95 515.63 85.46 515.74 83.16 515.86 81.15 515.98 78.25 516.09 76.94 516.21 75.55 516.33 75.75 516.44 75.48 516.56 76.74 516.68 79.38 516.79 81.31 516.91 83.06 517.03 84.14 517.15 84.66 517.26 87.81 517.38 89.95 517.50 92.98 517.61 94.02 517.73 94.81 517.85 96.41 517.96 97.00 518.08 98.36 518.20 98.22 518.31 97.86 518.43 96.85 518.55 95.03 518.67 93.30 518.78 90.84 518.90 88.40 519.02 85.99 519.13 82.94 519.25 79.32 519.37 75.14 519.48 71.65 519.60 67.56 519.72 63.50 519.83 59.40 519.95 55.89 520.07 51.75 520.18 47.80 520.30 43.75 520.42 40.18 520.54 36.25 520.65 32.98 520.77 30.21 520.89 28.19 521.00 26.52 521.12 24.64 521.24 23.87 521.35 23.38 521.47 28.38 521.59 28.62 521.70 29.02 521.82 30.35 521.94 31.64 522.05 34.89 522.17 36.97 522.29 39.58 522.41 42.04 522.52 45.28 522.64 49.06 522.76 52.25 522.87 55.98 522.99 60.06 523.11 64.80 523.22 69.59 523.34 74.30 523.46 78.58 523.57 83.19 523.69 87.49 523.81 91.40 523.92 95.44 524.04 100.03 524.16 104.56 524.28 109.84 524.39 114.26 524.51 119.10 524.63 122.65 524.74 126.60 524.86 130.74 524.98 134.96 525.09 139.17 525.21 143.01 525.33 147.73 525.44 152.47 525.56 156.90 525.68 159.79 525.79 161.69 525.91 162.53 526.03 162.22 526.15 160.16 526.26 156.81 526.38 152.81 526.50 147.03 526.61 141.52 526.73 134.46 526.85 128.61 526.96 120.85 527.08 114.79 527.20 107.00 527.31 102.41 527.43 96.67 527.55 93.64 527.66 90.17 527.78 86.98 527.90 85.11 528.02 81.96 528.13 82.25 528.25 81.58 528.37 83.56 528.48 82.14 528.60 80.92 528.72 79.65 528.83 81.15 528.95 83.90 529.07 83.64 529.18 84.62 529.30 87.13 529.42 90.80 529.54 94.62 529.65 93.93 529.77 94.08 529.89 93.38 530.00 95.45 530.12 97.52 530.24 99.22 530.35 99.11 530.47 98.82 530.59 97.59 530.70 96.53 530.82 94.42 530.94 91.64 531.05 88.21 531.17 85.13 531.29 82.31 531.41 79.99 531.52 77.11 531.64 74.02 531.76 69.88 531.87 65.80 531.99 61.45 532.11 57.77 532.22 54.12 532.34 50.98 532.46 47.51 532.57 44.31 532.69 40.06 532.81 36.94 532.92 34.08 533.04 31.93 533.16 30.37 533.28 28.72 533.39 28.40 533.51 27.62 533.63 27.86 533.74 28.02 533.86 28.50 533.98 30.00 534.09 32.45 534.21 34.47 534.33 36.37 534.44 38.09 534.56 41.54 534.68 44.34 534.79 47.50 534.91 51.43 535.03 55.54 535.15 60.28 535.26 64.53 535.38 69.04 535.50 72.96 535.61 77.22 535.73 81.89 535.85 86.13 535.96 90.21 536.08 94.21 536.20 99.47 536.31 104.20 536.43 108.79 536.55 112.85 536.66 117.03 536.78 120.96 536.90 125.28 537.02 130.04 537.13 134.96 537.25 139.10 537.37 142.19 537.48 146.01 537.60 149.89 537.72 153.98 537.83 157.31 537.95 160.04 538.07 161.57 538.18 160.93 538.30 158.81 538.42 155.78 538.54 151.78 538.65 147.32 538.77 140.84 538.89 134.21 539.00 126.68 539.12 121.12 539.24 113.82 539.35 109.31 539.47 103.44 539.59 100.44 539.70 94.51 539.82 91.67 539.94 88.48 540.05 87.10 540.17 84.87 540.29 83.41 540.41 81.52 540.52 80.50 540.64 81.19 540.76 84.37 540.87 84.15 540.99 85.16 541.11 86.05 541.22 88.53 541.34 88.65 541.46 88.93 541.57 91.50 541.69 92.45 541.81 93.41 541.92 93.88 542.04 95.79 542.16 98.13 542.28 98.99 542.39 99.87 542.51 98.23 542.63 98.14 542.74 97.49 542.86 97.35 542.98 95.52 543.09 93.08 543.21 89.90 543.33 86.79 543.44 83.02 543.56 79.81 543.68 76.27 543.79 73.08 543.91 69.54 544.03 66.29 544.15 63.49 544.26 59.78 544.38 56.03 544.50 51.32 544.61 47.93 544.73 44.79 544.85 41.86 544.96 38.29 545.08 35.05 545.20 32.76 545.31 31.20 545.43 29.14 545.55 28.03 545.66 27.44 545.78 27.95 545.90 30.38 546.02 30.61 546.13 31.17 546.25 32.44 546.37 34.54 546.48 36.99 546.60 39.33 546.72 42.42 546.83 45.36 546.95 48.92 547.07 52.49 547.18 56.44 547.30 59.92 547.42 63.80 547.53 67.78 547.65 71.76 547.77 76.17 547.89 80.45 548.00 85.09 548.12 88.85 548.24 93.84 548.35 98.29 548.47 103.08 548.59 107.28 548.70 111.84 548.82 116.74 548.94 121.06 549.05 125.80 549.17 130.12 549.29 134.70 549.41 139.22 549.52 143.51 549.64 147.99 549.76 151.74 549.87 155.78 549.99 159.48 550.11 163.25 550.22 165.61 550.34 166.96 550.46 165.74 550.57 162.58 550.69 157.89 550.81 151.69 550.92 146.26 551.04 139.38 551.16 133.35 551.28 125.41 551.39 118.22 551.51 110.37 551.63 104.30 551.74 98.39 551.86 93.89 551.98 90.24 552.09 87.28 552.21 85.20 552.33 84.30 552.44 82.16 552.56 78.61 552.68 74.85 552.79 72.28 552.91 72.79 553.03 74.25 553.15 77.36 553.26 78.00 553.38 78.19 553.50 79.20 553.61 81.20 553.73 84.27 553.85 86.00 553.96 88.89 554.08 90.38 554.20 92.01 554.31 93.73 554.43 94.69 554.55 95.81 554.66 96.81 554.78 96.69 554.90 97.24 555.02 96.01 555.13 94.92 555.25 93.13 555.37 90.26 555.48 87.31 555.60 83.62 555.72 80.82 555.83 77.96 555.95 74.73 556.07 71.11 556.18 67.81 556.30 64.19 556.42 60.74 556.53 56.64 556.65 52.55 556.77 49.46 556.89 46.84 557.00 43.93 557.12 40.50 557.24 37.57 557.35 35.16 557.47 33.07 557.59 31.10 557.70 29.56 557.82 29.34 557.94 29.14 558.05 24.93 558.17 25.03 558.29 26.46 558.40 28.50 558.52 30.25 558.64 31.55 558.76 34.04 558.87 37.00 558.99 41.23 559.11 45.02 559.22 48.75 559.34 52.64 559.46 56.70 559.57 61.90 559.69 65.52 559.81 69.99 559.92 73.76 560.04 79.24 560.16 84.21 560.28 88.33 560.39 92.50 560.51 96.80 560.63 101.75 560.74 106.03 560.86 111.01 560.98 116.01 561.09 120.71 561.21 124.63 561.33 128.74 561.44 133.41 561.56 138.02 561.68 142.57 561.79 147.15 561.91 151.79 562.03 156.44 562.15 160.44 562.26 163.84 562.38 166.42 562.50 167.66 562.61 167.01 562.73 164.42 562.85 160.40 562.96 155.87 563.08 149.54 563.20 143.59 563.31 135.45 563.43 128.74 563.55 120.18 563.66 112.75 563.78 106.80 563.90 101.05 564.02 96.67 564.13 91.80 564.25 88.59 564.37 86.35 564.48 83.77 564.60 82.92 564.72 80.55 564.83 78.99 564.95 76.72 565.07 77.33 565.18 76.29 565.30 75.75 565.42 76.21 565.53 79.42 565.65 82.98 565.77 84.15 565.89 85.02 566.00 87.29 566.12 91.04 566.24 93.17 566.35 94.41 566.47 94.77 566.59 96.05 566.70 97.51 566.82 98.16 566.94 98.61 567.05 97.72 567.17 96.39 567.29 94.77 567.40 93.13 567.52 90.67 567.64 87.68 567.76 84.49 567.87 82.25 567.99 79.38 568.11 75.78 568.22 71.45 568.34 67.62 568.46 63.70 568.57 60.13 568.69 56.09 568.81 52.03 568.92 47.95 569.04 43.95 569.16 40.23 569.27 36.48 569.39 33.77 569.51 31.58 569.63 30.20 569.74 28.69 569.86 27.21 569.98 26.07 570.09 25.79 570.21 27.65 570.33 28.25 570.44 28.72 570.56 30.11 570.68 31.49 570.79 33.54 570.91 36.75 571.03 39.49 571.15 42.73 571.26 45.89 571.38 50.30 571.50 53.48 571.61 56.95 571.73 60.33 571.85 64.75 571.96 69.11 572.08 73.96 572.20 78.34 572.31 82.45 572.43 86.34 572.55 90.60 572.66 94.87 572.78 99.82 572.90 104.99 573.02 109.87 573.13 114.16 573.25 118.54 573.37 123.13 573.48 127.58 573.60 132.43 573.72 137.36 573.83 142.51 573.95 147.17 574.07 152.29 574.18 157.40 574.30 162.08 574.42 166.01 574.53 168.20 574.65 169.21 574.77 168.91 574.89 167.17 575.00 164.53 575.12 160.07 575.24 154.41 575.35 147.40 575.47 139.39 575.59 131.42 575.70 122.66 575.82 115.37 575.94 109.33 576.05 104.05 576.17 99.15 576.29 93.81 576.40 89.70 576.52 86.86 576.64 84.80 576.76 83.45 576.87 82.30 576.99 81.05 577.11 80.30 577.22 78.58 577.34 77.90 577.46 78.36 577.57 79.61 577.69 82.91 577.81 87.00 577.92 89.64 578.04 89.15 578.16 88.90 578.27 91.53 578.39 94.28 578.51 95.56 578.63 96.62 578.74 97.23 578.86 98.72 578.98 98.08 579.09 98.46 579.21 96.66 579.33 96.65 579.44 95.13 579.56 94.62 579.68 91.45 579.79 88.78 579.91 85.08 580.03 82.30 580.15 79.47 580.26 76.60 580.38 73.54 580.50 69.92 580.61 65.99 580.73 61.51 580.85 57.06 580.96 53.05 581.08 49.68 581.20 46.04 581.31 42.91 581.43 39.39 581.55 36.35 581.66 33.60 581.78 31.65 581.90 30.27 582.02 28.66 582.13 27.65 582.25 27.41 582.37 25.44 582.48 26.07 582.60 26.06 582.72 27.24 582.83 29.10 582.95 31.59 583.07 33.86 583.18 36.12 583.30 39.44 583.42 43.02 583.53 46.70 583.65 50.15 583.77 54.14 583.89 57.75 584.00 62.46 584.12 66.55 584.24 71.75 584.35 76.76 584.47 82.19 584.59 87.31 584.70 91.82 584.82 95.62 584.94 99.79 585.05 103.59 585.17 108.71 585.29 112.96 585.40 117.86 585.52 121.66 585.64 125.99 585.76 129.96 585.87 134.33 585.99 137.53 586.11 141.08 586.22 144.47 586.34 149.14 586.46 152.97 586.57 156.26 586.69 158.84 586.81 159.43 586.92 159.20 587.04 156.75 587.16 154.20 587.27 150.17 587.39 145.22 587.51 138.69 587.63 131.92 587.74 124.45 587.86 118.55 587.98 112.85 588.09 106.73 588.21 101.83 588.33 97.12 588.44 93.71 588.56 89.27 588.68 87.22 588.79 85.91 588.91 85.14 589.03 83.23 589.14 82.82 589.26 81.82 589.38 81.94 589.50 81.66 589.61 84.65 589.73 85.34 589.85 88.02 589.96 87.10 590.08 88.18 590.20 88.73 590.31 90.76 590.43 92.58 590.55 93.81 590.66 95.04 590.78 96.36 590.90 97.50 591.02 98.75 591.13 98.48 591.25 98.38 591.37 97.83 591.48 97.37 591.60 96.19 591.72 94.41 591.83 92.10 591.95 89.00 592.07 85.76 592.18 83.32 592.30 80.30 592.42 77.05 592.53 72.89 592.65 69.48 592.77 65.99 592.89 62.26 593.00 58.26 593.12 54.21 593.24 50.17 593.35 45.69 593.47 41.58 593.59 37.74 593.70 35.18 593.82 32.26 593.94 30.27 594.05 28.30 594.17 27.13 594.29 26.28 594.40 25.41 594.52 25.31 594.64 28.89 594.76 29.65 594.87 30.99 594.99 32.95 595.11 34.62 595.22 36.53 595.34 38.77 595.46 42.01 595.57 45.29 595.69 48.42 595.81 51.71 595.92 55.03 596.04 59.27 596.16 63.12 596.27 67.40 596.39 71.80 596.51 75.90 596.63 80.35 596.74 84.61 596.86 89.24 596.98 93.74 597.09 98.76 597.21 103.36 597.33 107.43 597.44 111.38 597.56 116.49 597.68 121.05 597.79 124.91 597.91 129.19 598.03 134.46 598.14 139.33 598.26 142.97 598.38 145.95 598.50 149.58 598.61 153.44 598.73 157.09 598.85 160.14 598.96 161.95 599.08 162.49 599.20 161.35 599.31 158.35 599.43 154.10 599.55 149.08 599.66 142.94 599.78 136.86 599.90 129.85 600.01 123.27 600.13 116.96 600.25 110.55 600.37 104.31 600.48 97.78 600.60 93.98 600.72 91.46 600.83 89.77 600.95 86.96 601.07 84.72 601.18 83.73 601.30 82.33 601.42 81.47 601.53 79.90 601.65 80.55 601.77 81.09 601.89 83.20 602.00 83.56 602.12 84.58 602.24 84.86 602.35 87.65 602.47 88.65 602.59 89.60 602.70 91.78 602.82 93.88 602.94 95.80 603.05 97.30 603.17 98.18 603.29 98.63 603.40 97.73 603.52 97.81 603.64 97.66 603.76 96.87 603.87 95.01 603.99 92.24 604.11 89.66 604.22 87.05 604.34 84.15 604.46 81.56 604.57 78.15 604.69 75.12 604.81 71.71 604.92 68.09 605.04 64.67 605.16 60.07 605.27 56.12 605.39 52.44 605.51 49.34 605.63 46.21 605.74 43.04 605.86 39.46 605.98 36.75 606.09 33.67 606.21 32.54 606.33 31.03 606.44 30.06 606.56 29.33 606.68 28.83 606.79 27.03 606.91 27.08 607.03 28.82 607.14 29.67 607.26 31.11 607.38 32.96 607.50 35.79 607.61 38.82 607.73 42.17 607.85 45.61 607.96 49.43 608.08 53.04 608.20 56.63 608.31 60.69 608.43 64.54 608.55 69.38 608.66 73.83 608.78 79.11 608.90 83.34 609.01 87.65 609.13 91.21 609.25 96.37 609.37 101.45 609.48 106.42 609.60 110.77 609.72 114.96 609.83 119.36 609.95 123.50 610.07 127.99 610.18 132.49 610.30 136.19 610.42 139.46 610.53 142.77 610.65 145.57 610.77 149.85 610.88 153.35 611.00 156.69 611.12 158.33 611.24 158.46 611.35 157.29 611.47 154.29 611.59 150.77 611.70 146.00 611.82 140.38 611.94 133.87 612.05 127.58 612.17 121.48 612.29 115.85 612.40 110.14 612.52 104.04 612.64 98.63 612.76 93.75 612.87 90.26 612.99 86.74 613.11 84.95 613.22 83.75 613.34 82.41 613.46 81.03 613.57 80.25 613.69 80.65 613.81 78.74 613.92 80.98 614.04 80.45 614.16 83.73 614.27 82.43 614.39 85.15 614.51 87.28 614.63 87.27 614.74 89.19 614.86 90.83 614.98 93.40 615.09 94.42 615.21 95.67 615.33 97.23 615.44 98.69 615.56 98.59 615.68 98.86 615.79 98.73 615.91 97.66 616.03 95.43 616.14 92.46 616.26 90.46 616.38 87.52 616.50 84.95 616.61 82.29 616.73 79.29 616.85 75.29 616.96 70.90 617.08 66.66 617.20 62.89 617.31 59.29 617.43 56.03 617.55 52.06 617.66 48.13 617.78 44.36 617.90 41.63 618.01 38.48 618.13 35.96 618.25 32.89 618.37 30.69 618.48 28.41 618.60 26.67 618.72 25.91 618.83 25.28 618.95 29.71 619.07 30.10 619.18 31.17 619.30 31.55 619.42 33.63 619.53 36.04 619.65 38.96 619.77 41.32 619.88 44.48 620.00 48.20 620.12 51.95 620.24 55.28 620.35 58.96 620.47 61.95 620.59 65.56 620.70 69.82 620.82 74.66 620.94 78.83 621.05 82.04 621.17 85.99 621.29 91.35 621.40 96.43 621.52 100.91 621.64 104.97 621.76 109.50 621.87 114.22 621.99 118.40 622.11 122.63 622.22 127.06 622.34 131.34 622.46 135.80 622.57 140.33 622.69 144.53 622.81 148.76 622.92 152.26 623.04 156.54 623.16 159.18 623.27 162.14 623.39 162.62 623.51 162.28 623.63 159.85 623.74 157.11 623.86 152.65 623.98 147.32 624.09 141.17 624.21 133.85 624.33 126.10 624.44 117.85 624.56 112.27 624.68 107.34 624.79 103.38 624.91 97.63 625.03 92.14 625.14 89.05 625.26 86.14 625.38 84.76 625.50 82.60 625.61 81.99 625.73 80.16 625.85 78.58 625.96 78.14 626.08 79.18 626.20 80.55 626.31 81.54 626.43 83.33 626.55 83.14 626.66 85.24 626.78 84.92 626.90 88.46 627.01 88.90 627.13 92.15 627.25 93.47 627.37 95.57 627.48 96.02 627.60 96.70 627.72 97.68 627.83 97.54 627.95 97.12 628.07 96.60 628.18 95.91 628.30 93.56 628.42 90.70 628.53 87.65 628.65 84.59 628.77 81.83 628.88 78.90 629.00 76.53 629.12 73.04 629.24 69.58 629.35 66.27 629.47 62.62 629.59 59.06 629.70 54.61 629.82 51.16 629.94 48.04 630.05 44.87 630.17 41.92 630.29 38.70 630.40 36.24 630.52 34.13 630.64 32.57 630.75 31.78 630.87 31.48 630.99 31.40 631.11 25.73 631.22 25.30 631.34 26.09 631.46 26.86 631.57 28.67 631.69 30.19 631.81 32.80 631.92 35.80 632.04 39.17 632.16 42.04 632.27 45.67 632.39 49.67 632.51 54.35 632.63 58.84 632.74 63.84 632.86 68.33 632.98 72.79 633.09 77.04 633.21 81.09 633.33 85.71 633.44 90.05 633.56 95.30 633.68 99.37 633.79 104.10 633.91 107.95 634.03 112.91 634.14 117.08 634.26 121.81 634.38 126.24 634.50 130.63 634.61 135.31 634.73 139.82 634.85 144.60 634.96 148.77 635.08 152.16 635.20 156.18 635.31 159.77 635.43 163.49 635.55 164.86 635.66 165.51 635.78 163.84 635.90 160.79 636.01 156.14 636.13 150.43 636.25 143.65 636.37 136.44 636.48 129.40 636.60 123.22 636.72 116.38 636.83 108.80 636.95 102.26 637.07 96.98 637.18 92.98 637.30 88.90 637.42 85.27 637.53 83.54 637.65 82.73 637.77 82.93 637.88 81.89 638.00 80.53 638.12 78.08 638.24 77.07 638.35 77.50 638.47 78.15 638.59 80.66 638.70 82.58 638.82 85.89 638.94 87.55 639.05 88.82 639.17 90.47 639.29 92.08 639.40 92.91 639.52 94.85 639.64 96.34 639.75 98.11 639.87 98.04 639.99 97.83 640.11 97.73 640.22 97.33 640.34 96.28 640.46 94.11 640.57 91.99 640.69 89.99 640.81 87.25 640.92 84.21 641.04 80.13 641.16 76.25 641.27 72.22 641.39 67.88 641.51 64.91 641.62 60.89 641.74 57.26 641.86 52.40 641.98 48.60 642.09 44.68 642.21 41.10 642.33 37.32 642.44 34.62 642.56 32.41 642.68 29.92 642.79 27.45 642.91 25.39 643.03 24.26 643.14 23.39 643.26 23.58 643.38 26.08 643.50 26.73 643.61 27.27 643.73 28.95 643.85 31.20 643.96 34.32 644.08 37.35 644.20 40.26 644.31 42.65 644.43 45.89 644.55 50.09 644.66 54.52 644.78 58.50 644.90 61.98 645.01 66.03 645.13 70.85 645.25 75.74 645.37 80.35 645.48 83.97 645.60 88.49 645.72 93.13 645.83 98.41 645.95 103.49 646.07 108.32 646.18 112.92 646.30 117.24 646.42 121.25 646.53 125.41 646.65 129.15 646.77 132.93 646.88 137.02 647.00 141.39 647.12 146.37 647.24 150.14 647.35 153.61 647.47 156.69 647.59 159.68 647.70 161.80 647.82 161.36 647.94 159.56 648.05 155.95 648.17 152.70 648.29 146.74 648.40 141.67 648.52 135.10 648.64 129.44 648.75 122.43 648.87 114.26 648.99 108.19 649.11 102.52 649.22 98.09 649.34 93.09 649.46 89.83 649.57 88.04 649.69 86.95 649.81 84.94 649.92 82.24 650.04 80.14 650.16 78.54 650.27 78.48 650.39 79.47 650.51 80.10 650.62 82.09 650.74 83.94 650.86 84.75 650.98 87.68 651.09 88.73 651.21 91.99 651.33 93.42 651.44 95.06 651.56 95.95 651.68 95.98 651.79 97.25 651.91 97.77 652.03 98.41 652.14 98.02 652.26 98.82 652.38 98.37 652.49 97.55 652.61 94.92 652.73 92.76 652.85 90.11 652.96 87.76 653.08 84.84 653.20 81.74 653.31 77.74 653.43 74.22 653.55 71.08 653.66 67.58 653.78 63.59 653.90 58.78 654.01 54.75 654.13 50.75 654.25 47.18 654.37 43.80 654.48 40.25 654.60 37.21 654.72 34.22 654.83 31.44 654.95 29.45 655.07 28.14 655.18 27.59 655.30 26.47 655.42 25.80 655.53 24.88 655.65 25.52 655.77 26.80 655.88 28.64 656.00 31.19 656.12 33.36 656.24 36.10 656.35 38.03 656.47 41.03 656.59 44.84 656.70 49.38 656.82 53.46 656.94 57.94 657.05 62.28 657.17 66.79 657.29 70.39 657.40 74.54 657.52 78.83 657.64 83.67 657.75 88.20 657.87 93.14 657.99 97.92 658.11 102.46 658.22 107.09 658.34 111.24 658.46 116.53 658.57 120.77 658.69 125.36 658.81 129.10 658.92 133.42 659.04 137.63 659.16 141.33 659.27 145.06 659.39 148.65 659.51 152.57 659.62 156.55 659.74 159.92 659.86 162.75 659.98 163.69 660.09 162.29 660.21 159.00 660.33 155.18 660.44 150.64 660.56 144.65 660.68 137.99 660.79 130.35 660.91 124.10 661.03 116.63 661.14 110.44 661.26 103.88 661.38 98.89 661.49 94.60 661.61 92.43 661.73 89.46 661.85 86.82 661.96 83.32 662.08 81.44 662.20 81.97 662.31 81.55 662.43 81.76 662.55 81.02 662.66 80.39 662.78 81.05 662.90 82.39 663.01 84.11 663.13 85.43 663.25 87.05 663.37 88.91 663.48 90.90 663.60 92.00 663.72 94.61 663.83 95.42 663.95 96.43 664.07 96.82 664.18 97.92 664.30 98.40 664.42 98.44 664.53 98.21 664.65 97.16 664.77 95.57 664.88 93.38 665.00 91.24 665.12 88.31 665.24 84.83 665.35 81.21 665.47 77.75 665.59 74.67 665.70 71.27 665.82 68.03 665.94 63.61 666.05 59.79 666.17 55.81 666.29 52.19 666.40 47.96 666.52 43.88 666.64 40.89 666.75 38.13 666.87 34.62 666.99 31.73 667.11 29.44 667.22 27.68 667.34 26.55 667.46 25.79 667.57 25.80 667.69 25.33 667.81 25.14 667.92 26.80 668.04 28.27 668.16 31.12 668.27 32.73 668.39 35.60 668.51 38.14 668.62 41.70 668.74 44.71 668.86 47.77 668.98 51.48 669.09 55.90 669.21 60.77 669.33 64.93 669.44 69.61 669.56 72.87 669.68 77.64 669.79 81.39 669.91 86.95 670.03 91.82 670.14 97.35 670.26 102.07 670.38 106.42 670.49 110.56 670.61 115.31 670.73 118.90 670.85 122.68 670.96 127.37 671.08 132.43 671.20 137.18 671.31 141.18 671.43 145.82 671.55 150.24 671.66 154.29 671.78 158.77 671.90 162.36 672.01 165.39 672.13 165.62 672.25 165.94 672.36 164.49 672.48 161.61 672.60 155.94 672.72 148.89 672.83 142.17 672.95 135.93 673.07 128.32 673.18 121.93 673.30 114.38" fill="none" stroke="#141414" stroke-width="1.2" stroke-linejoin="round"/>
<path d="M392.90 236.00v-3.2M392.90 7.60v3.2M406.92 236.00v-1.8M406.92 7.60v1.8M420.94 236.00v-1.8M420.94 7.60v1.8M434.96 236.00v-1.8M434.96 7.60v1.8M448.98 236.00v-1.8M448.98 7.60v1.8M463.00 236.00v-3.2M463.00 7.60v3.2M477.02 236.00v-1.8M477.02 7.60v1.8M491.04 236.00v-1.8M491.04 7.60v1.8M505.06 236.00v-1.8M505.06 7.60v1.8M519.08 236.00v-1.8M519.08 7.60v1.8M533.10 236.00v-3.2M533.10 7.60v3.2M547.12 236.00v-1.8M547.12 7.60v1.8M561.14 236.00v-1.8M561.14 7.60v1.8M575.16 236.00v-1.8M575.16 7.60v1.8M589.18 236.00v-1.8M589.18 7.60v1.8M603.20 236.00v-3.2M603.20 7.60v3.2M617.22 236.00v-1.8M617.22 7.60v1.8M631.24 236.00v-1.8M631.24 7.60v1.8M645.26 236.00v-1.8M645.26 7.60v1.8M659.28 236.00v-1.8M659.28 7.60v1.8M673.30 236.00v-3.2M673.30 7.60v3.2M392.90 236.00h3.2M673.30 236.00h-3.2M392.90 228.39h1.8M673.30 228.39h-1.8M392.90 220.77h1.8M673.30 220.77h-1.8M392.90 213.16h1.8M673.30 213.16h-1.8M392.90 205.55h1.8M673.30 205.55h-1.8M392.90 197.93h3.2M673.30 197.93h-3.2M392.90 190.32h1.8M673.30 190.32h-1.8M392.90 182.71h1.8M673.30 182.71h-1.8M392.90 175.09h1.8M673.30 175.09h-1.8M392.90 167.48h1.8M673.30 167.48h-1.8M392.90 159.87h3.2M673.30 159.87h-3.2M392.90 152.25h1.8M673.30 152.25h-1.8M392.90 144.64h1.8M673.30 144.64h-1.8M392.90 137.03h1.8M673.30 137.03h-1.8M392.90 129.41h1.8M673.30 129.41h-1.8M392.90 121.80h3.2M673.30 121.80h-3.2M392.90 114.19h1.8M673.30 114.19h-1.8M392.90 106.57h1.8M673.30 106.57h-1.8M392.90 98.96h1.8M673.30 98.96h-1.8M392.90 91.35h1.8M673.30 91.35h-1.8M392.90 83.73h3.2M673.30 83.73h-3.2M392.90 76.12h1.8M673.30 76.12h-1.8M392.90 68.51h1.8M673.30 68.51h-1.8M392.90 60.89h1.8M673.30 60.89h-1.8M392.90 53.28h1.8M673.30 53.28h-1.8M392.90 45.67h3.2M673.30 45.67h-3.2M392.90 38.05h1.8M673.30 38.05h-1.8M392.90 30.44h1.8M673.30 30.44h-1.8M392.90 22.83h1.8M673.30 22.83h-1.8M392.90 15.21h1.8M673.30 15.21h-1.8M392.90 7.60h3.2M673.30 7.60h-3.2" stroke="#333" stroke-width="1.1" fill="none"/>
<rect x="392.90" y="7.60" width="280.40" height="228.40" fill="none" stroke="#3a3a3a" stroke-width="1.4"/>
<text transform="translate(387.90 242.10) scale(1.035 1)" text-anchor="end" class="tl">-4</text>
<text transform="translate(387.90 204.03) scale(1.035 1)" text-anchor="end" class="tl">-3</text>
<text transform="translate(387.90 165.97) scale(1.035 1)" text-anchor="end" class="tl">-2</text>
<text transform="translate(387.90 127.90) scale(1.035 1)" text-anchor="end" class="tl">-1</text>
<text transform="translate(387.90 89.83) scale(1.035 1)" text-anchor="end" class="tl">0</text>
<text transform="translate(387.90 51.77) scale(1.035 1)" text-anchor="end" class="tl">1</text>
<text transform="translate(387.90 13.70) scale(1.035 1)" text-anchor="end" class="tl">2</text>
<text transform="translate(393.30 256.90) scale(1.035 1)" text-anchor="middle" class="tl">0</text>
<text transform="translate(463.40 256.90) scale(1.035 1)" text-anchor="middle" class="tl">0.5</text>
<text transform="translate(533.50 256.90) scale(1.035 1)" text-anchor="middle" class="tl">1</text>
<text transform="translate(603.60 256.90) scale(1.035 1)" text-anchor="middle" class="tl">1.5</text>
<text transform="translate(673.70 256.90) scale(1.035 1)" text-anchor="middle" class="tl">2</text>
<text transform="translate(534.00 279.90) scale(1.045 1)" text-anchor="middle" class="al">Time [<tspan font-style="italic" font-family="'Liberation Serif', serif">μ</tspan>s]</text>
<text transform="translate(394.80 23.40) scale(1.05 1)" class="pl">(b)</text>
<path d="M96.22 297.50V460.00M111.26 297.50V460.00M121.93 297.50V460.00M130.21 297.50V460.00M136.98 297.50V460.00M142.69 297.50V460.00M147.65 297.50V460.00M152.02 297.50V460.00M155.93 297.50V460.00M181.64 297.50V460.00M196.69 297.50V460.00M207.36 297.50V460.00M215.64 297.50V460.00M222.40 297.50V460.00M228.12 297.50V460.00M233.08 297.50V460.00M237.45 297.50V460.00M241.36 297.50V460.00M267.07 297.50V460.00M282.12 297.50V460.00M292.79 297.50V460.00M301.07 297.50V460.00M307.83 297.50V460.00M313.55 297.50V460.00M318.50 297.50V460.00M322.87 297.50V460.00M326.78 297.50V460.00M70.50 447.77H352.50M70.50 440.62H352.50M70.50 435.54H352.50M70.50 431.60H352.50M70.50 428.39H352.50M70.50 425.67H352.50M70.50 423.31H352.50M70.50 421.23H352.50M70.50 419.38H352.50M70.50 407.15H352.50M70.50 399.99H352.50M70.50 394.92H352.50M70.50 390.98H352.50M70.50 387.76H352.50M70.50 385.04H352.50M70.50 382.69H352.50M70.50 380.61H352.50M70.50 378.75H352.50M70.50 366.52H352.50M70.50 359.37H352.50M70.50 354.29H352.50M70.50 350.35H352.50M70.50 347.14H352.50M70.50 344.42H352.50M70.50 342.06H352.50M70.50 339.98H352.50M70.50 338.12H352.50M70.50 325.90H352.50M70.50 318.74H352.50M70.50 313.67H352.50M70.50 309.73H352.50M70.50 306.51H352.50M70.50 303.79H352.50M70.50 301.44H352.50M70.50 299.36H352.50" stroke="#c8c8c8" stroke-width="0.6" stroke-dasharray="1 2" fill="none"/>
<path d="M70.50 460.00v-3.2M70.50 297.50v3.2M96.22 460.00v-1.8M96.22 297.50v1.8M111.26 460.00v-1.8M111.26 297.50v1.8M121.93 460.00v-1.8M121.93 297.50v1.8M130.21 460.00v-1.8M130.21 297.50v1.8M136.98 460.00v-1.8M136.98 297.50v1.8M142.69 460.00v-1.8M142.69 297.50v1.8M147.65 460.00v-1.8M147.65 297.50v1.8M152.02 460.00v-1.8M152.02 297.50v1.8M155.93 460.00v-3.2M155.93 297.50v3.2M181.64 460.00v-1.8M181.64 297.50v1.8M196.69 460.00v-1.8M196.69 297.50v1.8M207.36 460.00v-1.8M207.36 297.50v1.8M215.64 460.00v-1.8M215.64 297.50v1.8M222.40 460.00v-1.8M222.40 297.50v1.8M228.12 460.00v-1.8M228.12 297.50v1.8M233.08 460.00v-1.8M233.08 297.50v1.8M237.45 460.00v-1.8M237.45 297.50v1.8M241.36 460.00v-3.2M241.36 297.50v3.2M267.07 460.00v-1.8M267.07 297.50v1.8M282.12 460.00v-1.8M282.12 297.50v1.8M292.79 460.00v-1.8M292.79 297.50v1.8M301.07 460.00v-1.8M301.07 297.50v1.8M307.83 460.00v-1.8M307.83 297.50v1.8M313.55 460.00v-1.8M313.55 297.50v1.8M318.50 460.00v-1.8M318.50 297.50v1.8M322.87 460.00v-1.8M322.87 297.50v1.8M326.78 460.00v-3.2M326.78 297.50v3.2M352.50 460.00v-1.8M352.50 297.50v1.8M70.50 460.00h3.2M352.50 460.00h-3.2M70.50 447.77h1.8M352.50 447.77h-1.8M70.50 440.62h1.8M352.50 440.62h-1.8M70.50 435.54h1.8M352.50 435.54h-1.8M70.50 431.60h1.8M352.50 431.60h-1.8M70.50 428.39h1.8M352.50 428.39h-1.8M70.50 425.67h1.8M352.50 425.67h-1.8M70.50 423.31h1.8M352.50 423.31h-1.8M70.50 421.23h1.8M352.50 421.23h-1.8M70.50 419.38h3.2M352.50 419.38h-3.2M70.50 407.15h1.8M352.50 407.15h-1.8M70.50 399.99h1.8M352.50 399.99h-1.8M70.50 394.92h1.8M352.50 394.92h-1.8M70.50 390.98h1.8M352.50 390.98h-1.8M70.50 387.76h1.8M352.50 387.76h-1.8M70.50 385.04h1.8M352.50 385.04h-1.8M70.50 382.69h1.8M352.50 382.69h-1.8M70.50 380.61h1.8M352.50 380.61h-1.8M70.50 378.75h3.2M352.50 378.75h-3.2M70.50 366.52h1.8M352.50 366.52h-1.8M70.50 359.37h1.8M352.50 359.37h-1.8M70.50 354.29h1.8M352.50 354.29h-1.8M70.50 350.35h1.8M352.50 350.35h-1.8M70.50 347.14h1.8M352.50 347.14h-1.8M70.50 344.42h1.8M352.50 344.42h-1.8M70.50 342.06h1.8M352.50 342.06h-1.8M70.50 339.98h1.8M352.50 339.98h-1.8M70.50 338.12h3.2M352.50 338.12h-3.2M70.50 325.90h1.8M352.50 325.90h-1.8M70.50 318.74h1.8M352.50 318.74h-1.8M70.50 313.67h1.8M352.50 313.67h-1.8M70.50 309.73h1.8M352.50 309.73h-1.8M70.50 306.51h1.8M352.50 306.51h-1.8M70.50 303.79h1.8M352.50 303.79h-1.8M70.50 301.44h1.8M352.50 301.44h-1.8M70.50 299.36h1.8M352.50 299.36h-1.8M70.50 297.50h3.2M352.50 297.50h-3.2" stroke="#333" stroke-width="1" fill="none"/>
<path d="M70.50 297.50H352.50V460.00" stroke="#9a9a9a" stroke-width="1.3" fill="none"/>
<path d="M70.50 297.50V460.00H352.50" stroke="#505050" stroke-width="1.3" fill="none"/>
<path d="M193.46 315.35L348.80 389.22" stroke="#555" stroke-width="1.2" stroke-dasharray="7.2 4.4" fill="none"/>
<path d="M70.5 296.5h0M74.5 298h0M78 297h0M81.5 297.5h0M84.5 298h0M87.5 298.5h0M90 298.5h0M92.5 298h0M95 298.5h0M97 298.5h0M99 299h0M101 298.5h0M103 299h0M104.5 299h0M106.5 299.5h0M108 299.5h0M109.5 299.5h0M111 299.5h0M112.5 299.5h0M113.5 299.5h0M115 299.5h0M116.5 299.5h0M117.5 300h0M118.5 300h0M120 300h0M121 300h0M122 300.5h0M123 300.5h0M124 300.5h0M125 300.5h0M126 300.5h0M127 301h0M128 301h0M129 301h0M130 301h0M130.5 301.5h0M131.5 301.5h0M132.5 301.5h0M133 301.5h0M134 302h0M134.5 302h0M135.5 302h0M136 302h0M137 302h0M137.5 302.5h0M138.5 302.5h0M139 302.5h0M139.5 303h0M140.5 303h0M141 303h0M141.5 303h0M142 303.5h0M143 303.5h0M143.5 303.5h0M144 304h0M144.5 304h0M145 304h0M146 304.5h0M146.5 304.5h0M147 304.5h0M147.5 304.5h0M148 305h0M148.5 305h0M149 305.5h0M149.5 305.5h0M150 305.5h0M150.5 305.5h0M151 306h0M151.5 306h0M152 306.5h0M152.5 306.5h0M153 306.5h0M153.5 307h0M154 307h0M154.5 307.5h0M155 307.5h0M155.5 308h0M156 308h0M156.5 308.5h0M157 308.5h0M157.5 308.5h0M158 309h0M158.5 309.5h0M159 309.5h0M159.5 310h0M160 310h0M160 310.5h0M160.5 310.5h0M161 311h0M161.5 311h0M161.5 311.5h0M162 311.5h0M162.5 312h0M163 312h0M163 312.5h0M163.5 312.5h0M164 313h0M164 313.5h0M164.5 313.5h0M165 314h0M165.5 314.5h0M166 314.5h0M166 315h0M166.5 315.5h0M167 315.5h0M167 316h0M167.5 316.5h0M168 316.5h0M168 317h0M168.5 317.5h0M168.5 318h0M169 318h0M169.5 318.5h0M169.5 319h0M170 319.5h0M170.5 320h0M171 320.5h0M171 321h0M171.5 321.5h0M171.5 322h0M172 322.5h0M172.5 323h0M172.5 323.5h0M173 324h0M173.5 324.5h0M173.5 325h0M174 326h0M174 326.5h0M174.5 327h0M174.5 327.5h0M175 328h0M175 328.5h0M175.5 329h0M175.5 330h0M176 330.5h0M176 331h0M176.5 332h0M176.5 332.5h0M177 333.5h0M177 334h0M177.5 335h0M177.5 336h0M178 336.5h0M178 337.5h0M178.5 338.5h0M178.5 339.5h0M179 340.5h0M179 341.5h0M179 343h0M179.5 344h0M179.5 346h0M180 347h0M180 348h0M180.5 350h0M180.5 351h0M181 353.5h0M181 356.5h0M181.5 358h0M181.5 362.5h0M181.5 365h0M182 364.5h0M182 366h0M182.5 367h0M182.5 378.5h0M182.5 374.5h0M183 371.5h0M183 367.5h0M183.5 363h0M183.5 362.5h0M184 361h0M184 359h0M184 355.5h0M184.5 353.5h0M184.5 352.5h0M185 350.5h0M185 350h0M185 348h0M185.5 347.5h0M185.5 346.5h0M186 345.5h0M186 344.5h0M186 343.5h0M186.5 343h0M186.5 342h0M186.5 341.5h0M187 340.5h0M187 340h0M187.5 339.5h0M187.5 339h0M187.5 338h0M188 338h0M188 337h0M188 336.5h0M188.5 336h0M188.5 335.5h0M189 335h0M189 334.5h0M189.5 334h0M189.5 333.5h0M190 333.5h0M190 333h0M190.5 332.5h0M190.5 332h0M191 332h0M191 331.5h0M191.5 331h0M191.5 330.5h0M192 330.5h0M192 330h0M192.5 330h0M193 329.5h0M193.5 329h0M194 329h0M194.5 328.5h0M195 328.5h0M195.5 328.5h0M196 328.5h0M196.5 328.5h0M197 328.5h0M197.5 329h0M198 329h0M198 329.5h0M198.5 329.5h0M199 329.5h0M199 330h0M199.5 330h0M199.5 330.5h0M200 331h0M200 331.5h0M200.5 331.5h0M200.5 332h0M201 332h0M201 332.5h0M201.5 333h0M201.5 333.5h0M202 334h0M202 334.5h0M202.5 335h0M202.5 335.5h0M202.5 336h0M203 336h0M203 336.5h0M203 337h0M203 337.5h0M203.5 338h0M203.5 338.5h0M203.5 339h0M204 339.5h0M204 340h0M204 341h0M204.5 341.5h0M204.5 342.5h0M205 343.5h0M205 344.5h0M205 345h0M205 346h0M205.5 346h0M205.5 347h0M205.5 347.5h0M205.5 348h0M206 349.5h0M206 350h0M206 351h0M206 351.5h0M206 352.5h0M206.5 353.5h0M206.5 354.5h0M206.5 355h0M206.5 357h0M207 357.5h0M207 359h0M207 360.5h0M207 362h0M207 363h0M207.5 364.5h0M207.5 366.5h0M207.5 368.5h0M207.5 372h0M208 375.5h0M208 377h0M208 376h0M208 383h0M208 391.5h0M208.5 391.5h0M208.5 386.5h0M208.5 378h0M208.5 380h0M208.5 379.5h0M209 372.5h0M209 373h0M209 370.5h0M209 368h0M209 366.5h0M209.5 364h0M209.5 362.5h0M209.5 361h0M209.5 360h0M209.5 358.5h0M210 357.5h0M210 356.5h0M210 355h0M210 354h0M210.5 353.5h0M210.5 352.5h0M210.5 351.5h0M210.5 351h0M210.5 350.5h0M211 350h0M211 349.5h0M211 349h0M211 348h0M211 347.5h0M211.5 347h0M211.5 346.5h0M211.5 346h0M211.5 345.5h0M212 345h0M212 344.5h0M212 344h0M212 343.5h0M212.5 343.5h0M212.5 343h0M212.5 342.5h0M212.5 342h0M213 341.5h0M213 341h0M213.5 340.5h0M213.5 340h0M213.5 339.5h0M214 339.5h0M214 339h0M214.5 339h0M214.5 338.5h0M215 338.5h0M215 338h0M215.5 338h0M216 338h0M216.5 338h0M217 338h0M217 338.5h0M217.5 338.5h0M217.5 339h0M218 339h0M218 339.5h0M218 340h0M218.5 340h0M218.5 340.5h0M218.5 341h0M219 341.5h0M219 342h0M219 342.5h0M219.5 342.5h0M219.5 343h0M219.5 343.5h0M219.5 344h0M220 344.5h0M220 345h0M220 345.5h0M220 346h0M220 346.5h0M220.5 346.5h0M220.5 347h0M220.5 347.5h0M220.5 348h0M220.5 348.5h0M220.5 349h0M221 350h0M221 350.5h0M221 351h0M221 352h0M221 352.5h0M221.5 353h0M221.5 353.5h0M221.5 354h0M221.5 355h0M221.5 356h0M221.5 357h0M222 358h0M222 358.5h0M222 359.5h0M222 360.5h0M222 361.5h0M222 362.5h0M222 363h0M222.5 364h0M222.5 365.5h0M222.5 367h0M222.5 368h0M222.5 369h0M222.5 371h0M222.5 372.5h0M223 375.5h0M223 377h0M223 382h0M223 381h0M223 382.5h0M223 384.5h0M223 387.5h0M223.5 389h0M223.5 403h0M223.5 394h0M223.5 387.5h0M223.5 389.5h0M223.5 380h0M223.5 379.5h0M224 378.5h0M224 377h0M224 374h0M224 371.5h0M224 371h0M224 369.5h0M224 368h0M224 367h0M224.5 365h0M224.5 364.5h0M224.5 363.5h0M224.5 362.5h0M224.5 362h0M224.5 361h0M224.5 359.5h0M225 359h0M225 358.5h0M225 358h0M225 357h0M225 356.5h0M225 356h0M225 355.5h0M225.5 354.5h0M225.5 354h0M225.5 353.5h0M225.5 353h0M225.5 352.5h0M225.5 352h0M225.5 351.5h0M226 351.5h0M226 351h0M226 350.5h0M226 350h0M226 349.5h0M226 349h0M226.5 348.5h0M226.5 348h0M226.5 347.5h0M226.5 347h0M227 347h0M227 346.5h0M227 346h0M227 345.5h0M227.5 345.5h0M227.5 345h0M227.5 344.5h0M228 344.5h0M228 344h0M228.5 344h0M229 344h0M229.5 344h0M229.5 344.5h0M230 344.5h0M230 345h0M230 345.5h0M230.5 346h0M230.5 346.5h0M230.5 347h0M231 347.5h0M231 348h0M231 348.5h0M231 349h0M231.5 349.5h0M231.5 350h0M231.5 350.5h0M231.5 351h0M231.5 351.5h0M231.5 352h0M232 352.5h0M232 353h0M232 353.5h0M232 354h0M232 355h0M232 356h0M232.5 356h0M232.5 357h0M232.5 357.5h0M232.5 358h0M232.5 358.5h0M232.5 359h0M232.5 359.5h0M232.5 360h0M232.5 361h0M233 362h0M233 362.5h0M233 363.5h0M233 364h0M233 365h0M233 366h0M233 366.5h0M233 367.5h0M233 369h0M233 370h0M233.5 370.5h0M233.5 372.5h0M233.5 374h0M233.5 375.5h0M233.5 377h0M233.5 378.5h0M233.5 380h0M233.5 383.5h0M233.5 386.5h0M234 390h0M234 395h0M234 392h0M234 402h0M234 410h0M234 402.5h0M234 394h0M234 388h0M234.5 384.5h0M234.5 383h0M234.5 380.5h0M234.5 377.5h0M234.5 375.5h0M234.5 374h0M234.5 373h0M234.5 370.5h0M235 370h0M235 369h0M235 368.5h0M235 367.5h0M235 366h0M235 365h0M235 364h0M235 363.5h0M235 362.5h0M235.5 362h0M235.5 361.5h0M235.5 360.5h0M235.5 360h0M235.5 359.5h0M235.5 359h0M235.5 358.5h0M235.5 358h0M235.5 357.5h0M235.5 357h0M236 357h0M236 356.5h0M236 356h0M236 355.5h0M236 355h0M236 354.5h0M236 354h0M236 353.5h0M236.5 353h0M236.5 352.5h0M236.5 352h0M236.5 351.5h0M236.5 351h0M237 351h0M237 350.5h0M237 350h0M237 349.5h0M237.5 349.5h0M237.5 349h0M237.5 348.5h0M238 348.5h0M238.5 348.5h0M239 349h0M239 349.5h0M239.5 350h0M239.5 350.5h0M239.5 351h0M239.5 351.5h0M240 351.5h0M240 352h0M240 352.5h0M240 353h0M240 353.5h0M240 354h0M240 354.5h0M240.5 355h0M240.5 355.5h0M240.5 356h0M240.5 356.5h0M240.5 357h0M240.5 358h0M240.5 358.5h0M241 359h0M241 359.5h0M241 360h0M241 360.5h0M241 361h0M241 361.5h0M241 362h0M241 362.5h0M241 363.5h0M241 364h0M241 364.5h0M241.5 365h0M241.5 365.5h0M241.5 366.5h0M241.5 367.5h0M241.5 368h0M241.5 369h0M241.5 370h0M241.5 371h0M241.5 372h0M241.5 373.5h0M241.5 374.5h0M241.5 375h0M242 377.5h0M242 379h0M242 380.5h0M242 382.5h0M242 384.5h0M242 388.5h0M242 392.5h0M242 393.5h0M242 396h0M242 394.5h0M242 405h0M242.5 401.5h0M242.5 399.5h0M242.5 401h0M242.5 395.5h0M242.5 393h0M242.5 392.5h0M242.5 389h0M242.5 386h0M242.5 383.5h0M242.5 381h0M242.5 380.5h0M242.5 378.5h0M243 376.5h0M243 376h0M243 374.5h0M243 374h0M243 372.5h0M243 372h0M243 371h0M243 369.5h0M243 369h0M243 368h0M243 367.5h0M243 367h0M243.5 366.5h0M243.5 365.5h0M243.5 365h0M243.5 364.5h0M243.5 364h0M243.5 363.5h0M243.5 363h0M243.5 362.5h0M243.5 361.5h0M243.5 361h0M243.5 360.5h0M244 360h0M244 359.5h0M244 359h0M244 358.5h0M244 358h0M244 357.5h0M244 357h0M244 356.5h0M244 356h0M244.5 356h0M244.5 355.5h0M244.5 355h0M244.5 354.5h0M244.5 354h0M244.5 353.5h0M245 353.5h0M245 353h0M245 352.5h0M245.5 352h0M246 352h0M246 352.5h0M246.5 352.5h0M246.5 353h0M246.5 353.5h0M246.5 354h0M247 354h0M247 354.5h0M247 355h0M247 355.5h0M247 356h0M247 356.5h0M247 357h0M247.5 357h0M247.5 357.5h0M247.5 358h0M247.5 358.5h0M247.5 359h0M247.5 359.5h0M247.5 360h0M247.5 360.5h0M247.5 361h0M247.5 361.5h0M248 362h0M248 362.5h0M248 363h0M248 363.5h0M248 364h0M248 364.5h0M248 365h0M248 365.5h0M248 366h0M248 366.5h0M248 367.5h0M248 368h0M248 368.5h0M248 369.5h0M248.5 370.5h0M248.5 371h0M248.5 371.5h0M248.5 372.5h0M248.5 373.5h0M248.5 375h0M248.5 375.5h0M248.5 376.5h0M248.5 378h0M248.5 379h0M248.5 380.5h0M248.5 381.5h0M248.5 384h0M248.5 385.5h0M249 388h0M249 388.5h0M249 389.5h0M249 394.5h0M249 399h0M249 400h0M249 411.5h0M249 409.5h0M249 403h0M249 401.5h0M249 399.5h0M249 396.5h0M249 391h0M249.5 391h0M249.5 388h0M249.5 387h0M249.5 385h0M249.5 383h0M249.5 382h0M249.5 380.5h0M249.5 378.5h0M249.5 377h0M249.5 376h0M249.5 374.5h0M249.5 373.5h0M249.5 373h0M250 371h0M250 370.5h0M250 370h0M250 369.5h0M250 368h0M250 367.5h0M250 367h0M250 366.5h0M250 365.5h0M250 365h0M250 364.5h0M250 364h0M250.5 363.5h0M250.5 363h0M250.5 362h0M250.5 361.5h0M250.5 361h0M250.5 360.5h0M250.5 360h0M250.5 359.5h0M250.5 359h0M251 358.5h0M251 358h0M251 357.5h0M251 357h0M251 356.5h0M251 356h0M251.5 356h0M251.5 355.5h0M251.5 355h0M252 355h0M252.5 355h0M252.5 355.5h0M252.5 356h0M252.5 356.5h0M253 357h0M253 357.5h0M253 358h0M253 358.5h0M253 359h0M253 359.5h0M253 360h0M253.5 360.5h0M253.5 361h0M253.5 361.5h0M253.5 362h0M253.5 362.5h0M253.5 363h0M253.5 364h0M253.5 364.5h0M253.5 365.5h0M253.5 366h0M254 366.5h0M254 367h0M254 368h0M254 368.5h0M254 369h0M254 370h0M254 370.5h0M254 371h0M254 371.5h0M254 372.5h0M254 373h0M254 374h0M254 374.5h0M254 376h0M254 376.5h0M254.5 378h0M254.5 379.5h0M254.5 382h0M254.5 384h0M254.5 385.5h0M254.5 386h0M254.5 391.5h0M254.5 394h0M254.5 395h0M254.5 406h0M254.5 403h0M254.5 405h0M255 405h0M255 403.5h0M255 405.5h0M255 397.5h0M255 398.5h0M255 395.5h0M255 391.5h0M255 390.5h0M255 390h0M255 387.5h0M255 383h0M255 382.5h0M255 381.5h0M255 379.5h0M255 379h0M255 378h0M255.5 377h0M255.5 375.5h0M255.5 374.5h0M255.5 373h0M255.5 372.5h0M255.5 371.5h0M255.5 371h0M255.5 370h0M255.5 368.5h0M255.5 368h0M255.5 367.5h0M255.5 366.5h0M256 366.5h0M256 365.5h0M256 365h0M256 364.5h0M256 364h0M256 363.5h0M256 363h0M256 362.5h0M256 362h0M256 361.5h0M256 361h0M256.5 361h0M256.5 360.5h0M256.5 360h0M256.5 359.5h0M256.5 359h0M256.5 358.5h0M257 358.5h0M257 358h0M257 357.5h0M257.5 357.5h0M257.5 358h0M257.5 358.5h0M258 358.5h0M258 359h0M258 359.5h0M258 360h0M258 360.5h0M258 361h0M258.5 361h0M258.5 362h0M258.5 362.5h0M258.5 363h0M258.5 364h0M258.5 364.5h0M258.5 365h0M258.5 365.5h0M258.5 366h0M258.5 366.5h0M258.5 367h0M259 367.5h0M259 368h0M259 368.5h0M259 369.5h0M259 370.5h0M259 371h0M259 371.5h0M259 373h0M259 374h0M259 376h0M259 377.5h0M259.5 380.5h0M259.5 381h0M259.5 381.5h0M259.5 384h0M259.5 386h0M259.5 387h0M259.5 390h0M259.5 392h0M259.5 396.5h0M259.5 401h0M259.5 401.5h0M259.5 408.5h0M259.5 417h0M259.5 425h0M260 412h0M260 405h0M260 400h0M260 396.5h0M260 397.5h0M260 395h0M260 393.5h0M260 390.5h0M260 387.5h0M260 384.5h0M260 383h0M260 381h0M260 379.5h0M260 378.5h0M260 377h0M260.5 375.5h0M260.5 374.5h0M260.5 373.5h0M260.5 373h0M260.5 372.5h0M260.5 372h0M260.5 371h0M260.5 370.5h0M260.5 370h0M260.5 369.5h0M260.5 369h0M260.5 368.5h0M260.5 368h0M260.5 367.5h0M260.5 367h0M260.5 366.5h0M261 366h0M261 365.5h0M261 365h0M261 364.5h0M261 364h0M261 363.5h0M261 363h0M261 362.5h0M261 362h0M261 361.5h0M261.5 361.5h0M261.5 361h0M261.5 360.5h0M261.5 360h0M261.5 359.5h0M262 359.5h0M262 360h0M262.5 360h0M262.5 360.5h0M262.5 361h0M262.5 361.5h0M262.5 362h0M262.5 362.5h0M262.5 363h0M263 363h0M263 363.5h0M263 364h0M263 364.5h0M263 365h0M263 365.5h0M263 366h0M263 366.5h0M263 367.5h0M263 369h0M263 369.5h0M263.5 370h0M263.5 372h0M263.5 373h0M263.5 373.5h0M263.5 374h0M263.5 376.5h0M263.5 377.5h0M263.5 378h0M263.5 379h0M263.5 380h0M263.5 381h0M263.5 381.5h0M264 386h0M264 398h0M264 399.5h0M264 404.5h0M264 414.5h0M264 423.5h0M264 417h0M264 405h0M264 400.5h0M264.5 394.5h0M264.5 392h0M264.5 388h0M264.5 387h0M264.5 385h0M264.5 382.5h0M264.5 381.5h0M264.5 379h0M264.5 378h0M264.5 377h0M264.5 376.5h0M264.5 376h0M264.5 375h0M265 373.5h0M265 373h0M265 372h0M265 371.5h0M265 370.5h0M265 369.5h0M265 369h0M265 368.5h0M265 368h0M265 367.5h0M265 367h0M265 366.5h0M265 366h0M265 365.5h0M265.5 365h0M265.5 364.5h0M265.5 364h0M265.5 363.5h0M265.5 363h0M265.5 362.5h0M265.5 362h0M266 362h0M266 361.5h0M266.5 362h0M266.5 362.5h0M266.5 363h0M266.5 364h0M267 364.5h0M267 365h0M267 365.5h0M267 366h0M267 366.5h0M267 367h0M267 367.5h0M267 368.5h0M267 370h0M267 370.5h0M267.5 372h0M267.5 373.5h0M267.5 374h0M267.5 375h0M267.5 376h0M267.5 376.5h0M267.5 378.5h0M267.5 380.5h0M267.5 382h0M267.5 383h0M267.5 384h0M267.5 384.5h0M267.5 386.5h0M267.5 387.5h0M267.5 388.5h0M268 391h0M268 395.5h0M268 402.5h0M268 410.5h0M268 406h0M268 416.5h0M268 411h0M268 409h0M268 405h0M268 400h0M268 396.5h0M268 390h0M268.5 388h0M268.5 385h0M268.5 384h0M268.5 382.5h0M268.5 381.5h0M268.5 381h0M268.5 380h0M268.5 378.5h0M268.5 377.5h0M268.5 377h0M268.5 376.5h0M268.5 374h0M268.5 373.5h0M268.5 373h0M268.5 371.5h0M269 371.5h0M269 371h0M269 369.5h0M269 369h0M269 368.5h0M269 368h0M269 367h0M269 366.5h0M269 366h0M269 365.5h0M269.5 365h0M269.5 364.5h0M269.5 364h0M269.5 363.5h0M270 363.5h0M270 364h0M270 364.5h0M270.5 365h0M270.5 365.5h0M270.5 366.5h0M270.5 367.5h0M270.5 368.5h0M270.5 369h0M270.5 369.5h0M270.5 370h0M270.5 371h0M271 372h0M271 372.5h0M271 374h0M271 374.5h0M271 375h0M271 375.5h0M271 377h0M271 378.5h0M271 383h0M271 384.5h0M271.5 391.5h0M271.5 396.5h0M271.5 399.5h0M271.5 408h0M271.5 413.5h0M271.5 423h0M271.5 414.5h0M271.5 406h0M271.5 402.5h0M271.5 400.5h0M271.5 398h0M271.5 393h0M271.5 391h0M272 387.5h0M272 386.5h0M272 386h0M272 383.5h0M272 382.5h0M272 380.5h0M272 380h0M272 378.5h0M272 377.5h0M272 377h0M272 376h0M272 375h0M272 374h0M272 373.5h0M272 373h0M272.5 372.5h0M272.5 372h0M272.5 371h0M272.5 370h0M272.5 369.5h0M272.5 369h0M272.5 368.5h0M272.5 368h0M272.5 367.5h0M272.5 367h0M272.5 366.5h0M273 366h0M273 365.5h0M273 365h0M273.5 365h0M273.5 365.5h0M273.5 366h0M273.5 366.5h0M273.5 367h0M273.5 367.5h0M273.5 368h0M274 368.5h0M274 369h0M274 369.5h0M274 370h0M274 370.5h0M274 371h0M274 372.5h0M274 373h0M274 373.5h0M274 374h0M274 375h0M274 375.5h0M274 377h0M274 377.5h0M274.5 379h0M274.5 379.5h0M274.5 381h0M274.5 382h0M274.5 384h0M274.5 384.5h0M274.5 385.5h0M274.5 386.5h0M274.5 387h0M274.5 388.5h0M274.5 390h0M274.5 392.5h0M274.5 394h0M274.5 400h0M274.5 407h0M274.5 411h0M274.5 409h0M275 419h0M275 418h0M275 413h0M275 414.5h0M275 407.5h0M275 404.5h0M275 401h0M275 397.5h0M275 396.5h0M275 394h0M275 393h0M275 390.5h0M275 388h0M275 386h0M275 381h0M275 380h0M275 379h0M275.5 378h0M275.5 376.5h0M275.5 375.5h0M275.5 375h0M275.5 374.5h0M275.5 374h0M275.5 373h0M275.5 372.5h0M275.5 372h0M275.5 371h0M275.5 370.5h0M275.5 369.5h0M276 368.5h0M276 368h0M276 367.5h0M276 367h0M276 366.5h0M276.5 366.5h0M276.5 367h0M276.5 367.5h0M276.5 368h0M276.5 369h0M277 369h0M277 369.5h0M277 370h0M277 370.5h0M277 371h0M277 371.5h0M277 373.5h0M277 374h0M277 374.5h0M277 375h0M277 375.5h0M277 376h0M277 377h0M277 377.5h0M277.5 379.5h0M277.5 380h0M277.5 382.5h0M277.5 383h0M277.5 384h0M277.5 384.5h0M277.5 389.5h0M277.5 394.5h0M277.5 396.5h0M277.5 405h0M277.5 406h0M277.5 417h0M277.5 419h0M277.5 428.5h0M278 412.5h0M278 406.5h0M278 400.5h0M278 399h0M278 397h0M278 394h0M278 390h0M278 387.5h0M278 386h0M278 384.5h0M278 382h0M278 381.5h0M278 380h0M278 379.5h0M278 378.5h0M278 378h0M278.5 377.5h0M278.5 377h0M278.5 376.5h0M278.5 375h0M278.5 374.5h0M278.5 374h0M278.5 373.5h0M278.5 372.5h0M278.5 372h0M278.5 371.5h0M278.5 370.5h0M278.5 370h0M278.5 369.5h0M279 369h0M279 368.5h0M279 368h0M279 367.5h0M279.5 368h0M279.5 369h0M279.5 369.5h0M279.5 370h0M279.5 370.5h0M279.5 371h0M279.5 371.5h0M279.5 372h0M279.5 372.5h0M280 373h0M280 373.5h0M280 374.5h0M280 375h0M280 378h0M280 379h0M280 379.5h0M280 380h0M280 381h0M280 381.5h0M280 382h0M280 383.5h0M280 384h0M280 385.5h0M280 386h0M280.5 392h0M280.5 393.5h0M280.5 395h0M280.5 399.5h0M280.5 401.5h0M280.5 404h0M280.5 406h0M280.5 410.5h0M280.5 430.5h0M280.5 415h0M280.5 409.5h0M280.5 405h0M280.5 402.5h0M280.5 400h0M280.5 398h0M280.5 394.5h0M280.5 390h0M280.5 389h0M280.5 388.5h0M281 384h0M281 383.5h0M281 382.5h0M281 380.5h0M281 380h0M281 379h0M281 378.5h0M281 375.5h0M281 374.5h0M281 373.5h0M281 373h0M281.5 372.5h0M281.5 372h0M281.5 371.5h0M281.5 371h0M281.5 370.5h0M281.5 370h0M281.5 369.5h0M281.5 369h0M282 369h0M282 369.5h0M282 370h0M282 370.5h0M282 371h0M282 372h0M282.5 372.5h0M282.5 373h0M282.5 373.5h0M282.5 374h0M282.5 374.5h0M282.5 375h0M282.5 375.5h0M282.5 376h0M282.5 376.5h0M282.5 377h0M282.5 382h0M282.5 384h0M282.5 387h0M282.5 387.5h0M283 391.5h0M283 392.5h0M283 394.5h0M283 396h0M283 399h0M283 410.5h0M283 415h0M283 425h0M283 412h0M283 408h0M283 405.5h0M283 397h0M283 395h0M283.5 392.5h0M283.5 391h0M283.5 389.5h0M283.5 388.5h0M283.5 387h0M283.5 386h0M283.5 384.5h0M283.5 382h0M283.5 381.5h0M283.5 380h0M283.5 375.5h0M283.5 374.5h0M283.5 374h0M284 374h0M284 373.5h0M284 372.5h0M284 372h0M284 371h0M284 370.5h0M284.5 370h0M284.5 370.5h0M284.5 371h0M284.5 371.5h0M284.5 372h0M284.5 372.5h0M284.5 373h0M284.5 373.5h0M284.5 374h0M285 374.5h0M285 375h0M285 375.5h0M285 376h0M285 378h0M285 378.5h0M285 381h0M285 387h0M285 389.5h0M285.5 398h0M285.5 403h0M285.5 407h0M285.5 425.5h0M285.5 395h0M285.5 394h0M285.5 392.5h0M285.5 391.5h0M285.5 390.5h0M285.5 387.5h0M286 384h0M286 383.5h0M286 381.5h0M286 381h0M286 380.5h0M286 380h0M286 379.5h0M286 377h0M286 376.5h0M286 376h0M286 374.5h0M286 373.5h0M286.5 373h0M286.5 372.5h0M286.5 372h0M286.5 371.5h0M287 372h0M287 372.5h0M287 373h0M287 373.5h0M287 374.5h0M287 375h0M287 375.5h0M287 376h0M287 377.5h0M287 379h0M287 379.5h0M287.5 382.5h0M287.5 383h0M287.5 384h0M287.5 385.5h0M287.5 386h0M287.5 388h0M287.5 389h0M287.5 390h0M287.5 390.5h0M287.5 399.5h0M287.5 402.5h0M287.5 418h0M287.5 416.5h0M287.5 425h0M287.5 413h0M288 407.5h0M288 405.5h0M288 403h0M288 394h0M288 392.5h0M288 391.5h0M288 390.5h0M288 384h0M288 383h0M288 382.5h0M288 382h0M288.5 376.5h0M288.5 376h0M288.5 375.5h0M288.5 375h0M288.5 373.5h0M288.5 372.5h0M289 372.5h0M289 373h0M289 373.5h0M289 374h0M289 375.5h0M289 376.5h0M289 377h0M289 377.5h0M289.5 378h0M289.5 378.5h0M289.5 379.5h0M289.5 380h0M289.5 381h0M289.5 382h0M289.5 383h0M289.5 384.5h0M289.5 387h0M289.5 388.5h0M289.5 389.5h0M289.5 399h0M289.5 411.5h0M290 418h0M290 430.5h0M290 410h0M290 401h0M290 395.5h0M290 393.5h0M290 390h0M290 387.5h0M290 385h0M290 384h0M290 383.5h0M290 383h0M290 381h0M290.5 380.5h0M290.5 380h0M290.5 379h0M290.5 378.5h0M290.5 377.5h0M290.5 377h0M290.5 376.5h0M290.5 376h0M290.5 375.5h0M290.5 375h0M290.5 374.5h0M290.5 374h0M290.5 373.5h0M291 373.5h0M291 374h0M291 375h0M291 375.5h0M291 377h0M291 377.5h0M291.5 378.5h0M291.5 379h0M291.5 379.5h0M291.5 381h0M291.5 382.5h0M291.5 383.5h0M291.5 384h0M291.5 385h0M291.5 386.5h0M291.5 388h0M291.5 388.5h0M291.5 395.5h0M291.5 396.5h0M291.5 399h0M291.5 404h0M291.5 405.5h0M291.5 407.5h0M291.5 414.5h0M292 414.5h0M292 420h0M292 424h0M292 430h0M292 408h0M292 403.5h0M292 400h0M292 398h0M292 397h0M292 395h0M292 393.5h0M292 393h0M292 391h0M292 390h0M292 388h0M292 387h0M292 385.5h0M292 384h0M292 383.5h0M292 382.5h0M292.5 381h0M292.5 380h0M292.5 379h0M292.5 378h0M292.5 377h0M292.5 376.5h0M292.5 374.5h0M292.5 374h0M293 374.5h0M293 374h0M293 375h0M293 375.5h0M293 376.5h0M293 377h0M293 378.5h0M293 379.5h0M293 380.5h0M293.5 383.5h0M293.5 384.5h0M293.5 386.5h0M293.5 389h0M293.5 390h0M293.5 391h0M293.5 391.5h0M293.5 394h0M293.5 396h0M293.5 398.5h0M293.5 401.5h0M293.5 403h0M293.5 406.5h0M293.5 411.5h0M293.5 429h0M293.5 420h0M294 393h0M294 391.5h0M294 389.5h0M294 387.5h0M294 385h0M294 384.5h0M294 382.5h0M294 382h0M294 381h0M294 380.5h0M294 380h0M294 379.5h0M294.5 378h0M294.5 377.5h0M294.5 377h0M294.5 375.5h0M294.5 375h0M295 376.5h0M295 377h0M295 377.5h0M295 379h0M295 379.5h0M295 380h0M295 383.5h0M295 385.5h0M295 386.5h0M295 389h0M295.5 391h0M295.5 392h0M295.5 392.5h0M295.5 393.5h0M295.5 395h0M295.5 397h0M295.5 399.5h0M295.5 403h0M295.5 423h0M295.5 429.5h0M295.5 404h0M295.5 393h0M296 390.5h0M296 388h0M296 387.5h0M296 384.5h0M296 382h0M296 381h0M296 380h0M296 379h0M296 378.5h0M296 378h0M296 377.5h0M296 377h0M296 376.5h0M296.5 376.5h0M296.5 376h0M296.5 377h0M296.5 377.5h0M296.5 378h0M296.5 380h0M297 380.5h0M297 381h0M297 381.5h0M297 382h0M297 383h0M297 384h0M297 384.5h0M297 389h0M297 389.5h0M297 390.5h0M297 395.5h0M297 407.5h0M297 410h0M297 412h0M297 419h0M297 424.5h0M297 435.5h0M297.5 432.5h0M297.5 424h0M297.5 417.5h0M297.5 415.5h0M297.5 404h0M297.5 399h0M297.5 397h0M297.5 395.5h0M297.5 393h0M297.5 392h0M297.5 390.5h0M297.5 388.5h0M297.5 388h0M297.5 386.5h0M297.5 385h0M297.5 384.5h0M297.5 384h0M297.5 382h0M297.5 381.5h0M297.5 381h0M297.5 380h0M298 378.5h0M298 378h0M298 377.5h0M298 377h0M298.5 378h0M298.5 378.5h0M298.5 379h0M298.5 380h0M298.5 380.5h0M298.5 383h0M298.5 384h0M298.5 384.5h0M298.5 385h0M298.5 387h0M298.5 387.5h0M298.5 389.5h0M298.5 390.5h0M298.5 392.5h0M298.5 396.5h0M299 400.5h0M299 407.5h0M299 408.5h0M299 424h0M299 423h0M299 419h0M299 409.5h0M299 398.5h0M299 395h0M299 394h0M299 391.5h0M299 391h0M299 388.5h0M299 386h0M299 385h0M299.5 384.5h0M299.5 383h0M299.5 382h0M299.5 380.5h0M299.5 380h0M299.5 379.5h0M299.5 378.5h0M299.5 377.5h0M300 378h0M300 378.5h0M300 379h0M300 379.5h0M300 381h0M300 381.5h0M300 383.5h0M300 385h0M300 386h0M300 386.5h0M300 387h0M300 388.5h0M300 389h0M300 390h0M300 391h0M300 391.5h0M300.5 394h0M300.5 395.5h0M300.5 401.5h0M300.5 410h0M300.5 434h0M300.5 437h0M300.5 427.5h0M300.5 432.5h0M300.5 405h0M300.5 404.5h0M300.5 403.5h0M300.5 397h0M300.5 392.5h0M300.5 392h0M300.5 389h0M301 388.5h0M301 387.5h0M301 386.5h0M301 386h0M301 384h0M301 383h0M301 382.5h0M301 382h0M301 381h0M301 379.5h0M301 378.5h0M301 378h0M301.5 378.5h0M301.5 379h0M301.5 379.5h0M301.5 380.5h0M301.5 381h0M301.5 382h0M301.5 383h0M301.5 383.5h0M301.5 384.5h0M301.5 386.5h0M301.5 390.5h0M302 392h0M302 394.5h0M302 396h0M302 400h0M302 402.5h0M302 405h0M302 407.5h0M302 431.5h0M302 430h0M302 411.5h0M302 392.5h0M302 390h0M302.5 389h0M302.5 386h0M302.5 385h0M302.5 383h0M302.5 382.5h0M302.5 380.5h0M302.5 380h0M302.5 379.5h0M302.5 379h0M303 379.5h0M303 380h0M303 380.5h0M303 381h0M303 382h0M303 382.5h0M303 383h0M303 383.5h0M303 384.5h0M303 385.5h0M303 389.5h0M303 392h0M303.5 395h0M303.5 401h0M303.5 402h0M303.5 404.5h0M303.5 409.5h0M303.5 431h0M303.5 422h0M303.5 422.5h0M303.5 406h0M303.5 405h0M303.5 393h0M303.5 388h0M304 387h0M304 385.5h0M304 383.5h0M304 383h0M304 381.5h0M304 381h0M304 380.5h0M304 380h0M304 379.5h0M304.5 380.5h0M304.5 381h0M304.5 382.5h0M304.5 387.5h0M304.5 388h0M304.5 390h0M304.5 392h0M304.5 393.5h0M304.5 394h0M304.5 396h0M304.5 397h0M304.5 400h0M305 410h0M305 416h0M305 428.5h0M305 428h0M305 401h0M305 399.5h0M305 395.5h0M305 392.5h0M305 388.5h0M305 386.5h0M305 385.5h0M305 384.5h0M305 384h0M305.5 383.5h0M305.5 383h0M305.5 381.5h0M305.5 381h0M305.5 380.5h0M306 384h0M306 386.5h0M306 387h0M306 388h0M306 391h0M306 391.5h0M306 392.5h0M306 395h0M306 403.5h0M306 407h0M306 424h0M306 426h0M306 420h0M306.5 408h0M306.5 401h0M306.5 399.5h0M306.5 394h0M306.5 393.5h0M306.5 390h0M306.5 389.5h0M306.5 388h0M306.5 386.5h0M306.5 385.5h0M306.5 384h0M306.5 383h0M306.5 382h0M306.5 381.5h0M307 381h0M307 381.5h0M307 382h0M307 384.5h0M307 385h0M307 385.5h0M307 386h0M307 386.5h0M307.5 395h0M307.5 396.5h0M307.5 406.5h0M307.5 407.5h0M307.5 408.5h0M307.5 410h0M307.5 415.5h0M307.5 418h0M307.5 427h0M307.5 422h0M307.5 413.5h0M307.5 411h0M307.5 408h0M307.5 405h0M307.5 401.5h0M307.5 399.5h0M307.5 395.5h0M307.5 393h0M307.5 391h0M308 390h0M308 388.5h0M308 385.5h0M308 385h0M308 384h0M308 383.5h0M308 382.5h0M308 382h0M308 381.5h0M308.5 383.5h0M308.5 384.5h0M308.5 387.5h0M308.5 391.5h0M308.5 393.5h0M308.5 399.5h0M308.5 402h0M308.5 405h0M308.5 414.5h0M308.5 444.5h0M308.5 428h0M309 429h0M309 415.5h0M309 405.5h0M309 401h0M309 395.5h0M309 393.5h0M309 390.5h0M309 389.5h0M309 387.5h0M309 385h0M309 384h0M309.5 382h0M309.5 382.5h0M309.5 383h0M309.5 383.5h0M309.5 384h0M309.5 384.5h0M309.5 388h0M309.5 391h0M309.5 391.5h0M309.5 393h0M310 395h0M310 398.5h0M310 402h0M310 406h0M310 427.5h0M310 436.5h0M310 450h0M310 433.5h0M310 413.5h0M310 404.5h0M310 401h0M310 400h0M310 396.5h0M310 393h0M310 389.5h0M310.5 383h0M310.5 382.5h0M310.5 384h0M310.5 384.5h0M311 386h0M311 387.5h0M311 388.5h0M311 389h0M311 390h0M311 396h0M311 401h0M311 423.5h0M311 433h0M311 445h0M311 428.5h0M311 430h0M311 415h0M311 410h0M311 405.5h0M311.5 402h0M311.5 394.5h0M311.5 387h0M311.5 386.5h0M311.5 385.5h0M311.5 385h0M311.5 384h0M311.5 383.5h0M312 383.5h0M312 384h0M312 385.5h0M312 386.5h0M312 387h0M312 388h0M312 388.5h0M312 395.5h0M312 396.5h0M312 402.5h0M312 403.5h0M312 411h0M312 413h0M312.5 422h0M312.5 421.5h0M312.5 414.5h0M312.5 408.5h0M312.5 403.5h0M312.5 394h0M312.5 390.5h0M312.5 388h0M312.5 387h0M312.5 386.5h0M312.5 386h0M312.5 385.5h0M312.5 385h0M312.5 384.5h0M313 384.5h0M313 384h0M313 386.5h0M313 387.5h0M313 388h0M313 389h0M313 390h0M313 394.5h0M313 395.5h0M313 397.5h0M313.5 410h0M313.5 419h0M313.5 411h0M313.5 404.5h0M313.5 400h0M313.5 399h0M313.5 398.5h0M313.5 397h0M313.5 395.5h0M313.5 391.5h0M313.5 389.5h0M314 385h0M314 384.5h0M314 387h0M314 387.5h0M314 388h0M314 390.5h0M314.5 394.5h0M314.5 396h0M314.5 396.5h0M314.5 407h0M314.5 422h0M314.5 434.5h0M314.5 430.5h0M314.5 416h0M314.5 404.5h0M314.5 403.5h0M314.5 402h0M314.5 401h0M314.5 397.5h0M314.5 392.5h0M314.5 391h0M314.5 390.5h0M315 389h0M315 388.5h0M315 387h0M315 385.5h0M315 385h0M315 386.5h0M315.5 394.5h0M315.5 395h0M315.5 397h0M315.5 398h0M315.5 399.5h0M315.5 416.5h0M315.5 426.5h0M315.5 421h0M315.5 411.5h0M315.5 404h0M316 386h0M316 385.5h0M316 387h0M316.5 391.5h0M316.5 393.5h0M316.5 400.5h0M316.5 412.5h0M316.5 421h0M316.5 423.5h0M316.5 438.5h0M316.5 418h0M316.5 408.5h0M316.5 408h0M316.5 401h0M316.5 396.5h0M316.5 394.5h0M317 392.5h0M317 389.5h0M317 388.5h0M317 387.5h0M317 386.5h0M317 386h0M317 388h0M317.5 393h0M317.5 401.5h0M317.5 402h0M317.5 404.5h0M317.5 406.5h0M317.5 408h0M317.5 414.5h0M317.5 422h0M317.5 431h0M317.5 420.5h0M317.5 407.5h0M317.5 406h0M317.5 400.5h0M317.5 400h0M317.5 398h0M317.5 396.5h0M317.5 395h0M317.5 394.5h0M317.5 394h0M318 391h0M318 390h0M318 389h0M318 388h0M318 387h0M318 386.5h0M318 386h0M318 392.5h0M318.5 393.5h0M318.5 395h0M318.5 395.5h0M318.5 398.5h0M318.5 402.5h0M318.5 413.5h0M318.5 415h0M318.5 423.5h0M318.5 421.5h0M318.5 418.5h0M318.5 414.5h0M318.5 412h0M318.5 404.5h0M318.5 400.5h0M318.5 393h0M319 390.5h0M319 387.5h0M319 387h0M319 389.5h0M319 390h0M319 391.5h0M319 393h0M319 395h0M319 396h0M319.5 400h0M319.5 401h0M319.5 408h0M319.5 425h0M319.5 415h0M319.5 402h0M319.5 401.5h0M319.5 398.5h0M319.5 397h0M319.5 394.5h0M319.5 389.5h0M320 387.5h0M320 387h0M320 388h0M320 388.5h0M320 389h0M320 394.5h0M320 396h0M320.5 411.5h0M320.5 415.5h0M320.5 437h0M320.5 414.5h0M320.5 407.5h0M320.5 399.5h0M320.5 397.5h0M320.5 392.5h0M320.5 388.5h0M321 387.5h0M321 388h0M321 388.5h0M321 391h0M321 393.5h0M321 398.5h0M321 402h0M321 405h0M321 410h0M321 411h0M321 413.5h0M321 414.5h0M321 417.5h0M321 435h0M321.5 417.5h0M321.5 416.5h0M321.5 408h0M321.5 397h0M321.5 395.5h0M321.5 393.5h0M321.5 389.5h0M321.5 389h0M321.5 388h0M321.5 388.5h0M322 389h0M322 389.5h0M322 393h0M322 394h0M322 395h0M322 397h0M322 404.5h0M322 411h0M322 436.5h0M322 451h0M322 431h0M322 415.5h0M322 415h0M322 404h0M322 402.5h0M322 402h0M322.5 398.5h0M322.5 395h0M322.5 392h0M322.5 391h0M322.5 389h0M322.5 388.5h0M322.5 389.5h0M322.5 390h0M322.5 392.5h0M323 398.5h0M323 399.5h0M323 406.5h0M323 428.5h0M323 430h0M323 428h0M323 422h0M323 410h0M323 407h0M323 403h0M323 401h0M323 395h0M323 391.5h0M323 391h0M323.5 390h0M323.5 389h0M323.5 389.5h0M323.5 392.5h0M323.5 394.5h0M323.5 404.5h0M323.5 421h0M324 421.5h0M324 428.5h0M324 447.5h0M324 440.5h0M324 415.5h0M324 413h0M324 398.5h0M324 395h0M324 392h0M324 389.5h0M324.5 391h0M324.5 392.5h0M324.5 393h0M324.5 393.5h0M324.5 397.5h0M324.5 411h0M324.5 426h0M324.5 412.5h0M324.5 407h0M324.5 404.5h0M325 400.5h0M325 399.5h0M325 395h0M325 392.5h0M325 391.5h0M325 391h0M325 390.5h0M325 390h0M325 389.5h0M325 393h0M325 394h0M325 394.5h0M325 399h0M325.5 399.5h0M325.5 400.5h0M325.5 401h0M325.5 402.5h0M325.5 411.5h0M325.5 427.5h0M325.5 429.5h0M325.5 433h0M325.5 446.5h0M325.5 397h0M325.5 395.5h0M326 390h0M326 390.5h0M326 391h0M326 403h0M326 415.5h0M326 421.5h0M326 439h0M326 436.5h0M326 416h0M326.5 409.5h0M326.5 408.5h0M326.5 403h0M326.5 402h0M326.5 392h0M326.5 391.5h0M326.5 390.5h0M326.5 391h0M326.5 393.5h0M326.5 395h0M327 396h0M327 406h0M327 410h0M327 410.5h0M327 421h0M327 425.5h0M327 423h0M327 408h0M327 395.5h0M327.5 390.5h0M327.5 391h0M327.5 391.5h0M327.5 392h0M327.5 392.5h0M327.5 393h0M327.5 394h0M327.5 396h0M327.5 402h0M327.5 403h0M327.5 415h0M327.5 430.5h0M328 412.5h0M328 399h0M328 398h0M328 396.5h0M328 395h0M328 394h0M328 393.5h0M328 393h0M328 392.5h0M328 391.5h0M328 396h0M328.5 421h0M328.5 423h0M328.5 429.5h0M328.5 438h0M328.5 417h0M328.5 405h0M328.5 398.5h0M328.5 392.5h0M328.5 392h0M329 391.5h0M329 392h0M329 392.5h0M329 393h0M329 393.5h0M329 394.5h0M329 395h0M329 398.5h0M329 401h0M329 404.5h0M329 412.5h0M329 417h0M329 434h0M329 421.5h0M329 414h0M329 413h0M329.5 407h0M329.5 404h0M329.5 392h0M329.5 392.5h0M329.5 393h0M329.5 393.5h0M329.5 394.5h0M329.5 396.5h0M329.5 402.5h0M330 407.5h0M330 441h0M330 454.5h0M330 426h0M330 421.5h0M330 406.5h0M330 404h0M330 399h0M330 395h0M330 393.5h0M330 392h0M330.5 392.5h0M330.5 395h0M330.5 399h0M330.5 402.5h0M330.5 414.5h0M330.5 431h0M330.5 425h0M330.5 400h0M330.5 397.5h0M331 395h0M331 394h0M331 393.5h0M331 392.5h0M331 393h0M331 397h0M331 402.5h0M331 413h0M331 422h0M331 424h0M331 427h0M331 441.5h0M331.5 421.5h0M331.5 414.5h0M331.5 412h0M331.5 402.5h0M331.5 398.5h0M331.5 395.5h0M331.5 395h0M331.5 393.5h0M331.5 393h0M331.5 394h0M331.5 398h0M331.5 399h0M332 401h0M332 401.5h0M332 402h0M332 405.5h0M332 426.5h0M332 414h0M332 408.5h0M332 393.5h0M332 393h0M332.5 393h0M332.5 393.5h0M332.5 394h0M332.5 407h0M332.5 408h0M332.5 412h0M332.5 425h0M332.5 430.5h0M332.5 426.5h0M333 397h0M333 394.5h0M333 393.5h0M333 394h0M333 395.5h0M333 396.5h0M333 439h0M333 430h0M333 420.5h0M333.5 419h0M333.5 408h0M333.5 398.5h0M333.5 398h0M333.5 394.5h0M333.5 393.5h0M333.5 394h0M333.5 396h0M333.5 402h0M333.5 406h0M334 412h0M334 416.5h0M334 437h0M334 426.5h0M334 424.5h0M334 417.5h0M334 412.5h0M334 408h0M334 406.5h0M334 401.5h0M334 399.5h0M334 399h0M334 398h0M334 397h0M334 394h0M334 395.5h0M334 396h0M334.5 399.5h0M334.5 401.5h0M334.5 403h0M334.5 407h0M334.5 412h0M334.5 425.5h0M334.5 421h0M334.5 409.5h0M334.5 397.5h0M334.5 395.5h0M334.5 395h0M335 394.5h0M335 395h0M335 396h0M335 397.5h0M335 398h0M335 405h0M335 435.5h0M335 425.5h0M335 417h0M335 408h0M335 400.5h0M335.5 396.5h0M335.5 395.5h0M335.5 395h0M335.5 394.5h0M335.5 399h0M335.5 414.5h0M335.5 434.5h0M335.5 418.5h0M335.5 413h0M336 396.5h0M336 395.5h0M336 395h0M336 397.5h0M336 400h0M336 401.5h0M336 402.5h0M336 412.5h0M336 420.5h0M336.5 441h0M336.5 432h0M336.5 417.5h0M336.5 416.5h0M336.5 409h0M336.5 402.5h0M336.5 400h0M336.5 399.5h0M336.5 396.5h0M336.5 396h0" stroke="#000" stroke-width="3.3" stroke-linecap="round" fill="none"/>
<text transform="translate(64.40 305.50) scale(1.05 1)" text-anchor="end" class="tl">10<tspan dy="-7.6" style="font-size:12.6px">0</tspan></text>
<text transform="translate(64.40 386.75) scale(1.05 1)" text-anchor="end" class="tl">10<tspan dy="-7.6" style="font-size:12.6px">-2</tspan></text>
<text transform="translate(64.40 468.00) scale(1.05 1)" text-anchor="end" class="tl">10<tspan dy="-7.6" style="font-size:12.6px">-4</tspan></text>
<text transform="translate(155.93 487.70) scale(1.05 1)" text-anchor="middle" class="tl">10<tspan dy="-7.6" style="font-size:12.6px">0</tspan></text>
<text transform="translate(326.78 487.70) scale(1.05 1)" text-anchor="middle" class="tl">10<tspan dy="-7.6" style="font-size:12.6px">2</tspan></text>
<text transform="translate(193.50 492.00) scale(1.05 1)" class="fl" style="font-size:18.3px">T<tspan dy="8.7" style="font-size:14px">int</tspan><tspan dy="-8.7">/T</tspan></text>
<text transform="translate(78.30 320.90) scale(1.06 1)" class="fl" style="font-weight:bold;font-size:18px">(c)</text>
<text transform="translate(25.20 379.25) rotate(-90) scale(1.035 1)" text-anchor="middle" class="fl" style="font-size:17.9px">Fano factor</text>
<path d="M420.17 300.10V463.90M435.19 300.10V463.90M445.84 300.10V463.90M454.11 300.10V463.90M460.86 300.10V463.90M466.57 300.10V463.90M471.51 300.10V463.90M475.87 300.10V463.90M479.78 300.10V463.90M505.45 300.10V463.90M520.46 300.10V463.90M531.12 300.10V463.90M539.38 300.10V463.90M546.13 300.10V463.90M551.84 300.10V463.90M556.79 300.10V463.90M561.15 300.10V463.90M565.05 300.10V463.90M590.72 300.10V463.90M605.74 300.10V463.90M616.39 300.10V463.90M624.66 300.10V463.90M631.41 300.10V463.90M637.12 300.10V463.90M642.07 300.10V463.90M646.43 300.10V463.90M650.33 300.10V463.90M394.50 451.57H676.00M394.50 444.36H676.00M394.50 439.25H676.00M394.50 435.28H676.00M394.50 432.03H676.00M394.50 429.29H676.00M394.50 426.92H676.00M394.50 424.82H676.00M394.50 422.95H676.00M394.50 410.62H676.00M394.50 403.41H676.00M394.50 398.30H676.00M394.50 394.33H676.00M394.50 391.08H676.00M394.50 388.34H676.00M394.50 385.97H676.00M394.50 383.87H676.00M394.50 382.00H676.00M394.50 369.67H676.00M394.50 362.46H676.00M394.50 357.35H676.00M394.50 353.38H676.00M394.50 350.13H676.00M394.50 347.39H676.00M394.50 345.02H676.00M394.50 342.92H676.00M394.50 341.05H676.00M394.50 328.72H676.00M394.50 321.51H676.00M394.50 316.40H676.00M394.50 312.43H676.00M394.50 309.18H676.00M394.50 306.44H676.00M394.50 304.07H676.00M394.50 301.97H676.00" stroke="#c8c8c8" stroke-width="0.6" stroke-dasharray="1 2" fill="none"/>
<path d="M394.50 463.90v-3.2M394.50 300.10v3.2M420.17 463.90v-1.8M420.17 300.10v1.8M435.19 463.90v-1.8M435.19 300.10v1.8M445.84 463.90v-1.8M445.84 300.10v1.8M454.11 463.90v-1.8M454.11 300.10v1.8M460.86 463.90v-1.8M460.86 300.10v1.8M466.57 463.90v-1.8M466.57 300.10v1.8M471.51 463.90v-1.8M471.51 300.10v1.8M475.87 463.90v-1.8M475.87 300.10v1.8M479.78 463.90v-3.2M479.78 300.10v3.2M505.45 463.90v-1.8M505.45 300.10v1.8M520.46 463.90v-1.8M520.46 300.10v1.8M531.12 463.90v-1.8M531.12 300.10v1.8M539.38 463.90v-1.8M539.38 300.10v1.8M546.13 463.90v-1.8M546.13 300.10v1.8M551.84 463.90v-1.8M551.84 300.10v1.8M556.79 463.90v-1.8M556.79 300.10v1.8M561.15 463.90v-1.8M561.15 300.10v1.8M565.05 463.90v-3.2M565.05 300.10v3.2M590.72 463.90v-1.8M590.72 300.10v1.8M605.74 463.90v-1.8M605.74 300.10v1.8M616.39 463.90v-1.8M616.39 300.10v1.8M624.66 463.90v-1.8M624.66 300.10v1.8M631.41 463.90v-1.8M631.41 300.10v1.8M637.12 463.90v-1.8M637.12 300.10v1.8M642.07 463.90v-1.8M642.07 300.10v1.8M646.43 463.90v-1.8M646.43 300.10v1.8M650.33 463.90v-3.2M650.33 300.10v3.2M676.00 463.90v-1.8M676.00 300.10v1.8M394.50 463.90h3.2M676.00 463.90h-3.2M394.50 451.57h1.8M676.00 451.57h-1.8M394.50 444.36h1.8M676.00 444.36h-1.8M394.50 439.25h1.8M676.00 439.25h-1.8M394.50 435.28h1.8M676.00 435.28h-1.8M394.50 432.03h1.8M676.00 432.03h-1.8M394.50 429.29h1.8M676.00 429.29h-1.8M394.50 426.92h1.8M676.00 426.92h-1.8M394.50 424.82h1.8M676.00 424.82h-1.8M394.50 422.95h3.2M676.00 422.95h-3.2M394.50 410.62h1.8M676.00 410.62h-1.8M394.50 403.41h1.8M676.00 403.41h-1.8M394.50 398.30h1.8M676.00 398.30h-1.8M394.50 394.33h1.8M676.00 394.33h-1.8M394.50 391.08h1.8M676.00 391.08h-1.8M394.50 388.34h1.8M676.00 388.34h-1.8M394.50 385.97h1.8M676.00 385.97h-1.8M394.50 383.87h1.8M676.00 383.87h-1.8M394.50 382.00h3.2M676.00 382.00h-3.2M394.50 369.67h1.8M676.00 369.67h-1.8M394.50 362.46h1.8M676.00 362.46h-1.8M394.50 357.35h1.8M676.00 357.35h-1.8M394.50 353.38h1.8M676.00 353.38h-1.8M394.50 350.13h1.8M676.00 350.13h-1.8M394.50 347.39h1.8M676.00 347.39h-1.8M394.50 345.02h1.8M676.00 345.02h-1.8M394.50 342.92h1.8M676.00 342.92h-1.8M394.50 341.05h3.2M676.00 341.05h-3.2M394.50 328.72h1.8M676.00 328.72h-1.8M394.50 321.51h1.8M676.00 321.51h-1.8M394.50 316.40h1.8M676.00 316.40h-1.8M394.50 312.43h1.8M676.00 312.43h-1.8M394.50 309.18h1.8M676.00 309.18h-1.8M394.50 306.44h1.8M676.00 306.44h-1.8M394.50 304.07h1.8M676.00 304.07h-1.8M394.50 301.97h1.8M676.00 301.97h-1.8M394.50 300.10h3.2M676.00 300.10h-3.2" stroke="#333" stroke-width="1" fill="none"/>
<path d="M394.50 300.10H676.00V463.90" stroke="#9a9a9a" stroke-width="1.3" fill="none"/>
<path d="M394.50 300.10V463.90H676.00" stroke="#505050" stroke-width="1.3" fill="none"/>
<path d="M516.01 317.50L669.76 391.33" stroke="#555" stroke-width="1.2" stroke-dasharray="7.2 4.4" fill="none"/>
<path d="M394.5 301h0M398.5 301h0M402 301h0M405.5 301h0M408.5 301h0M411 301.5h0M414 301.5h0M416 301.5h0M418.5 301.5h0M420.5 301.5h0M422.5 301.5h0M424.5 301.5h0M426.5 302h0M428 302h0M430 302h0M431.5 302h0M433 302h0M434.5 302h0M436 302.5h0M437 302.5h0M438.5 302.5h0M440 302.5h0M441 302.5h0M442 302.5h0M443.5 303h0M444.5 303h0M445.5 303h0M446.5 303h0M447.5 303.5h0M448.5 303.5h0M449.5 303.5h0M450.5 303.5h0M451.5 303.5h0M452.5 304h0M453 304h0M454 304h0M455 304h0M455.5 304.5h0M456.5 304.5h0M457.5 304.5h0M458 304.5h0M459 305h0M459.5 305h0M460 305h0M461 305h0M461.5 305.5h0M462.5 305.5h0M463 305.5h0M463.5 305.5h0M464.5 306h0M465 306h0M465.5 306h0M466 306.5h0M467 306.5h0M467.5 306.5h0M468 307h0M468.5 307h0M469 307h0M469.5 307.5h0M470 307.5h0M471 307.5h0M471.5 308h0M472 308h0M472.5 308h0M473 308.5h0M473.5 308.5h0M474 308.5h0M474.5 309h0M475 309h0M475.5 309h0M476 309.5h0M476.5 309.5h0M476.5 310h0M477 310h0M477.5 310h0M478 310.5h0M478.5 310.5h0M479 311h0M479.5 311h0M480 311.5h0M480.5 312h0M481 312h0M481.5 312.5h0M482 312.5h0M482.5 313h0M483 313h0M483.5 313.5h0M484 313.5h0M484 314h0M484.5 314.5h0M485 314.5h0M485.5 315h0M486 315.5h0M486.5 315.5h0M486.5 316h0M487 316.5h0M487.5 316.5h0M487.5 317h0M488 317h0M488.5 317.5h0M489 318h0M489.5 318.5h0M489.5 319h0M490 319h0M490.5 319.5h0M490.5 320h0M491 320.5h0M491.5 320.5h0M491.5 321h0M492 321.5h0M492 322h0M492.5 322h0M493 322.5h0M493 323h0M493.5 323.5h0M493.5 324h0M494 324.5h0M494.5 325h0M494.5 325.5h0M495 326h0M495.5 326.5h0M495.5 327h0M496 328h0M496 328.5h0M496.5 329h0M497 329.5h0M497 330h0M497.5 330.5h0M497.5 331h0M498 332h0M498 332.5h0M498.5 333h0M498.5 334h0M499 334.5h0M499 335.5h0M499.5 336h0M499.5 337h0M500 338h0M500 338.5h0M500.5 339.5h0M500.5 340.5h0M501 341.5h0M501 342.5h0M501.5 343.5h0M501.5 345h0M502 346h0M502 347.5h0M502 349h0M502.5 350h0M502.5 352h0M503 353.5h0M503 355.5h0M503.5 357.5h0M503.5 360.5h0M504 362h0M504 366.5h0M504 369h0M504.5 373.5h0M504.5 375.5h0M505 382.5h0M505 389.5h0M505.5 387h0M505.5 380.5h0M505.5 374.5h0M506 370h0M506 366.5h0M506.5 364h0M506.5 361.5h0M507 359h0M507 357.5h0M507 355.5h0M507.5 354h0M507.5 352.5h0M508 351h0M508 350h0M508 349h0M508.5 348h0M508.5 347h0M508.5 346h0M509 345.5h0M509 344.5h0M509.5 344h0M509.5 343h0M509.5 342.5h0M510 342h0M510 341.5h0M510.5 341h0M510.5 340.5h0M510.5 340h0M511 339.5h0M511 339h0M511 338.5h0M511.5 338h0M511.5 337.5h0M512 337h0M512 336.5h0M512.5 336h0M512.5 335.5h0M513 335.5h0M513 335h0M513.5 334.5h0M513.5 334h0M514 334h0M514 333.5h0M514.5 333.5h0M514.5 333h0M515 333h0M515 332.5h0M515.5 332.5h0M516 332h0M516.5 332h0M516.5 331.5h0M517 331.5h0M517.5 331.5h0M518 331.5h0M518.5 331.5h0M519 331.5h0M519.5 331.5h0M520 331.5h0M520 332h0M520.5 332h0M521 332h0M521 332.5h0M521.5 332.5h0M521.5 333h0M522 333h0M522 333.5h0M522.5 333.5h0M522.5 334h0M523 334.5h0M523.5 335h0M523.5 335.5h0M524 336h0M524 336.5h0M524.5 337h0M524.5 337.5h0M525 338h0M525 338.5h0M525 339h0M525.5 339h0M525.5 339.5h0M525.5 340h0M526 340.5h0M526 341h0M526 341.5h0M526 342h0M526.5 342h0M526.5 342.5h0M526.5 343h0M526.5 343.5h0M526.5 344h0M527 344.5h0M527 345h0M527 345.5h0M527 346h0M527.5 346.5h0M527.5 347.5h0M527.5 348h0M527.5 348.5h0M528 349h0M528 350h0M528 350.5h0M528 351h0M528.5 352h0M528.5 353h0M528.5 354h0M528.5 354.5h0M528.5 355.5h0M529 356.5h0M529 357.5h0M529 358.5h0M529 360h0M529.5 361.5h0M529.5 362.5h0M529.5 364h0M529.5 365h0M529.5 367.5h0M530 369.5h0M530 371h0M530 373h0M530 377h0M530.5 379.5h0M530.5 384.5h0M530.5 386h0M530.5 391h0M530.5 402h0M531 385.5h0M531 385h0M531 381h0M531 379.5h0M531.5 377h0M531.5 374.5h0M531.5 371h0M531.5 370h0M531.5 367.5h0M532 367h0M532 365h0M532 364h0M532 363h0M532.5 361.5h0M532.5 360.5h0M532.5 359h0M532.5 358.5h0M532.5 357.5h0M533 356.5h0M533 356h0M533 355.5h0M533 354.5h0M533 354h0M533.5 353h0M533.5 352.5h0M533.5 352h0M533.5 351.5h0M533.5 351h0M534 350.5h0M534 350h0M534 349.5h0M534 349h0M534 348.5h0M534 348h0M534.5 347.5h0M534.5 347h0M534.5 346.5h0M535 346h0M535 345.5h0M535 345h0M535.5 344.5h0M535.5 344h0M535.5 343.5h0M536 343.5h0M536 343h0M536 342.5h0M536.5 342.5h0M536.5 342h0M537 342h0M537 341.5h0M537.5 341h0M538 341h0M538.5 341h0M539 341h0M539.5 341h0M540 341.5h0M540 342.5h0M540.5 342.5h0M541 343h0M541 344h0M541.5 345h0M542 346h0M542 346.5h0M542.5 349h0M543 351h0M543 354.5h0M543.5 355h0M544 358h0M544 358.5h0M544.5 371h0M545 365h0M545 379.5h0M545.5 387.5h0M546 398.5h0M546 382.5h0M546.5 377.5h0M546.5 367.5h0M547 365h0M547.5 359h0M547.5 361h0M548 356h0M548 355h0M548.5 352h0M549 353h0M549 350.5h0M549.5 349.5h0M549.5 349h0M550 347.5h0M550.5 347h0M551 347h0M551.5 347h0M552 347.5h0M552.5 348h0M552.5 348.5h0M553 349h0M553 350h0M553.5 351h0M553.5 352h0M554 355h0M554 354.5h0M554.5 356.5h0M554.5 359.5h0M555 360h0M555 363.5h0M555.5 368h0M555.5 374h0M556 373.5h0M556 392.5h0M556.5 388h0M556.5 389h0M557 380.5h0M557 375h0M557 369.5h0M557.5 367.5h0M557.5 365h0M558 362h0M558 361h0M558.5 357.5h0M559 356.5h0M559 353.5h0M559.5 354h0M559.5 353.5h0M559.5 352h0M560 352h0M560 351.5h0M560.5 351.5h0M561 351.5h0M561.5 352h0M561.5 352.5h0M562 354h0M562 353.5h0M562 355h0M562.5 355.5h0M562.5 357h0M563 357h0M563 359h0M563 361h0M563.5 362.5h0M563.5 366.5h0M563.5 368.5h0M564 376h0M564 378.5h0M564.5 382h0M564.5 400h0M564.5 390.5h0M565 397h0M565 381.5h0M565 379h0M565.5 371h0M565.5 368.5h0M566 367h0M566 364.5h0M566 363.5h0M566.5 361h0M566.5 358h0M567 358h0M567 357h0M567 356h0M567.5 356h0M567.5 355.5h0M567.5 355h0M568 355h0M568.5 355h0M568.5 355.5h0M569 355.5h0M569 356.5h0M569 357.5h0M569 358.5h0M569.5 358.5h0M569.5 360h0M569.5 361.5h0M570 363.5h0M570 366h0M570.5 369.5h0M570.5 370.5h0M570.5 375h0M571 380h0M571 383.5h0M571.5 384h0M571.5 392.5h0M571.5 387.5h0M572 387.5h0M572 376.5h0M572 373h0M572.5 372.5h0M572.5 369.5h0M572.5 367.5h0M572.5 366h0M573 364h0M573 362.5h0M573.5 360.5h0M573.5 360h0M573.5 359h0M574 358.5h0M574 358h0M574.5 358h0M575 358.5h0M575 359h0M575 359.5h0M575 360h0M575.5 361.5h0M575.5 362h0M575.5 361h0M576 363.5h0M576 367h0M576 367.5h0M576 368.5h0M576.5 371h0M576.5 377h0M576.5 379.5h0M576.5 383.5h0M577 391h0M577 393.5h0M577 394.5h0M577 404.5h0M577.5 389.5h0M577.5 384h0M577.5 381h0M578 375h0M578 373h0M578 375.5h0M578 367.5h0M578.5 366.5h0M578.5 366h0M578.5 365h0M578.5 363.5h0M579 363.5h0M579 362h0M579 361.5h0M579 361h0M579.5 361h0M579.5 360.5h0M580 360.5h0M580 361h0M580 361.5h0M580.5 362h0M580.5 363.5h0M581 367.5h0M581 368h0M581 369.5h0M581.5 373h0M581.5 377h0M581.5 377.5h0M581.5 385h0M582 383h0M582 401.5h0M582 395.5h0M582 392.5h0M582 393.5h0M583 373h0M583 371.5h0M583 369h0M583.5 368h0M583.5 366.5h0M584 364h0M584 363h0M584 362.5h0M584.5 362.5h0M584.5 363h0M584.5 363.5h0M585 364h0M585 364.5h0M585 365.5h0M585 367h0M585.5 369.5h0M585.5 371h0M585.5 373h0M586 377h0M586 386h0M586.5 395h0M586.5 391h0M586.5 387h0M587 384.5h0M587 377h0M587 376h0M587 374.5h0M587.5 367.5h0M588 365.5h0M588 365h0M588.5 364.5h0M588.5 365h0M589 365.5h0M589 366h0M589.5 372h0M589.5 375.5h0M590 382h0M590 389h0M590 391h0M590 394h0M590.5 402.5h0M590.5 384h0M591 383h0M591 373.5h0M591.5 371h0M591.5 370.5h0M591.5 369.5h0M591.5 367.5h0M591.5 368h0M592 366.5h0M592 367h0M592 366h0M592.5 366h0M592.5 366.5h0M592.5 367h0M592.5 367.5h0M592.5 368.5h0M593 373.5h0M593 376.5h0M593.5 388h0M593.5 393.5h0M594 394h0M594 395h0M594 387h0M594.5 379.5h0M594.5 377h0M594.5 374h0M595 372h0M595 369.5h0M595 368.5h0M595.5 368h0M595.5 367.5h0M595.5 368.5h0M596 368.5h0M596 369h0M596 372h0M596.5 372.5h0M596.5 376.5h0M597 386h0M597 390.5h0M597 405h0M597.5 401.5h0M597.5 388h0M597.5 384.5h0M597.5 383.5h0M597.5 378h0M598 376h0M598 373h0M598 372h0M598 370.5h0M598.5 370h0M598.5 369.5h0M599 369.5h0M599 370h0M599 370.5h0M599 371.5h0M599 373.5h0M599.5 375.5h0M599.5 378h0M599.5 381h0M600 396.5h0M600 403.5h0M600 393.5h0M600.5 393.5h0M600.5 377h0M601 375.5h0M601 374.5h0M601 373.5h0M601 372h0M601 371h0M601 371.5h0M601.5 371h0M601.5 370.5h0M601.5 371.5h0M602 371.5h0M602 372h0M602 375h0M602 375.5h0M602.5 389h0M602.5 390.5h0M603 408.5h0M603 391.5h0M603 384.5h0M603.5 378.5h0M603.5 375h0M603.5 374.5h0M604 373h0M604 372h0M604.5 372h0M604.5 373h0M604.5 373.5h0M605 379h0M605 382.5h0M605 386.5h0M605 392h0M605 393.5h0M605.5 407.5h0M605.5 388.5h0M606 383h0M606 378h0M606 377h0M606 376h0M606 375.5h0M606 375h0M606.5 374h0M606.5 373.5h0M606.5 373h0M607 374h0M607 374.5h0M607 376.5h0M607 379.5h0M608 396h0M608.5 381h0M608.5 378.5h0M608.5 376h0M608.5 375h0M608.5 374.5h0M609 374h0M609 374.5h0M609 375h0M609 376h0M609.5 376h0M609.5 380h0M609.5 382h0M609.5 385h0M610 390.5h0M610 394h0M610 398h0M610 394.5h0M610 393.5h0M610.5 394.5h0M610.5 385h0M610.5 384.5h0M611 376.5h0M611 376h0M611 375.5h0M611 375h0M611.5 376.5h0M611.5 378h0M611.5 381h0M611.5 383.5h0M611.5 384.5h0M612 395.5h0M612 394h0M612.5 395h0M612.5 387h0M612.5 381.5h0M612.5 382.5h0M612.5 379.5h0M613 377.5h0M613 377h0M613 376.5h0M613 376h0M613.5 376.5h0M613.5 377h0M613.5 377.5h0M613.5 381h0M613.5 384h0M614 386.5h0M614 400h0M614 397.5h0M614.5 392.5h0M614.5 389.5h0M614.5 380.5h0M614.5 379.5h0M615 378h0M615 378.5h0M615 377h0M615 376.5h0M615 377.5h0M615.5 377h0M615.5 378.5h0M615.5 380h0M616 398h0M616 401.5h0M616.5 392h0M616.5 383h0M616.5 379.5h0M616.5 378.5h0M617 378.5h0M617 377.5h0M617 378h0M617 379h0M617.5 383h0M617.5 382h0M617.5 390h0M617.5 395h0M618 397.5h0M618 399h0M618 395.5h0M618 396.5h0M618 393.5h0M618 390.5h0M618 389.5h0M618.5 384h0M618.5 382.5h0M618.5 381.5h0M618.5 380.5h0M618.5 380h0M618.5 379.5h0M618.5 379h0M618.5 378.5h0M619 379.5h0M619 380h0M619 381h0M619 381.5h0M619 382.5h0M619.5 396.5h0M619.5 397h0M619.5 406.5h0M619.5 403h0M620 395h0M620 381h0M620 380.5h0M620.5 380h0M620.5 379.5h0M620.5 379h0M620.5 380.5h0M621 388.5h0M621 396.5h0M621.5 393h0M621.5 391.5h0M621.5 383h0M622 382h0M622 381.5h0M622 380h0M622 379.5h0M622 380.5h0M622.5 389.5h0M622.5 393.5h0M622.5 396h0M623 393h0M623 391.5h0M623 387h0M623.5 381.5h0M623.5 382h0M623.5 380.5h0M623.5 381h0M624 385h0M624 389.5h0M624.5 412.5h0M624.5 397h0M624.5 394h0M624.5 387h0M625 384h0M625 383h0M625 382.5h0M625 382h0M625 383.5h0M625.5 388h0M626 401.5h0M626 397h0M626 386h0M626 383.5h0M626.5 383h0M626.5 382.5h0M626.5 382h0M626.5 383.5h0M626.5 384h0M627 386.5h0M627 389h0M627 390.5h0M627 396h0M627 404.5h0M627 401.5h0M627.5 400h0M627.5 385h0M627.5 382.5h0M628 383.5h0M628 383h0M628 382.5h0M628 384h0M628 385.5h0M628 386h0M628 392h0M628 390h0M628.5 398.5h0M628.5 407.5h0M628.5 418h0M628.5 399.5h0M628.5 394.5h0M629 387h0M629 386h0M629 384.5h0M629 383.5h0M629 384h0M629.5 384h0M629.5 385.5h0M629.5 397.5h0M629.5 406h0M630 401h0M630 392h0M630 389.5h0M630.5 385h0M630.5 384.5h0M630.5 384h0M630.5 385.5h0M631 392.5h0M631 395h0M631 399h0M631 411.5h0M631 397h0M631.5 392.5h0M631.5 390.5h0M631.5 385.5h0M631.5 386h0M631.5 384.5h0M631.5 384h0M631.5 385h0M632 386.5h0M632 386h0M632 387h0M632 392.5h0M632 398.5h0M632 398h0M632 409h0M632 403h0M632.5 398h0M632.5 389h0M632.5 386h0M632.5 385.5h0M633 385.5h0M633 387h0M633 386.5h0M633 389h0M633 390.5h0M633.5 400.5h0M633.5 395.5h0M633.5 404.5h0M633.5 390.5h0M634 388h0M634 386h0M634 387h0M634 385.5h0M634 387.5h0M634 388.5h0M634 390h0M634.5 405h0M634.5 402.5h0M635 394h0M635 391h0M635 388h0M635 385.5h0M635 387.5h0M635 387h0M635 386h0M635.5 388h0M635.5 397h0M636 397h0M636 388h0M636 387h0M636 385.5h0M636.5 387.5h0M636.5 389h0M636.5 389.5h0M637 401h0M637 404.5h0M637 390.5h0M637 387.5h0M637.5 386.5h0M637.5 388h0M637.5 391h0M637.5 403.5h0M638 407h0M638 396h0M638 392h0M638 390.5h0M638 387.5h0M638.5 387.5h0M638.5 387h0M638.5 389h0M638.5 395h0M639 414.5h0M639 389.5h0M639.5 388h0M639.5 387h0M639.5 389.5h0M639.5 391.5h0M639.5 394h0M640 392.5h0M640 388.5h0M640 390.5h0M640 389h0M640.5 387.5h0M640.5 389.5h0M640.5 390h0M641 399.5h0M641 396.5h0M641 398h0M641 390h0M641 388.5h0M641 389h0M641.5 388.5h0M641.5 390.5h0M641.5 395h0M642 398.5h0M642 391h0M642 389h0M642 389.5h0M642 390h0M642.5 397h0M642.5 398h0M642.5 402.5h0M642.5 403.5h0M643 395.5h0M643 391h0M643 392h0M643 390.5h0M643 389.5h0M643 394.5h0M643.5 396h0M643.5 397.5h0M643.5 410.5h0M643.5 406h0M643.5 400.5h0M643.5 395h0M644 393.5h0M644 391h0M644 389h0M644 390.5h0M644 390h0M644 391.5h0M644 401.5h0M644 403h0M644.5 401h0M644.5 398.5h0M644.5 391.5h0M645 389h0M645 390.5h0M645 393.5h0M645 401h0M645.5 406h0M645.5 393h0M645.5 390h0M646 391.5h0M646 395h0M646 400.5h0M646.5 394.5h0M646.5 392.5h0M646.5 391.5h0M646.5 391h0M646.5 390.5h0M646.5 393h0M646.5 392h0M647 406h0M647 409.5h0M647 401.5h0M647 399.5h0M647 395.5h0M647 391h0M647.5 391.5h0M647.5 392h0M647.5 390h0M647.5 399.5h0M647.5 410.5h0M647.5 402.5h0M647.5 407.5h0M648 393h0M648 391h0M648 392.5h0M648.5 399.5h0M648.5 405.5h0M648.5 412h0M648.5 399h0M648.5 395h0M648.5 394.5h0M649 390.5h0M649 391h0M649 402.5h0M649.5 407.5h0M649.5 393.5h0M649.5 394h0M649.5 392.5h0M649.5 393h0M649.5 394.5h0M650 410.5h0M650 398h0M650 397.5h0M650 403h0M650 395.5h0M650.5 392.5h0M650.5 391.5h0M650.5 392h0M650.5 402.5h0M650.5 401.5h0M651 404h0M651 393.5h0M651 394h0M651 394.5h0M651 392h0M651 393h0M651 396h0M651.5 403h0M651.5 394.5h0M652 393h0M652 395.5h0M652 394.5h0M652 397h0M652 401.5h0M652 409h0M652 402h0M652.5 401h0M652.5 395.5h0M652.5 398.5h0M652.5 393.5h0M652.5 394.5h0M652.5 395h0M652.5 394h0M652.5 396h0M652.5 408.5h0M653 405.5h0M653 399.5h0M653 396h0M653 395h0M653 393h0M653 394.5h0M653.5 397.5h0M653.5 402.5h0M653.5 393.5h0M654 394.5h0M654 393h0M654 395h0M654 393.5h0M654 395.5h0M654 397.5h0M654 399h0M654.5 399h0M654.5 401h0M654.5 396h0M654.5 395h0M654.5 394h0M654.5 393.5h0M654.5 396.5h0" stroke="#000" stroke-width="3.3" stroke-linecap="round" fill="none"/>
<text transform="translate(387.60 308.70) scale(1.05 1)" text-anchor="end" class="tl">10<tspan dy="-7.6" style="font-size:12.6px">0</tspan></text>
<text transform="translate(387.60 390.60) scale(1.05 1)" text-anchor="end" class="tl">10<tspan dy="-7.6" style="font-size:12.6px">-2</tspan></text>
<text transform="translate(387.60 472.50) scale(1.05 1)" text-anchor="end" class="tl">10<tspan dy="-7.6" style="font-size:12.6px">-4</tspan></text>
<text transform="translate(479.78 491.60) scale(1.05 1)" text-anchor="middle" class="tl">10<tspan dy="-7.6" style="font-size:12.6px">0</tspan></text>
<text transform="translate(650.33 491.60) scale(1.05 1)" text-anchor="middle" class="tl">10<tspan dy="-7.6" style="font-size:12.6px">2</tspan></text>
<text transform="translate(514.40 496.90) scale(1.035 1)" class="fl" style="font-size:18.3px">T<tspan dy="8.7" style="font-size:14px">int</tspan><tspan dy="-8.7">/T</tspan></text>
<text transform="translate(406.00 324.30) scale(1.06 1)" class="fl" style="font-weight:bold;font-size:18px">(d)</text>
<rect x="50.4" y="520.0" width="262.90" height="250.00" fill="url(#gE)"/>
<rect x="50.4" y="763.3" width="262.90" height="6.70" fill="url(#gE2)"/>
<path d="M63.55 770.00v-1.6M63.55 520.00v1.6M76.69 770.00v-1.6M76.69 520.00v1.6M89.84 770.00v-1.6M89.84 520.00v1.6M102.98 770.00v-1.6M102.98 520.00v1.6M116.12 770.00v-3M116.12 520.00v3M129.27 770.00v-1.6M129.27 520.00v1.6M142.42 770.00v-1.6M142.42 520.00v1.6M155.56 770.00v-1.6M155.56 520.00v1.6M168.71 770.00v-1.6M168.71 520.00v1.6M181.85 770.00v-3M181.85 520.00v3M195.00 770.00v-1.6M195.00 520.00v1.6M208.14 770.00v-1.6M208.14 520.00v1.6M221.29 770.00v-1.6M221.29 520.00v1.6M234.43 770.00v-1.6M234.43 520.00v1.6M247.58 770.00v-3M247.58 520.00v3M260.72 770.00v-1.6M260.72 520.00v1.6M273.87 770.00v-1.6M273.87 520.00v1.6M287.01 770.00v-1.6M287.01 520.00v1.6M300.16 770.00v-1.6M300.16 520.00v1.6M313.30 770.00v-3M313.30 520.00v3M50.40 760.04h1.6M313.30 760.04h-1.6M50.40 750.08h1.6M313.30 750.08h-1.6M50.40 740.12h1.6M313.30 740.12h-1.6M50.40 730.16h1.6M313.30 730.16h-1.6M50.40 720.20h3M313.30 720.20h-3M50.40 710.24h1.6M313.30 710.24h-1.6M50.40 700.28h1.6M313.30 700.28h-1.6M50.40 690.32h1.6M313.30 690.32h-1.6M50.40 680.36h1.6M313.30 680.36h-1.6M50.40 670.40h3M313.30 670.40h-3M50.40 660.44h1.6M313.30 660.44h-1.6M50.40 650.48h1.6M313.30 650.48h-1.6M50.40 640.52h1.6M313.30 640.52h-1.6M50.40 630.56h1.6M313.30 630.56h-1.6M50.40 620.60h3M313.30 620.60h-3M50.40 610.64h1.6M313.30 610.64h-1.6M50.40 600.68h1.6M313.30 600.68h-1.6M50.40 590.72h1.6M313.30 590.72h-1.6M50.40 580.76h1.6M313.30 580.76h-1.6M50.40 570.80h3M313.30 570.80h-3M50.40 560.84h1.6M313.30 560.84h-1.6M50.40 550.88h1.6M313.30 550.88h-1.6M50.40 540.92h1.6M313.30 540.92h-1.6M50.40 530.96h1.6M313.30 530.96h-1.6M50.40 521.00h3M313.30 521.00h-3" stroke="#222" stroke-width="0.9" fill="none"/>
<rect x="50.40" y="520.00" width="262.90" height="250.00" fill="none" stroke="#333" stroke-width="1"/>
<text transform="translate(46.90 725.00)" text-anchor="end" class="ts">500</text>
<text transform="translate(46.90 675.20)" text-anchor="end" class="ts">1000</text>
<text transform="translate(46.90 625.40)" text-anchor="end" class="ts">1500</text>
<text transform="translate(46.90 575.60)" text-anchor="end" class="ts">2000</text>
<text x="116.1" y="786.3" text-anchor="middle" class="ts">0.5</text>
<text x="181.9" y="786.3" text-anchor="middle" class="ts">1</text>
<text x="247.6" y="786.3" text-anchor="middle" class="ts">1.5</text>
<text x="313.3" y="786.3" text-anchor="middle" class="ts">2</text>
<text transform="translate(181.85 802.20) scale(1.035 1)" text-anchor="middle" class="as">Time [<tspan font-style="italic" font-family="'Liberation Serif', serif">μ</tspan> s]</text>
<text transform="translate(14.8 646) rotate(-90)" text-anchor="middle" class="as">Number of segments</text>
<text transform="translate(12.60 531.40) scale(1.03 1)" class="as" style="font-size:15.2px">(e)</text>
<rect x="356.8" y="518.60" width="262.80" height="2.00" fill="url(#gX)" shape-rendering="crispEdges"/>
<rect x="356.8" y="520.60" width="262.80" height="2.20" fill="url(#gY)" shape-rendering="crispEdges"/>
<rect x="356.8" y="522.80" width="262.80" height="4.40" fill="url(#gX)" shape-rendering="crispEdges"/>
<rect x="356.8" y="527.20" width="262.80" height="4.90" fill="url(#gY)" shape-rendering="crispEdges"/>
<rect x="356.8" y="532.10" width="262.80" height="10.00" fill="url(#gX)" shape-rendering="crispEdges"/>
<rect x="356.8" y="542.10" width="262.80" height="10.70" fill="url(#gY)" shape-rendering="crispEdges"/>
<rect x="356.8" y="552.80" width="262.80" height="3.40" fill="url(#gX)" shape-rendering="crispEdges"/>
<rect x="356.8" y="556.20" width="262.80" height="4.10" fill="url(#gY)" shape-rendering="crispEdges"/>
<rect x="356.8" y="560.30" width="262.80" height="5.20" fill="url(#gX)" shape-rendering="crispEdges"/>
<rect x="356.8" y="565.50" width="262.80" height="1.60" fill="url(#gX)" shape-rendering="crispEdges"/>
<rect x="356.8" y="567.10" width="262.80" height="1.60" fill="url(#gY)" shape-rendering="crispEdges"/>
<rect x="356.8" y="568.70" width="262.80" height="1.60" fill="url(#gX)" shape-rendering="crispEdges"/>
<rect x="356.8" y="570.30" width="262.80" height="1.60" fill="url(#gY)" shape-rendering="crispEdges"/>
<rect x="356.8" y="571.90" width="262.80" height="1.30" fill="url(#gX)" shape-rendering="crispEdges"/>
<rect x="356.8" y="573.20" width="262.80" height="2.20" fill="url(#gY)" shape-rendering="crispEdges"/>
<rect x="356.8" y="575.40" width="262.80" height="5.60" fill="url(#gX)" shape-rendering="crispEdges"/>
<rect x="356.8" y="581.00" width="262.80" height="2.90" fill="url(#gY)" shape-rendering="crispEdges"/>
<rect x="356.8" y="583.90" width="262.80" height="2.60" fill="url(#gX)" shape-rendering="crispEdges"/>
<rect x="356.8" y="586.50" width="262.80" height="3.70" fill="url(#gY)" shape-rendering="crispEdges"/>
<rect x="356.8" y="590.20" width="262.80" height="2.30" fill="url(#gX)" shape-rendering="crispEdges"/>
<rect x="356.8" y="592.50" width="262.80" height="7.00" fill="url(#gY)" shape-rendering="crispEdges"/>
<rect x="356.8" y="599.50" width="262.80" height="4.50" fill="url(#gX)" shape-rendering="crispEdges"/>
<rect x="356.8" y="604.00" width="262.80" height="5.50" fill="url(#gY)" shape-rendering="crispEdges"/>
<rect x="356.8" y="609.50" width="262.80" height="3.00" fill="url(#gX)" shape-rendering="crispEdges"/>
<rect x="356.8" y="612.50" width="262.80" height="5.20" fill="url(#gY)" shape-rendering="crispEdges"/>
<rect x="356.8" y="617.70" width="262.80" height="15.70" fill="url(#gX)" shape-rendering="crispEdges"/>
<rect x="356.8" y="633.40" width="262.80" height="11.50" fill="url(#gY)" shape-rendering="crispEdges"/>
<rect x="356.8" y="644.90" width="262.80" height="1.10" fill="url(#gX)" shape-rendering="crispEdges"/>
<rect x="356.8" y="646.00" width="262.80" height="4.40" fill="url(#gY)" shape-rendering="crispEdges"/>
<rect x="356.8" y="650.40" width="262.80" height="3.40" fill="url(#gX)" shape-rendering="crispEdges"/>
<rect x="356.8" y="653.80" width="262.80" height="6.30" fill="url(#gY)" shape-rendering="crispEdges"/>
<rect x="356.8" y="660.10" width="262.80" height="7.80" fill="url(#gX)" shape-rendering="crispEdges"/>
<rect x="356.8" y="667.90" width="262.80" height="14.10" fill="url(#gY)" shape-rendering="crispEdges"/>
<rect x="356.8" y="682.00" width="262.80" height="5.60" fill="url(#gX)" shape-rendering="crispEdges"/>
<rect x="356.8" y="687.60" width="262.80" height="4.80" fill="url(#gY)" shape-rendering="crispEdges"/>
<rect x="356.8" y="692.40" width="262.80" height="10.80" fill="url(#gX)" shape-rendering="crispEdges"/>
<rect x="356.8" y="703.20" width="262.80" height="6.70" fill="url(#gY)" shape-rendering="crispEdges"/>
<rect x="356.8" y="709.90" width="262.80" height="4.80" fill="url(#gX)" shape-rendering="crispEdges"/>
<rect x="356.8" y="714.70" width="262.80" height="1.60" fill="url(#gX)" shape-rendering="crispEdges"/>
<rect x="356.8" y="716.30" width="262.80" height="1.60" fill="url(#gY)" shape-rendering="crispEdges"/>
<rect x="356.8" y="717.90" width="262.80" height="1.60" fill="url(#gX)" shape-rendering="crispEdges"/>
<rect x="356.8" y="719.50" width="262.80" height="1.60" fill="url(#gY)" shape-rendering="crispEdges"/>
<rect x="356.8" y="721.10" width="262.80" height="1.60" fill="url(#gX)" shape-rendering="crispEdges"/>
<rect x="356.8" y="722.70" width="262.80" height="1.60" fill="url(#gY)" shape-rendering="crispEdges"/>
<rect x="356.8" y="724.30" width="262.80" height="0.10" fill="url(#gX)" shape-rendering="crispEdges"/>
<rect x="356.8" y="724.40" width="262.80" height="8.00" fill="url(#gY)" shape-rendering="crispEdges"/>
<rect x="356.8" y="732.40" width="262.80" height="1.60" fill="url(#gX)" shape-rendering="crispEdges"/>
<rect x="356.8" y="734.00" width="262.80" height="1.60" fill="url(#gY)" shape-rendering="crispEdges"/>
<rect x="356.8" y="735.60" width="262.80" height="1.60" fill="url(#gX)" shape-rendering="crispEdges"/>
<rect x="356.8" y="737.20" width="262.80" height="0.20" fill="url(#gY)" shape-rendering="crispEdges"/>
<rect x="356.8" y="737.40" width="262.80" height="2.40" fill="url(#gX)" shape-rendering="crispEdges"/>
<rect x="356.8" y="739.80" width="262.80" height="12.40" fill="url(#gY)" shape-rendering="crispEdges"/>
<rect x="356.8" y="752.20" width="262.80" height="5.60" fill="url(#gX)" shape-rendering="crispEdges"/>
<rect x="356.8" y="757.80" width="262.80" height="10.70" fill="url(#gY)" shape-rendering="crispEdges"/>
<path d="M369.94 768.50v-1.6M369.94 518.60v1.6M383.08 768.50v-1.6M383.08 518.60v1.6M396.22 768.50v-1.6M396.22 518.60v1.6M409.36 768.50v-1.6M409.36 518.60v1.6M422.50 768.50v-3M422.50 518.60v3M435.64 768.50v-1.6M435.64 518.60v1.6M448.78 768.50v-1.6M448.78 518.60v1.6M461.92 768.50v-1.6M461.92 518.60v1.6M475.06 768.50v-1.6M475.06 518.60v1.6M488.20 768.50v-3M488.20 518.60v3M501.34 768.50v-1.6M501.34 518.60v1.6M514.48 768.50v-1.6M514.48 518.60v1.6M527.62 768.50v-1.6M527.62 518.60v1.6M540.76 768.50v-1.6M540.76 518.60v1.6M553.90 768.50v-3M553.90 518.60v3M567.04 768.50v-1.6M567.04 518.60v1.6M580.18 768.50v-1.6M580.18 518.60v1.6M593.32 768.50v-1.6M593.32 518.60v1.6M606.46 768.50v-1.6M606.46 518.60v1.6M619.60 768.50v-3M619.60 518.60v3M356.80 758.54h1.6M619.60 758.54h-1.6M356.80 748.59h1.6M619.60 748.59h-1.6M356.80 738.63h1.6M619.60 738.63h-1.6M356.80 728.68h1.6M619.60 728.68h-1.6M356.80 718.72h3M619.60 718.72h-3M356.80 708.76h1.6M619.60 708.76h-1.6M356.80 698.81h1.6M619.60 698.81h-1.6M356.80 688.85h1.6M619.60 688.85h-1.6M356.80 678.89h1.6M619.60 678.89h-1.6M356.80 668.94h3M619.60 668.94h-3M356.80 658.98h1.6M619.60 658.98h-1.6M356.80 649.03h1.6M619.60 649.03h-1.6M356.80 639.07h1.6M619.60 639.07h-1.6M356.80 629.11h1.6M619.60 629.11h-1.6M356.80 619.16h3M619.60 619.16h-3M356.80 609.20h1.6M619.60 609.20h-1.6M356.80 599.25h1.6M619.60 599.25h-1.6M356.80 589.29h1.6M619.60 589.29h-1.6M356.80 579.33h1.6M619.60 579.33h-1.6M356.80 569.38h3M619.60 569.38h-3M356.80 559.42h1.6M619.60 559.42h-1.6M356.80 549.46h1.6M619.60 549.46h-1.6M356.80 539.51h1.6M619.60 539.51h-1.6M356.80 529.55h1.6M619.60 529.55h-1.6M356.80 519.60h3M619.60 519.60h-3" stroke="#222" stroke-width="0.9" fill="none"/>
<rect x="356.80" y="518.60" width="262.80" height="249.90" fill="none" stroke="#333" stroke-width="1"/>
<text transform="translate(353.30 723.52)" text-anchor="end" class="ts">500</text>
<text transform="translate(353.30 673.74)" text-anchor="end" class="ts">1000</text>
<text transform="translate(353.30 623.96)" text-anchor="end" class="ts">1500</text>
<text transform="translate(353.30 574.18)" text-anchor="end" class="ts">2000</text>
<text x="422.5" y="784.8" text-anchor="middle" class="ts">0.5</text>
<text x="488.2" y="784.8" text-anchor="middle" class="ts">1</text>
<text x="553.9" y="784.8" text-anchor="middle" class="ts">1.5</text>
<text x="619.6" y="784.8" text-anchor="middle" class="ts">2</text>
<text transform="translate(488.20 800.70) scale(1.035 1)" text-anchor="middle" class="as">Time [<tspan font-style="italic" font-family="'Liberation Serif', serif">μ</tspan> s]</text>
<text transform="translate(330.60 533.40) scale(1.03 1)" class="as" style="font-size:15.4px">(f)</text>
<rect x="628.0" y="518.0" width="9.20" height="250.50" fill="url(#gC)" stroke="#333" stroke-width="0.8"/>
<text transform="translate(640.80 749.04)" class="ts" style="font-size:11.6px">-2</text>
<text transform="translate(640.80 722.44)" class="ts" style="font-size:11.6px">-1.5</text>
<text transform="translate(640.80 695.85)" class="ts" style="font-size:11.6px">-1</text>
<text transform="translate(640.80 669.26)" class="ts" style="font-size:11.6px">-0.5</text>
<text transform="translate(640.80 642.67)" class="ts" style="font-size:11.6px">0</text>
<text transform="translate(640.80 616.07)" class="ts" style="font-size:11.6px">0.5</text>
<text transform="translate(640.80 589.48)" class="ts" style="font-size:11.6px">1</text>
<text transform="translate(640.80 562.89)" class="ts" style="font-size:11.6px">1.5</text>
<text transform="translate(640.80 536.30)" class="ts" style="font-size:11.6px">2</text>
<path d="M637.20 744.04h-2.2M637.20 717.44h-2.2M637.20 690.85h-2.2M637.20 664.26h-2.2M637.20 637.67h-2.2M637.20 611.07h-2.2M637.20 584.48h-2.2M637.20 557.89h-2.2M637.20 531.30h-2.2" stroke="#222" stroke-width="0.9"/>
<text transform="translate(675.40 643.40) rotate(-90) scale(0.9 1)" text-anchor="middle" class="as">Laser Intensity [a.u]</text></svg>
</body></html>
